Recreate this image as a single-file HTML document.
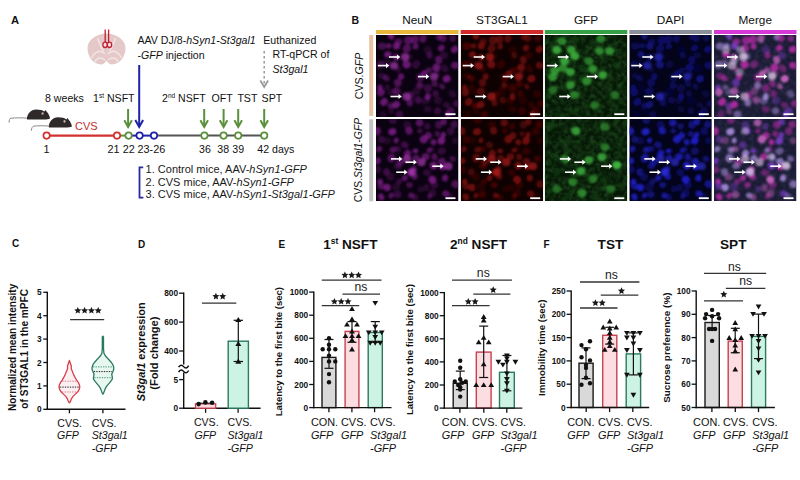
<!DOCTYPE html>
<html><head><meta charset="utf-8"><style>
html,body{margin:0;padding:0;background:#fff;width:800px;height:480px;overflow:hidden}
svg{display:block;font-family:"Liberation Sans", sans-serif}
</style></head><body>
<svg width="800" height="480" viewBox="0 0 800 480">
<rect width="800" height="480" fill="#fff"/>
<defs><filter id="sb" x="-20%" y="-20%" width="140%" height="140%"><feGaussianBlur stdDeviation="0.5"/></filter></defs>
<text x="11" y="24" style="font-size:11.2px;font-weight:bold;" fill="#111" text-anchor="start" >A</text>
<g transform="translate(106.5,49)" filter="url(#sb)">
      <path d="M0,-15.5 C10,-15.5 19,-9 19,-1 C19,7 14,15.5 5,15.5 C2.5,15.5 1,13 0,11.5 C-1,13 -2.5,15.5 -5,15.5 C-14,15.5 -19,7 -19,-1 C-19,-9 -10,-15.5 0,-15.5 Z" fill="#e5c8c8"/>
      <path d="M-15,9 C-11,1 -5,1 -1.5,5 M15,9 C11,1 5,1 1.5,5 M-12,13 C-9,8 -5,8 -1.5,11 M12,13 C9,8 5,8 1.5,11 M-9,-11 C-7,-6 -6,-2 -3,2 M9,-11 C7,-6 6,-2 3,2" stroke="#f2e4e4" stroke-width="1.6" fill="none"/>
    </g>
<g stroke="#c02030" stroke-width="1.3" fill="none"><line x1="105.2" y1="29.5" x2="105.2" y2="42"/><line x1="108.6" y1="29.5" x2="108.6" y2="42"/><ellipse cx="105.1" cy="44.8" rx="2.2" ry="2.7" fill="#f6e0e4"/><ellipse cx="109.5" cy="44.8" rx="2.2" ry="2.7" fill="#f6e0e4"/></g>
<text x="137.5" y="43.8" style="font-size:10.6px" fill="#111">AAV DJ/8-<tspan font-style="italic">hSyn1-St3gal1</tspan></text>
<text x="137.5" y="58.8" style="font-size:10.6px" fill="#111">-<tspan font-style="italic">GFP</tspan> injection</text>
<text x="263.3" y="43.7" style="font-size:10.6px;" fill="#111" text-anchor="start" >Euthanized</text>
<text x="272.5" y="58.3" style="font-size:10.6px;" fill="#111" text-anchor="start" >RT-qPCR of</text>
<text x="272.5" y="72.5" style="font-size:10.6px;font-style:italic;" fill="#111" text-anchor="start" >St3gal1</text>
<line x1="264.2" y1="51" x2="264.2" y2="86" stroke="#9a9a9a" stroke-width="1.5" stroke-dasharray="2.5,2.5"/>
<polyline points="260.3,80.5 264.2,87 268.1,80.5" stroke="#9a9a9a" stroke-width="1.8" fill="none"/>
<line x1="139.2" y1="65" x2="139.2" y2="126.5" stroke="#1e22a6" stroke-width="2"/>
<polyline points="135.3,120 139.2,127 143.1,120" stroke="#1e22a6" stroke-width="2" fill="none"/>
<text x="45" y="101.7" style="font-size:10.6px;" fill="#111" text-anchor="start" >8 weeks</text>
<text x="93" y="101.7" style="font-size:10.6px" fill="#111">1<tspan dy="-3.5" style="font-size:6.5px">st</tspan><tspan dy="3.5"> NSFT</tspan></text>
<text x="162" y="101.7" style="font-size:10.6px" fill="#111">2<tspan dy="-3.5" style="font-size:6.5px">nd</tspan><tspan dy="3.5"> NSFT</tspan></text>
<text x="211.6" y="101.7" style="font-size:10.6px;" fill="#111" text-anchor="start" >OFT</text>
<text x="237.4" y="101.7" style="font-size:10.6px;" fill="#111" text-anchor="start" >TST</text>
<text x="261.6" y="101.7" style="font-size:10.6px;" fill="#111" text-anchor="start" >SPT</text>
<line x1="128.1" y1="109" x2="128.1" y2="126.5" stroke="#5a8f3c" stroke-width="2"/>
<polyline points="124.3,120.3 128.1,127 131.9,120.3" stroke="#5a8f3c" stroke-width="2" fill="none"/>
<line x1="204.2" y1="109" x2="204.2" y2="126.5" stroke="#5a8f3c" stroke-width="2"/>
<polyline points="200.39999999999998,120.3 204.2,127 208.0,120.3" stroke="#5a8f3c" stroke-width="2" fill="none"/>
<line x1="223.6" y1="109" x2="223.6" y2="126.5" stroke="#5a8f3c" stroke-width="2"/>
<polyline points="219.79999999999998,120.3 223.6,127 227.4,120.3" stroke="#5a8f3c" stroke-width="2" fill="none"/>
<line x1="238.2" y1="109" x2="238.2" y2="126.5" stroke="#5a8f3c" stroke-width="2"/>
<polyline points="234.39999999999998,120.3 238.2,127 242.0,120.3" stroke="#5a8f3c" stroke-width="2" fill="none"/>
<line x1="264.2" y1="109" x2="264.2" y2="126.5" stroke="#5a8f3c" stroke-width="2"/>
<polyline points="260.4,120.3 264.2,127 268.0,120.3" stroke="#5a8f3c" stroke-width="2" fill="none"/>
<g transform="translate(27,109.2)">
        <path d="M0.5,9 C-5,8.5 -12,8.6 -16,9 C-17.5,9.2 -18,11 -17.8,13.5" stroke="#8a8a8a" stroke-width="1" fill="none"/>
        <path d="M0,10.3 C-0.5,5 4,0.2 9,0.2 C13,0.2 16,1 17.5,2.3 L18.5,0.8 L19.8,2.6 C21.5,4.5 23,7.5 23,9.3 C22,10 19,10.3 17,10.3 Z" fill="#2e2a2a"/>
        <ellipse cx="15.6" cy="4.3" rx="1.1" ry="1.3" fill="#c9a9a9"/>
        </g>
<g transform="translate(48.9,117.1)">
        <path d="M0.5,9 C-5,8.5 -11,8.6 -15,9 C-16.5,9.2 -17.3,11 -17.6,13.6" stroke="#8a8a8a" stroke-width="1" fill="none"/>
        <path d="M0,10.3 C-0.5,5 4,0.2 9,0.2 C13,0.2 16,1 17.5,2.3 L18.5,0.8 L19.8,2.6 C21.5,4.5 23,7.5 23,9.3 C22,10 19,10.3 17,10.3 Z" fill="#2e2a2a"/>
        <ellipse cx="15.6" cy="4.3" rx="1.1" ry="1.3" fill="#c9a9a9"/>
        </g>
<text x="75" y="129.9" style="font-size:11px;" fill="#c42e2e" text-anchor="start" >CVS</text>
<line x1="46.6" y1="135.6" x2="117" y2="135.6" stroke="#d33030" stroke-width="2.4"/>
<line x1="117" y1="135.6" x2="128.6" y2="135.6" stroke="#5a8f3c" stroke-width="2"/>
<line x1="128.6" y1="135.6" x2="154" y2="135.6" stroke="#1e22a6" stroke-width="2"/>
<line x1="154" y1="135.6" x2="264.2" y2="135.6" stroke="#555" stroke-width="2"/>
<circle cx="46.6" cy="135.6" r="3.2" fill="#fff" stroke="#d33030" stroke-width="1.7"/>
<circle cx="117" cy="135.6" r="3.2" fill="#fff" stroke="#d33030" stroke-width="1.7"/>
<circle cx="128.6" cy="135.6" r="3.2" fill="#fff" stroke="#5a8f3c" stroke-width="1.7"/>
<circle cx="139.6" cy="135.6" r="3.2" fill="#fff" stroke="#1e22a6" stroke-width="1.7"/>
<circle cx="154" cy="135.6" r="3.2" fill="#fff" stroke="#1e22a6" stroke-width="1.7"/>
<circle cx="204.4" cy="135.6" r="3.2" fill="#fff" stroke="#5a8f3c" stroke-width="1.7"/>
<circle cx="223.6" cy="135.6" r="3.2" fill="#fff" stroke="#5a8f3c" stroke-width="1.7"/>
<circle cx="238.2" cy="135.6" r="3.2" fill="#fff" stroke="#5a8f3c" stroke-width="1.7"/>
<circle cx="264.2" cy="135.6" r="3.2" fill="#fff" stroke="#5a8f3c" stroke-width="1.7"/>
<text x="46.6" y="153.4" style="font-size:10.8px;" fill="#111" text-anchor="middle" >1</text>
<text x="107.6" y="153.4" style="font-size:10.8px;" fill="#111" text-anchor="start" >21</text>
<text x="122.8" y="153.4" style="font-size:10.8px;" fill="#111" text-anchor="start" >22</text>
<text x="137.6" y="153.4" style="font-size:10.8px;" fill="#111" text-anchor="start" >23-26</text>
<text x="205" y="153.4" style="font-size:10.6px;" fill="#111" text-anchor="middle" >36</text>
<text x="223.2" y="153.4" style="font-size:10.6px;" fill="#111" text-anchor="middle" >38</text>
<text x="238.2" y="153.4" style="font-size:10.6px;" fill="#111" text-anchor="middle" >39</text>
<text x="257.3" y="153.4" style="font-size:10.6px;" fill="#111" text-anchor="start" >42 days</text>
<polyline points="143.2,167.4 139.5,167.4 139.5,197.6 143.4,197.6" stroke="#2a2aa0" stroke-width="1.8" fill="none"/>
<text x="145.6" y="173.1" style="font-size:11px" fill="#1a1a1a">1. Control mice, AAV-<tspan font-style="italic">hSyn1-GFP</tspan></text>
<text x="145.6" y="185.8" style="font-size:11px" fill="#1a1a1a">2. CVS mice, AAV-<tspan font-style="italic">hSyn1-GFP</tspan></text>
<text x="145.6" y="198.3" style="font-size:11px" fill="#1a1a1a">3. CVS mice, AAV-<tspan font-style="italic">hSyn1-St3gal1-GFP</tspan></text>
<text x="351.5" y="23.8" style="font-size:10.5px;font-weight:bold;" fill="#111" text-anchor="start" >B</text>
<text x="417.25" y="24.4" style="font-size:11.8px;" fill="#111" text-anchor="middle" >NeuN</text>
<rect x="376" y="30" width="82.5" height="4" fill="#e8b83a"/>
<text x="501.95" y="24.4" style="font-size:11.8px;" fill="#111" text-anchor="middle" >ST3GAL1</text>
<rect x="460.7" y="30" width="82.5" height="4" fill="#d32a2a"/>
<text x="586.05" y="24.4" style="font-size:11.8px;" fill="#111" text-anchor="middle" >GFP</text>
<rect x="544.8" y="30" width="82.5" height="4" fill="#35a045"/>
<text x="670.55" y="24.4" style="font-size:11.8px;" fill="#111" text-anchor="middle" >DAPI</text>
<rect x="629.3" y="30" width="82.5" height="4" fill="#8a8f99"/>
<text x="755.25" y="24.4" style="font-size:11.8px;" fill="#111" text-anchor="middle" >Merge</text>
<rect x="714" y="30" width="82.5" height="4" fill="#d63ad6"/>
<rect x="369.2" y="35" width="4" height="81" fill="#e8c4a4"/>
<rect x="369.2" y="119.3" width="4" height="82" fill="#c4c4c4"/>
<text transform="translate(362.5,76) rotate(-90)" text-anchor="middle" style="font-size:10.6px" fill="#111">CVS.<tspan font-style="italic">GFP</tspan></text>
<text transform="translate(361.5,160) rotate(-90)" text-anchor="middle" style="font-size:10.4px" fill="#111">CVS.<tspan font-style="italic">St3gal1-GFP</tspan></text>
<defs><filter id="bl" x="-20%" y="-20%" width="140%" height="140%"><feGaussianBlur stdDeviation="1.3"/></filter><filter id="bl2" x="-20%" y="-20%" width="140%" height="140%"><feGaussianBlur stdDeviation="0.8"/></filter><clipPath id="cp00"><rect x="376" y="35" width="82.5" height="82"/></clipPath><clipPath id="cp01"><rect x="460.7" y="35" width="82.5" height="82"/></clipPath><clipPath id="cp02"><rect x="544.8" y="35" width="82.5" height="82"/></clipPath><clipPath id="cp03"><rect x="629.3" y="35" width="82.5" height="82"/></clipPath><clipPath id="cp04"><rect x="714" y="35" width="82.5" height="82"/></clipPath><clipPath id="cp10"><rect x="376" y="119" width="82.5" height="82"/></clipPath><clipPath id="cp11"><rect x="460.7" y="119" width="82.5" height="82"/></clipPath><clipPath id="cp12"><rect x="544.8" y="119" width="82.5" height="82"/></clipPath><clipPath id="cp13"><rect x="629.3" y="119" width="82.5" height="82"/></clipPath><clipPath id="cp14"><rect x="714" y="119" width="82.5" height="82"/></clipPath></defs>
<defs><filter id="tex" x="0" y="0" width="100%" height="100%"><feTurbulence type="fractalNoise" baseFrequency="0.22" numOctaves="2" seed="3"/><feColorMatrix type="matrix" values="0 0 0 0 0.08  0 0 0 0 0.3  0 0 0 0 0.08  0 0 0 1.3 -0.5"/><feGaussianBlur stdDeviation="0.5"/></filter><filter id="tex2" x="0" y="0" width="100%" height="100%"><feTurbulence type="fractalNoise" baseFrequency="0.22" numOctaves="2" seed="5"/><feColorMatrix type="matrix" values="0 0 0 0 0.2  0 0 0 0 0.26  0 0 0 0 0.35  0 0 0 1.3 -0.5"/><feGaussianBlur stdDeviation="0.5"/></filter></defs>
<g clip-path="url(#cp00)"><rect x="376" y="35" width="82.5" height="82" fill="#0a0210"/>
<g filter="url(#bl)">
<ellipse cx="382.0" cy="46.2" rx="4.2" ry="3.6" transform="rotate(2 382.0 46.2)" fill="#a424b0" opacity="0.37"/>
<ellipse cx="380.3" cy="64.7" rx="4.2" ry="3.6" transform="rotate(126 380.3 64.7)" fill="#a424b0" opacity="0.33"/>
<ellipse cx="381.9" cy="75.9" rx="3.9" ry="3.2" transform="rotate(25 381.9 75.9)" fill="#a424b0" opacity="0.22"/>
<ellipse cx="379.8" cy="87.4" rx="3.1" ry="2.6" transform="rotate(121 379.8 87.4)" fill="#a424b0" opacity="0.54"/>
<ellipse cx="380.9" cy="92.4" rx="4.0" ry="3.7" transform="rotate(124 380.9 92.4)" fill="#a424b0" opacity="0.54"/>
<ellipse cx="384.0" cy="101.9" rx="4.2" ry="3.5" transform="rotate(129 384.0 101.9)" fill="#a424b0" opacity="0.60"/>
<ellipse cx="382.9" cy="114.6" rx="4.0" ry="3.5" transform="rotate(93 382.9 114.6)" fill="#a424b0" opacity="0.15"/>
<ellipse cx="391.0" cy="36.2" rx="3.6" ry="2.9" transform="rotate(62 391.0 36.2)" fill="#a424b0" opacity="0.64"/>
<ellipse cx="388.8" cy="45.9" rx="2.9" ry="2.7" transform="rotate(177 388.8 45.9)" fill="#a424b0" opacity="0.52"/>
<ellipse cx="387.8" cy="54.6" rx="3.7" ry="3.3" transform="rotate(12 387.8 54.6)" fill="#a424b0" opacity="0.61"/>
<ellipse cx="386.5" cy="63.5" rx="4.3" ry="4.3" transform="rotate(112 386.5 63.5)" fill="#a424b0" opacity="0.17"/>
<ellipse cx="386.3" cy="78.1" rx="3.6" ry="2.9" transform="rotate(48 386.3 78.1)" fill="#a424b0" opacity="0.38"/>
<ellipse cx="387.2" cy="87.2" rx="3.0" ry="2.7" transform="rotate(131 387.2 87.2)" fill="#a424b0" opacity="0.20"/>
<ellipse cx="391.1" cy="92.1" rx="3.9" ry="3.2" transform="rotate(149 391.1 92.1)" fill="#a424b0" opacity="0.17"/>
<ellipse cx="390.6" cy="105.9" rx="3.3" ry="3.1" transform="rotate(74 390.6 105.9)" fill="#a424b0" opacity="0.38"/>
<ellipse cx="391.2" cy="111.4" rx="3.1" ry="2.9" transform="rotate(92 391.2 111.4)" fill="#a424b0" opacity="0.17"/>
<ellipse cx="398.5" cy="41.6" rx="4.0" ry="3.3" transform="rotate(11 398.5 41.6)" fill="#a424b0" opacity="0.40"/>
<ellipse cx="396.6" cy="46.1" rx="3.5" ry="3.5" transform="rotate(3 396.6 46.1)" fill="#a424b0" opacity="0.63"/>
<ellipse cx="396.1" cy="57.4" rx="3.6" ry="2.9" transform="rotate(72 396.1 57.4)" fill="#a424b0" opacity="0.61"/>
<ellipse cx="398.1" cy="69.4" rx="3.0" ry="2.8" transform="rotate(127 398.1 69.4)" fill="#a424b0" opacity="0.22"/>
<ellipse cx="401.0" cy="76.6" rx="3.3" ry="3.1" transform="rotate(88 401.0 76.6)" fill="#a424b0" opacity="0.54"/>
<ellipse cx="397.8" cy="82.8" rx="4.0" ry="3.8" transform="rotate(71 397.8 82.8)" fill="#a424b0" opacity="0.45"/>
<ellipse cx="396.4" cy="91.4" rx="4.2" ry="4.2" transform="rotate(130 396.4 91.4)" fill="#a424b0" opacity="0.42"/>
<ellipse cx="396.1" cy="104.7" rx="4.1" ry="3.5" transform="rotate(146 396.1 104.7)" fill="#a424b0" opacity="0.61"/>
<ellipse cx="399.5" cy="114.6" rx="3.9" ry="3.9" transform="rotate(88 399.5 114.6)" fill="#a424b0" opacity="0.31"/>
<ellipse cx="408.5" cy="40.3" rx="4.4" ry="4.3" transform="rotate(135 408.5 40.3)" fill="#a424b0" opacity="0.46"/>
<ellipse cx="406.8" cy="48.5" rx="4.4" ry="4.0" transform="rotate(145 406.8 48.5)" fill="#a424b0" opacity="0.45"/>
<ellipse cx="409.1" cy="56.7" rx="3.5" ry="3.3" transform="rotate(159 409.1 56.7)" fill="#a424b0" opacity="0.18"/>
<ellipse cx="406.6" cy="64.5" rx="4.2" ry="3.9" transform="rotate(30 406.6 64.5)" fill="#a424b0" opacity="0.61"/>
<ellipse cx="410.7" cy="95.3" rx="4.0" ry="3.8" transform="rotate(132 410.7 95.3)" fill="#a424b0" opacity="0.31"/>
<ellipse cx="409.7" cy="102.4" rx="4.0" ry="3.4" transform="rotate(83 409.7 102.4)" fill="#a424b0" opacity="0.42"/>
<ellipse cx="414.9" cy="39.3" rx="4.3" ry="3.9" transform="rotate(118 414.9 39.3)" fill="#a424b0" opacity="0.45"/>
<ellipse cx="415.6" cy="46.4" rx="3.2" ry="2.9" transform="rotate(101 415.6 46.4)" fill="#a424b0" opacity="0.52"/>
<ellipse cx="416.3" cy="64.4" rx="4.3" ry="3.7" transform="rotate(130 416.3 64.4)" fill="#a424b0" opacity="0.24"/>
<ellipse cx="420.2" cy="77.4" rx="4.1" ry="4.1" transform="rotate(55 420.2 77.4)" fill="#a424b0" opacity="0.37"/>
<ellipse cx="419.8" cy="85.3" rx="3.5" ry="3.4" transform="rotate(39 419.8 85.3)" fill="#a424b0" opacity="0.41"/>
<ellipse cx="416.7" cy="90.9" rx="4.1" ry="4.0" transform="rotate(85 416.7 90.9)" fill="#a424b0" opacity="0.17"/>
<ellipse cx="418.2" cy="100.1" rx="3.8" ry="3.6" transform="rotate(52 418.2 100.1)" fill="#a424b0" opacity="0.34"/>
<ellipse cx="423.1" cy="38.7" rx="4.1" ry="3.4" transform="rotate(107 423.1 38.7)" fill="#a424b0" opacity="0.45"/>
<ellipse cx="428.0" cy="49.9" rx="4.3" ry="4.0" transform="rotate(46 428.0 49.9)" fill="#a424b0" opacity="0.16"/>
<ellipse cx="429.5" cy="55.3" rx="3.4" ry="3.1" transform="rotate(69 429.5 55.3)" fill="#a424b0" opacity="0.34"/>
<ellipse cx="429.0" cy="70.2" rx="3.3" ry="2.8" transform="rotate(10 429.0 70.2)" fill="#a424b0" opacity="0.38"/>
<ellipse cx="424.3" cy="73.6" rx="3.4" ry="3.3" transform="rotate(126 424.3 73.6)" fill="#a424b0" opacity="0.56"/>
<ellipse cx="427.8" cy="88.2" rx="4.1" ry="4.0" transform="rotate(36 427.8 88.2)" fill="#a424b0" opacity="0.30"/>
<ellipse cx="427.8" cy="96.5" rx="3.6" ry="2.9" transform="rotate(92 427.8 96.5)" fill="#a424b0" opacity="0.59"/>
<ellipse cx="425.7" cy="100.6" rx="4.3" ry="3.8" transform="rotate(154 425.7 100.6)" fill="#a424b0" opacity="0.19"/>
<ellipse cx="427.8" cy="109.2" rx="4.0" ry="3.3" transform="rotate(7 427.8 109.2)" fill="#a424b0" opacity="0.18"/>
<ellipse cx="439.1" cy="37.0" rx="3.5" ry="3.2" transform="rotate(120 439.1 37.0)" fill="#a424b0" opacity="0.38"/>
<ellipse cx="438.6" cy="59.9" rx="4.2" ry="3.4" transform="rotate(72 438.6 59.9)" fill="#a424b0" opacity="0.49"/>
<ellipse cx="436.3" cy="67.6" rx="4.0" ry="3.9" transform="rotate(122 436.3 67.6)" fill="#a424b0" opacity="0.59"/>
<ellipse cx="437.3" cy="73.3" rx="3.1" ry="2.9" transform="rotate(66 437.3 73.3)" fill="#a424b0" opacity="0.19"/>
<ellipse cx="434.6" cy="83.7" rx="3.5" ry="3.1" transform="rotate(40 434.6 83.7)" fill="#a424b0" opacity="0.36"/>
<ellipse cx="435.6" cy="93.5" rx="3.6" ry="3.1" transform="rotate(78 435.6 93.5)" fill="#a424b0" opacity="0.29"/>
<ellipse cx="438.1" cy="100.5" rx="4.3" ry="4.3" transform="rotate(133 438.1 100.5)" fill="#a424b0" opacity="0.17"/>
<ellipse cx="437.6" cy="110.9" rx="3.7" ry="3.6" transform="rotate(69 437.6 110.9)" fill="#a424b0" opacity="0.28"/>
<ellipse cx="443.0" cy="38.1" rx="3.9" ry="3.8" transform="rotate(57 443.0 38.1)" fill="#a424b0" opacity="0.40"/>
<ellipse cx="441.3" cy="48.0" rx="3.6" ry="3.1" transform="rotate(137 441.3 48.0)" fill="#a424b0" opacity="0.54"/>
<ellipse cx="444.0" cy="55.5" rx="4.1" ry="3.5" transform="rotate(172 444.0 55.5)" fill="#a424b0" opacity="0.22"/>
<ellipse cx="444.7" cy="68.5" rx="4.4" ry="3.6" transform="rotate(54 444.7 68.5)" fill="#a424b0" opacity="0.21"/>
<ellipse cx="446.7" cy="78.7" rx="4.1" ry="3.7" transform="rotate(151 446.7 78.7)" fill="#a424b0" opacity="0.63"/>
<ellipse cx="442.1" cy="86.5" rx="3.2" ry="2.6" transform="rotate(44 442.1 86.5)" fill="#a424b0" opacity="0.39"/>
<ellipse cx="446.5" cy="105.0" rx="3.5" ry="3.0" transform="rotate(23 446.5 105.0)" fill="#a424b0" opacity="0.23"/>
<ellipse cx="447.7" cy="114.3" rx="3.5" ry="3.1" transform="rotate(65 447.7 114.3)" fill="#a424b0" opacity="0.55"/>
<ellipse cx="452.8" cy="38.3" rx="3.6" ry="3.4" transform="rotate(89 452.8 38.3)" fill="#a424b0" opacity="0.32"/>
<ellipse cx="454.6" cy="49.4" rx="3.9" ry="3.3" transform="rotate(136 454.6 49.4)" fill="#a424b0" opacity="0.58"/>
<ellipse cx="455.0" cy="65.3" rx="4.0" ry="3.5" transform="rotate(12 455.0 65.3)" fill="#a424b0" opacity="0.50"/>
<ellipse cx="452.4" cy="93.9" rx="4.3" ry="3.5" transform="rotate(44 452.4 93.9)" fill="#a424b0" opacity="0.19"/>
<ellipse cx="456.6" cy="103.5" rx="3.8" ry="3.5" transform="rotate(17 456.6 103.5)" fill="#a424b0" opacity="0.31"/>
<ellipse cx="451.0" cy="111.0" rx="4.1" ry="3.9" transform="rotate(58 451.0 111.0)" fill="#a424b0" opacity="0.33"/>
<ellipse cx="405.0" cy="57.0" rx="4.2" ry="3.9" fill="#c040c8" opacity="0.6"/>
<ellipse cx="394.0" cy="65.6" rx="4.2" ry="3.9" fill="#c040c8" opacity="0.6"/>
<ellipse cx="434.0" cy="76.6" rx="4.2" ry="3.9" fill="#c040c8" opacity="0.6"/>
<ellipse cx="406.5" cy="96.5" rx="4.2" ry="3.9" fill="#c040c8" opacity="0.6"/>
</g></g>
<rect x="445.5" y="113.3" width="10" height="1.8" fill="#fff"/>
<g clip-path="url(#cp01)"><rect x="460.7" y="35" width="82.5" height="82" fill="#0e0101"/>
<g filter="url(#bl)">
<ellipse cx="466.7" cy="46.2" rx="4.2" ry="3.6" transform="rotate(2 466.7 46.2)" fill="#9a1010" opacity="0.39"/>
<ellipse cx="465.0" cy="64.7" rx="4.2" ry="3.6" transform="rotate(126 465.0 64.7)" fill="#9a1010" opacity="0.34"/>
<ellipse cx="466.6" cy="75.9" rx="3.9" ry="3.2" transform="rotate(25 466.6 75.9)" fill="#9a1010" opacity="0.22"/>
<ellipse cx="464.5" cy="87.4" rx="3.1" ry="2.6" transform="rotate(121 464.5 87.4)" fill="#9a1010" opacity="0.58"/>
<ellipse cx="465.6" cy="92.4" rx="4.0" ry="3.7" transform="rotate(124 465.6 92.4)" fill="#9a1010" opacity="0.58"/>
<ellipse cx="468.7" cy="101.9" rx="4.2" ry="3.5" transform="rotate(129 468.7 101.9)" fill="#9a1010" opacity="0.64"/>
<ellipse cx="467.6" cy="114.6" rx="4.0" ry="3.5" transform="rotate(93 467.6 114.6)" fill="#9a1010" opacity="0.15"/>
<ellipse cx="475.7" cy="36.2" rx="3.6" ry="2.9" transform="rotate(62 475.7 36.2)" fill="#9a1010" opacity="0.69"/>
<ellipse cx="473.5" cy="45.9" rx="2.9" ry="2.7" transform="rotate(177 473.5 45.9)" fill="#9a1010" opacity="0.55"/>
<ellipse cx="472.5" cy="54.6" rx="3.7" ry="3.3" transform="rotate(12 472.5 54.6)" fill="#9a1010" opacity="0.66"/>
<ellipse cx="471.2" cy="63.5" rx="4.3" ry="4.3" transform="rotate(112 471.2 63.5)" fill="#9a1010" opacity="0.18"/>
<ellipse cx="471.0" cy="78.1" rx="3.6" ry="2.9" transform="rotate(48 471.0 78.1)" fill="#9a1010" opacity="0.40"/>
<ellipse cx="471.9" cy="87.2" rx="3.0" ry="2.7" transform="rotate(131 471.9 87.2)" fill="#9a1010" opacity="0.21"/>
<ellipse cx="475.8" cy="92.1" rx="3.9" ry="3.2" transform="rotate(149 475.8 92.1)" fill="#9a1010" opacity="0.17"/>
<ellipse cx="475.3" cy="105.9" rx="3.3" ry="3.1" transform="rotate(74 475.3 105.9)" fill="#9a1010" opacity="0.40"/>
<ellipse cx="475.9" cy="111.4" rx="3.1" ry="2.9" transform="rotate(92 475.9 111.4)" fill="#9a1010" opacity="0.17"/>
<ellipse cx="483.2" cy="41.6" rx="4.0" ry="3.3" transform="rotate(11 483.2 41.6)" fill="#9a1010" opacity="0.42"/>
<ellipse cx="481.3" cy="46.1" rx="3.5" ry="3.5" transform="rotate(3 481.3 46.1)" fill="#9a1010" opacity="0.67"/>
<ellipse cx="480.8" cy="57.4" rx="3.6" ry="2.9" transform="rotate(72 480.8 57.4)" fill="#9a1010" opacity="0.66"/>
<ellipse cx="482.8" cy="69.4" rx="3.0" ry="2.8" transform="rotate(127 482.8 69.4)" fill="#9a1010" opacity="0.23"/>
<ellipse cx="485.7" cy="76.6" rx="3.3" ry="3.1" transform="rotate(88 485.7 76.6)" fill="#9a1010" opacity="0.58"/>
<ellipse cx="482.5" cy="82.8" rx="4.0" ry="3.8" transform="rotate(71 482.5 82.8)" fill="#9a1010" opacity="0.48"/>
<ellipse cx="481.1" cy="91.4" rx="4.2" ry="4.2" transform="rotate(130 481.1 91.4)" fill="#9a1010" opacity="0.45"/>
<ellipse cx="480.8" cy="104.7" rx="4.1" ry="3.5" transform="rotate(146 480.8 104.7)" fill="#9a1010" opacity="0.65"/>
<ellipse cx="484.2" cy="114.6" rx="3.9" ry="3.9" transform="rotate(88 484.2 114.6)" fill="#9a1010" opacity="0.33"/>
<ellipse cx="493.2" cy="40.3" rx="4.4" ry="4.3" transform="rotate(135 493.2 40.3)" fill="#9a1010" opacity="0.49"/>
<ellipse cx="491.5" cy="48.5" rx="4.4" ry="4.0" transform="rotate(145 491.5 48.5)" fill="#9a1010" opacity="0.48"/>
<ellipse cx="493.8" cy="56.7" rx="3.5" ry="3.3" transform="rotate(159 493.8 56.7)" fill="#9a1010" opacity="0.19"/>
<ellipse cx="491.3" cy="64.5" rx="4.2" ry="3.9" transform="rotate(30 491.3 64.5)" fill="#9a1010" opacity="0.66"/>
<ellipse cx="495.4" cy="95.3" rx="4.0" ry="3.8" transform="rotate(132 495.4 95.3)" fill="#9a1010" opacity="0.33"/>
<ellipse cx="494.4" cy="102.4" rx="4.0" ry="3.4" transform="rotate(83 494.4 102.4)" fill="#9a1010" opacity="0.45"/>
<ellipse cx="499.6" cy="39.3" rx="4.3" ry="3.9" transform="rotate(118 499.6 39.3)" fill="#9a1010" opacity="0.48"/>
<ellipse cx="500.3" cy="46.4" rx="3.2" ry="2.9" transform="rotate(101 500.3 46.4)" fill="#9a1010" opacity="0.55"/>
<ellipse cx="501.0" cy="64.4" rx="4.3" ry="3.7" transform="rotate(130 501.0 64.4)" fill="#9a1010" opacity="0.25"/>
<ellipse cx="504.9" cy="77.4" rx="4.1" ry="4.1" transform="rotate(55 504.9 77.4)" fill="#9a1010" opacity="0.39"/>
<ellipse cx="504.5" cy="85.3" rx="3.5" ry="3.4" transform="rotate(39 504.5 85.3)" fill="#9a1010" opacity="0.43"/>
<ellipse cx="501.4" cy="90.9" rx="4.1" ry="4.0" transform="rotate(85 501.4 90.9)" fill="#9a1010" opacity="0.17"/>
<ellipse cx="502.9" cy="100.1" rx="3.8" ry="3.6" transform="rotate(52 502.9 100.1)" fill="#9a1010" opacity="0.36"/>
<ellipse cx="507.8" cy="38.7" rx="4.1" ry="3.4" transform="rotate(107 507.8 38.7)" fill="#9a1010" opacity="0.48"/>
<ellipse cx="512.7" cy="49.9" rx="4.3" ry="4.0" transform="rotate(46 512.7 49.9)" fill="#9a1010" opacity="0.17"/>
<ellipse cx="514.2" cy="55.3" rx="3.4" ry="3.1" transform="rotate(69 514.2 55.3)" fill="#9a1010" opacity="0.36"/>
<ellipse cx="513.7" cy="70.2" rx="3.3" ry="2.8" transform="rotate(10 513.7 70.2)" fill="#9a1010" opacity="0.40"/>
<ellipse cx="509.0" cy="73.6" rx="3.4" ry="3.3" transform="rotate(126 509.0 73.6)" fill="#9a1010" opacity="0.60"/>
<ellipse cx="512.5" cy="88.2" rx="4.1" ry="4.0" transform="rotate(36 512.5 88.2)" fill="#9a1010" opacity="0.32"/>
<ellipse cx="512.5" cy="96.5" rx="3.6" ry="2.9" transform="rotate(92 512.5 96.5)" fill="#9a1010" opacity="0.63"/>
<ellipse cx="510.4" cy="100.6" rx="4.3" ry="3.8" transform="rotate(154 510.4 100.6)" fill="#9a1010" opacity="0.19"/>
<ellipse cx="512.5" cy="109.2" rx="4.0" ry="3.3" transform="rotate(7 512.5 109.2)" fill="#9a1010" opacity="0.19"/>
<ellipse cx="523.8" cy="37.0" rx="3.5" ry="3.2" transform="rotate(120 523.8 37.0)" fill="#9a1010" opacity="0.41"/>
<ellipse cx="523.3" cy="59.9" rx="4.2" ry="3.4" transform="rotate(72 523.3 59.9)" fill="#9a1010" opacity="0.52"/>
<ellipse cx="521.0" cy="67.6" rx="4.0" ry="3.9" transform="rotate(122 521.0 67.6)" fill="#9a1010" opacity="0.63"/>
<ellipse cx="522.0" cy="73.3" rx="3.1" ry="2.9" transform="rotate(66 522.0 73.3)" fill="#9a1010" opacity="0.20"/>
<ellipse cx="519.3" cy="83.7" rx="3.5" ry="3.1" transform="rotate(40 519.3 83.7)" fill="#9a1010" opacity="0.38"/>
<ellipse cx="520.3" cy="93.5" rx="3.6" ry="3.1" transform="rotate(78 520.3 93.5)" fill="#9a1010" opacity="0.30"/>
<ellipse cx="522.8" cy="100.5" rx="4.3" ry="4.3" transform="rotate(133 522.8 100.5)" fill="#9a1010" opacity="0.17"/>
<ellipse cx="522.3" cy="110.9" rx="3.7" ry="3.6" transform="rotate(69 522.3 110.9)" fill="#9a1010" opacity="0.30"/>
<ellipse cx="527.7" cy="38.1" rx="3.9" ry="3.8" transform="rotate(57 527.7 38.1)" fill="#9a1010" opacity="0.42"/>
<ellipse cx="526.0" cy="48.0" rx="3.6" ry="3.1" transform="rotate(137 526.0 48.0)" fill="#9a1010" opacity="0.58"/>
<ellipse cx="528.7" cy="55.5" rx="4.1" ry="3.5" transform="rotate(172 528.7 55.5)" fill="#9a1010" opacity="0.23"/>
<ellipse cx="529.4" cy="68.5" rx="4.4" ry="3.6" transform="rotate(54 529.4 68.5)" fill="#9a1010" opacity="0.22"/>
<ellipse cx="531.4" cy="78.7" rx="4.1" ry="3.7" transform="rotate(151 531.4 78.7)" fill="#9a1010" opacity="0.68"/>
<ellipse cx="526.8" cy="86.5" rx="3.2" ry="2.6" transform="rotate(44 526.8 86.5)" fill="#9a1010" opacity="0.42"/>
<ellipse cx="531.2" cy="105.0" rx="3.5" ry="3.0" transform="rotate(23 531.2 105.0)" fill="#9a1010" opacity="0.23"/>
<ellipse cx="532.4" cy="114.3" rx="3.5" ry="3.1" transform="rotate(65 532.4 114.3)" fill="#9a1010" opacity="0.59"/>
<ellipse cx="537.5" cy="38.3" rx="3.6" ry="3.4" transform="rotate(89 537.5 38.3)" fill="#9a1010" opacity="0.34"/>
<ellipse cx="539.3" cy="49.4" rx="3.9" ry="3.3" transform="rotate(136 539.3 49.4)" fill="#9a1010" opacity="0.62"/>
<ellipse cx="539.7" cy="65.3" rx="4.0" ry="3.5" transform="rotate(12 539.7 65.3)" fill="#9a1010" opacity="0.54"/>
<ellipse cx="537.1" cy="93.9" rx="4.3" ry="3.5" transform="rotate(44 537.1 93.9)" fill="#9a1010" opacity="0.20"/>
<ellipse cx="541.3" cy="103.5" rx="3.8" ry="3.5" transform="rotate(17 541.3 103.5)" fill="#9a1010" opacity="0.33"/>
<ellipse cx="535.7" cy="111.0" rx="4.1" ry="3.9" transform="rotate(58 535.7 111.0)" fill="#9a1010" opacity="0.34"/>
<ellipse cx="489.7" cy="57.0" rx="4.2" ry="3.9" fill="#c82020" opacity="0.6"/>
<ellipse cx="478.7" cy="65.6" rx="4.2" ry="3.9" fill="#c82020" opacity="0.6"/>
<ellipse cx="518.7" cy="76.6" rx="4.2" ry="3.9" fill="#c82020" opacity="0.6"/>
<ellipse cx="491.2" cy="96.5" rx="4.2" ry="3.9" fill="#c82020" opacity="0.6"/>
</g></g>
<rect x="530.2" y="113.3" width="10" height="1.8" fill="#fff"/>
<g clip-path="url(#cp02)"><rect x="544.8" y="35" width="82.5" height="82" fill="#061806"/>
<rect x="544.8" y="35" width="82.5" height="82" filter="url(#tex)" opacity="0.45"/>
<g filter="url(#bl)">
<ellipse cx="546.8" cy="40.9" rx="2.9" ry="2.8" fill="#1c521c" opacity="0.48"/>
<ellipse cx="551.7" cy="44.7" rx="2.5" ry="2.4" fill="#1c521c" opacity="0.43"/>
<ellipse cx="550.5" cy="57.6" rx="2.6" ry="2.2" fill="#1c521c" opacity="0.23"/>
<ellipse cx="551.5" cy="69.2" rx="3.3" ry="3.2" fill="#1c521c" opacity="0.50"/>
<ellipse cx="548.9" cy="94.4" rx="3.0" ry="3.0" fill="#1c521c" opacity="0.46"/>
<ellipse cx="548.0" cy="96.8" rx="3.1" ry="2.9" fill="#1c521c" opacity="0.41"/>
<ellipse cx="546.2" cy="106.1" rx="3.1" ry="2.9" fill="#1c521c" opacity="0.20"/>
<ellipse cx="545.6" cy="115.3" rx="2.6" ry="2.3" fill="#1c521c" opacity="0.41"/>
<ellipse cx="555.6" cy="39.9" rx="3.1" ry="3.0" fill="#1c521c" opacity="0.39"/>
<ellipse cx="555.8" cy="46.4" rx="3.3" ry="3.2" fill="#1c521c" opacity="0.32"/>
<ellipse cx="552.7" cy="55.5" rx="2.2" ry="2.1" fill="#1c521c" opacity="0.17"/>
<ellipse cx="554.3" cy="62.9" rx="3.2" ry="2.7" fill="#1c521c" opacity="0.39"/>
<ellipse cx="558.3" cy="69.1" rx="2.3" ry="2.1" fill="#1c521c" opacity="0.50"/>
<ellipse cx="557.0" cy="75.8" rx="3.0" ry="2.6" fill="#1c521c" opacity="0.27"/>
<ellipse cx="556.4" cy="86.2" rx="2.8" ry="2.3" fill="#1c521c" opacity="0.34"/>
<ellipse cx="552.9" cy="92.8" rx="3.2" ry="3.0" fill="#1c521c" opacity="0.19"/>
<ellipse cx="553.1" cy="100.8" rx="2.4" ry="2.2" fill="#1c521c" opacity="0.31"/>
<ellipse cx="558.1" cy="108.9" rx="3.2" ry="2.8" fill="#1c521c" opacity="0.25"/>
<ellipse cx="557.3" cy="115.3" rx="2.6" ry="2.4" fill="#1c521c" opacity="0.37"/>
<ellipse cx="565.8" cy="35.6" rx="2.8" ry="2.4" fill="#1c521c" opacity="0.45"/>
<ellipse cx="566.4" cy="43.7" rx="3.2" ry="2.6" fill="#1c521c" opacity="0.29"/>
<ellipse cx="560.1" cy="58.7" rx="2.6" ry="2.6" fill="#1c521c" opacity="0.31"/>
<ellipse cx="566.3" cy="70.8" rx="2.8" ry="2.5" fill="#1c521c" opacity="0.29"/>
<ellipse cx="562.9" cy="74.6" rx="2.8" ry="2.3" fill="#1c521c" opacity="0.34"/>
<ellipse cx="563.3" cy="85.7" rx="2.4" ry="2.4" fill="#1c521c" opacity="0.34"/>
<ellipse cx="563.6" cy="89.1" rx="2.9" ry="2.3" fill="#1c521c" opacity="0.28"/>
<ellipse cx="563.7" cy="98.0" rx="3.4" ry="3.0" fill="#1c521c" opacity="0.16"/>
<ellipse cx="563.9" cy="103.8" rx="2.4" ry="2.0" fill="#1c521c" opacity="0.22"/>
<ellipse cx="563.8" cy="115.9" rx="3.3" ry="2.6" fill="#1c521c" opacity="0.44"/>
<ellipse cx="571.1" cy="40.1" rx="3.3" ry="3.2" fill="#1c521c" opacity="0.44"/>
<ellipse cx="574.2" cy="43.9" rx="2.5" ry="2.4" fill="#1c521c" opacity="0.29"/>
<ellipse cx="572.6" cy="55.3" rx="2.8" ry="2.6" fill="#1c521c" opacity="0.25"/>
<ellipse cx="568.9" cy="63.2" rx="3.1" ry="3.0" fill="#1c521c" opacity="0.49"/>
<ellipse cx="568.9" cy="70.0" rx="2.7" ry="2.4" fill="#1c521c" opacity="0.37"/>
<ellipse cx="570.0" cy="79.3" rx="2.9" ry="2.7" fill="#1c521c" opacity="0.47"/>
<ellipse cx="574.1" cy="82.6" rx="3.2" ry="2.8" fill="#1c521c" opacity="0.40"/>
<ellipse cx="572.7" cy="93.4" rx="3.3" ry="2.7" fill="#1c521c" opacity="0.42"/>
<ellipse cx="569.3" cy="109.1" rx="3.0" ry="2.5" fill="#1c521c" opacity="0.40"/>
<ellipse cx="570.7" cy="112.7" rx="2.9" ry="2.6" fill="#1c521c" opacity="0.29"/>
<ellipse cx="577.0" cy="39.6" rx="2.8" ry="2.7" fill="#1c521c" opacity="0.47"/>
<ellipse cx="575.2" cy="46.7" rx="2.2" ry="1.9" fill="#1c521c" opacity="0.26"/>
<ellipse cx="581.4" cy="50.6" rx="3.3" ry="2.9" fill="#1c521c" opacity="0.15"/>
<ellipse cx="575.5" cy="57.9" rx="3.0" ry="2.7" fill="#1c521c" opacity="0.24"/>
<ellipse cx="582.0" cy="67.1" rx="3.3" ry="3.0" fill="#1c521c" opacity="0.40"/>
<ellipse cx="580.7" cy="76.8" rx="2.5" ry="2.2" fill="#1c521c" opacity="0.45"/>
<ellipse cx="581.3" cy="80.7" rx="3.1" ry="2.5" fill="#1c521c" opacity="0.49"/>
<ellipse cx="581.3" cy="93.4" rx="2.6" ry="2.4" fill="#1c521c" opacity="0.29"/>
<ellipse cx="577.4" cy="108.7" rx="3.3" ry="2.8" fill="#1c521c" opacity="0.44"/>
<ellipse cx="576.0" cy="111.6" rx="3.2" ry="3.1" fill="#1c521c" opacity="0.33"/>
<ellipse cx="583.6" cy="35.2" rx="3.3" ry="2.9" fill="#1c521c" opacity="0.32"/>
<ellipse cx="588.2" cy="48.6" rx="3.2" ry="2.8" fill="#1c521c" opacity="0.37"/>
<ellipse cx="586.3" cy="53.9" rx="3.1" ry="2.6" fill="#1c521c" opacity="0.22"/>
<ellipse cx="584.6" cy="59.6" rx="3.0" ry="2.7" fill="#1c521c" opacity="0.46"/>
<ellipse cx="586.0" cy="69.9" rx="3.3" ry="2.8" fill="#1c521c" opacity="0.46"/>
<ellipse cx="585.1" cy="76.8" rx="3.3" ry="3.2" fill="#1c521c" opacity="0.44"/>
<ellipse cx="586.1" cy="84.7" rx="3.4" ry="3.0" fill="#1c521c" opacity="0.42"/>
<ellipse cx="585.6" cy="90.4" rx="2.4" ry="2.2" fill="#1c521c" opacity="0.33"/>
<ellipse cx="588.0" cy="101.5" rx="2.5" ry="2.2" fill="#1c521c" opacity="0.21"/>
<ellipse cx="584.3" cy="106.2" rx="2.9" ry="2.9" fill="#1c521c" opacity="0.44"/>
<ellipse cx="587.5" cy="114.4" rx="2.2" ry="2.2" fill="#1c521c" opacity="0.34"/>
<ellipse cx="592.8" cy="42.0" rx="3.4" ry="3.2" fill="#1c521c" opacity="0.27"/>
<ellipse cx="596.3" cy="48.0" rx="3.1" ry="3.0" fill="#1c521c" opacity="0.38"/>
<ellipse cx="590.5" cy="63.9" rx="2.7" ry="2.3" fill="#1c521c" opacity="0.47"/>
<ellipse cx="593.0" cy="65.4" rx="2.5" ry="2.5" fill="#1c521c" opacity="0.23"/>
<ellipse cx="596.0" cy="74.6" rx="3.0" ry="2.8" fill="#1c521c" opacity="0.24"/>
<ellipse cx="590.6" cy="80.2" rx="3.0" ry="2.6" fill="#1c521c" opacity="0.39"/>
<ellipse cx="592.3" cy="88.9" rx="2.4" ry="2.0" fill="#1c521c" opacity="0.30"/>
<ellipse cx="592.5" cy="95.2" rx="2.7" ry="2.3" fill="#1c521c" opacity="0.34"/>
<ellipse cx="594.2" cy="104.8" rx="3.3" ry="3.1" fill="#1c521c" opacity="0.40"/>
<ellipse cx="595.9" cy="111.3" rx="2.3" ry="2.2" fill="#1c521c" opacity="0.19"/>
<ellipse cx="599.9" cy="35.9" rx="2.7" ry="2.6" fill="#1c521c" opacity="0.23"/>
<ellipse cx="601.3" cy="45.5" rx="3.4" ry="2.9" fill="#1c521c" opacity="0.20"/>
<ellipse cx="601.7" cy="56.9" rx="2.6" ry="2.6" fill="#1c521c" opacity="0.26"/>
<ellipse cx="600.1" cy="60.2" rx="3.0" ry="2.5" fill="#1c521c" opacity="0.18"/>
<ellipse cx="602.8" cy="68.9" rx="3.0" ry="2.8" fill="#1c521c" opacity="0.49"/>
<ellipse cx="600.1" cy="75.0" rx="3.3" ry="2.8" fill="#1c521c" opacity="0.28"/>
<ellipse cx="600.4" cy="84.7" rx="3.2" ry="2.6" fill="#1c521c" opacity="0.38"/>
<ellipse cx="599.9" cy="100.0" rx="2.3" ry="2.0" fill="#1c521c" opacity="0.38"/>
<ellipse cx="600.8" cy="106.4" rx="2.4" ry="2.3" fill="#1c521c" opacity="0.41"/>
<ellipse cx="597.7" cy="110.5" rx="3.3" ry="2.8" fill="#1c521c" opacity="0.35"/>
<ellipse cx="610.3" cy="35.9" rx="3.3" ry="3.1" fill="#1c521c" opacity="0.34"/>
<ellipse cx="608.8" cy="44.9" rx="2.6" ry="2.2" fill="#1c521c" opacity="0.37"/>
<ellipse cx="606.8" cy="56.2" rx="2.5" ry="2.4" fill="#1c521c" opacity="0.24"/>
<ellipse cx="605.7" cy="60.4" rx="3.4" ry="2.8" fill="#1c521c" opacity="0.23"/>
<ellipse cx="609.5" cy="70.5" rx="2.3" ry="2.2" fill="#1c521c" opacity="0.19"/>
<ellipse cx="610.3" cy="78.6" rx="3.1" ry="3.0" fill="#1c521c" opacity="0.41"/>
<ellipse cx="607.5" cy="84.2" rx="3.0" ry="2.7" fill="#1c521c" opacity="0.33"/>
<ellipse cx="608.2" cy="90.2" rx="3.1" ry="3.1" fill="#1c521c" opacity="0.30"/>
<ellipse cx="606.1" cy="96.0" rx="3.0" ry="2.5" fill="#1c521c" opacity="0.30"/>
<ellipse cx="611.8" cy="103.2" rx="3.1" ry="2.9" fill="#1c521c" opacity="0.39"/>
<ellipse cx="609.6" cy="115.7" rx="2.7" ry="2.4" fill="#1c521c" opacity="0.20"/>
<ellipse cx="615.0" cy="43.8" rx="2.6" ry="2.5" fill="#1c521c" opacity="0.50"/>
<ellipse cx="619.1" cy="51.7" rx="3.4" ry="3.3" fill="#1c521c" opacity="0.44"/>
<ellipse cx="617.7" cy="64.4" rx="3.0" ry="2.9" fill="#1c521c" opacity="0.49"/>
<ellipse cx="616.9" cy="66.7" rx="3.1" ry="2.8" fill="#1c521c" opacity="0.37"/>
<ellipse cx="618.6" cy="78.1" rx="2.9" ry="2.7" fill="#1c521c" opacity="0.29"/>
<ellipse cx="619.5" cy="86.3" rx="2.9" ry="2.7" fill="#1c521c" opacity="0.48"/>
<ellipse cx="616.5" cy="97.7" rx="3.1" ry="2.8" fill="#1c521c" opacity="0.36"/>
<ellipse cx="615.6" cy="106.7" rx="3.2" ry="2.5" fill="#1c521c" opacity="0.22"/>
<ellipse cx="617.9" cy="111.2" rx="3.5" ry="3.2" fill="#1c521c" opacity="0.24"/>
<ellipse cx="624.5" cy="44.6" rx="2.6" ry="2.1" fill="#1c521c" opacity="0.29"/>
<ellipse cx="626.5" cy="51.9" rx="2.2" ry="2.1" fill="#1c521c" opacity="0.24"/>
<ellipse cx="625.5" cy="63.3" rx="2.7" ry="2.2" fill="#1c521c" opacity="0.24"/>
<ellipse cx="621.9" cy="70.8" rx="2.7" ry="2.4" fill="#1c521c" opacity="0.21"/>
<ellipse cx="626.4" cy="78.6" rx="2.6" ry="2.5" fill="#1c521c" opacity="0.38"/>
<ellipse cx="620.2" cy="84.7" rx="2.3" ry="2.1" fill="#1c521c" opacity="0.34"/>
<ellipse cx="620.8" cy="91.8" rx="2.6" ry="2.1" fill="#1c521c" opacity="0.44"/>
<ellipse cx="621.4" cy="101.8" rx="3.2" ry="2.7" fill="#1c521c" opacity="0.46"/>
<ellipse cx="625.9" cy="114.7" rx="3.0" ry="3.0" fill="#1c521c" opacity="0.23"/>
</g><g filter="url(#bl2)">
<ellipse cx="556.8" cy="50.0" rx="4.6" ry="4.1" fill="#3cae3c" opacity="0.90"/>
<ellipse cx="571.3" cy="50.0" rx="4.6" ry="4.1" fill="#3cae3c" opacity="0.84"/>
<ellipse cx="561.8" cy="41.0" rx="4.6" ry="4.1" fill="#3cae3c" opacity="0.70"/>
<ellipse cx="574.8" cy="56.0" rx="4.6" ry="4.1" fill="#3cae3c" opacity="0.90"/>
<ellipse cx="564.5" cy="61.0" rx="4.6" ry="4.1" fill="#3cae3c" opacity="0.90"/>
<ellipse cx="554.8" cy="71.0" rx="4.6" ry="4.1" fill="#3cae3c" opacity="0.77"/>
<ellipse cx="570.4" cy="72.0" rx="4.6" ry="4.1" fill="#3cae3c" opacity="0.84"/>
<ellipse cx="552.5" cy="77.0" rx="4.6" ry="4.1" fill="#3cae3c" opacity="0.77"/>
<ellipse cx="562.8" cy="68.0" rx="4.6" ry="4.1" fill="#3cae3c" opacity="0.70"/>
<ellipse cx="592.8" cy="69.0" rx="4.6" ry="4.1" fill="#3cae3c" opacity="0.77"/>
<ellipse cx="602.8" cy="75.0" rx="4.6" ry="4.1" fill="#3cae3c" opacity="0.84"/>
<ellipse cx="586.8" cy="81.0" rx="4.6" ry="4.1" fill="#3cae3c" opacity="0.70"/>
<ellipse cx="570.4" cy="85.0" rx="4.6" ry="4.1" fill="#3cae3c" opacity="0.77"/>
<ellipse cx="574.8" cy="95.0" rx="4.6" ry="4.1" fill="#3cae3c" opacity="0.64"/>
<ellipse cx="599.5" cy="51.0" rx="4.6" ry="4.1" fill="#3cae3c" opacity="0.70"/>
<ellipse cx="609.8" cy="51.0" rx="4.6" ry="4.1" fill="#3cae3c" opacity="0.77"/>
<ellipse cx="600.8" cy="39.0" rx="4.6" ry="4.1" fill="#3cae3c" opacity="0.64"/>
<ellipse cx="588.8" cy="61.0" rx="4.6" ry="4.1" fill="#3cae3c" opacity="0.57"/>
<ellipse cx="552.8" cy="90.0" rx="4.6" ry="4.1" fill="#3cae3c" opacity="0.51"/>
<ellipse cx="614.8" cy="95.0" rx="4.6" ry="4.1" fill="#3cae3c" opacity="0.51"/>
<ellipse cx="594.8" cy="105.0" rx="4.6" ry="4.1" fill="#3cae3c" opacity="0.51"/>
</g></g>
<rect x="614.3" y="113.3" width="10" height="1.8" fill="#fff"/>
<g clip-path="url(#cp03)"><rect x="629.3" y="35" width="82.5" height="82" fill="#03031a"/>
<g filter="url(#bl)">
<ellipse cx="635.3" cy="46.2" rx="4.2" ry="3.6" transform="rotate(2 635.3 46.2)" fill="#1a1ab4" opacity="0.35"/>
<ellipse cx="633.6" cy="64.7" rx="4.2" ry="3.6" transform="rotate(126 633.6 64.7)" fill="#1a1ab4" opacity="0.31"/>
<ellipse cx="635.2" cy="75.9" rx="3.9" ry="3.2" transform="rotate(25 635.2 75.9)" fill="#1a1ab4" opacity="0.21"/>
<ellipse cx="633.1" cy="87.4" rx="3.1" ry="2.6" transform="rotate(121 633.1 87.4)" fill="#1a1ab4" opacity="0.50"/>
<ellipse cx="634.2" cy="92.4" rx="4.0" ry="3.7" transform="rotate(124 634.2 92.4)" fill="#1a1ab4" opacity="0.50"/>
<ellipse cx="637.3" cy="101.9" rx="4.2" ry="3.5" transform="rotate(129 637.3 101.9)" fill="#1a1ab4" opacity="0.55"/>
<ellipse cx="636.2" cy="114.6" rx="4.0" ry="3.5" transform="rotate(93 636.2 114.6)" fill="#1a1ab4" opacity="0.15"/>
<ellipse cx="644.3" cy="36.2" rx="3.6" ry="2.9" transform="rotate(62 644.3 36.2)" fill="#1a1ab4" opacity="0.59"/>
<ellipse cx="642.1" cy="45.9" rx="2.9" ry="2.7" transform="rotate(177 642.1 45.9)" fill="#1a1ab4" opacity="0.48"/>
<ellipse cx="641.1" cy="54.6" rx="3.7" ry="3.3" transform="rotate(12 641.1 54.6)" fill="#1a1ab4" opacity="0.56"/>
<ellipse cx="639.8" cy="63.5" rx="4.3" ry="4.3" transform="rotate(112 639.8 63.5)" fill="#1a1ab4" opacity="0.17"/>
<ellipse cx="639.6" cy="78.1" rx="3.6" ry="2.9" transform="rotate(48 639.6 78.1)" fill="#1a1ab4" opacity="0.36"/>
<ellipse cx="640.5" cy="87.2" rx="3.0" ry="2.7" transform="rotate(131 640.5 87.2)" fill="#1a1ab4" opacity="0.20"/>
<ellipse cx="644.4" cy="92.1" rx="3.9" ry="3.2" transform="rotate(149 644.4 92.1)" fill="#1a1ab4" opacity="0.17"/>
<ellipse cx="643.9" cy="105.9" rx="3.3" ry="3.1" transform="rotate(74 643.9 105.9)" fill="#1a1ab4" opacity="0.36"/>
<ellipse cx="644.5" cy="111.4" rx="3.1" ry="2.9" transform="rotate(92 644.5 111.4)" fill="#1a1ab4" opacity="0.17"/>
<ellipse cx="651.8" cy="41.6" rx="4.0" ry="3.3" transform="rotate(11 651.8 41.6)" fill="#1a1ab4" opacity="0.37"/>
<ellipse cx="649.9" cy="46.1" rx="3.5" ry="3.5" transform="rotate(3 649.9 46.1)" fill="#1a1ab4" opacity="0.58"/>
<ellipse cx="649.4" cy="57.4" rx="3.6" ry="2.9" transform="rotate(72 649.4 57.4)" fill="#1a1ab4" opacity="0.57"/>
<ellipse cx="651.4" cy="69.4" rx="3.0" ry="2.8" transform="rotate(127 651.4 69.4)" fill="#1a1ab4" opacity="0.22"/>
<ellipse cx="654.3" cy="76.6" rx="3.3" ry="3.1" transform="rotate(88 654.3 76.6)" fill="#1a1ab4" opacity="0.50"/>
<ellipse cx="651.1" cy="82.8" rx="4.0" ry="3.8" transform="rotate(71 651.1 82.8)" fill="#1a1ab4" opacity="0.42"/>
<ellipse cx="649.7" cy="91.4" rx="4.2" ry="4.2" transform="rotate(130 649.7 91.4)" fill="#1a1ab4" opacity="0.39"/>
<ellipse cx="649.4" cy="104.7" rx="4.1" ry="3.5" transform="rotate(146 649.4 104.7)" fill="#1a1ab4" opacity="0.56"/>
<ellipse cx="652.8" cy="114.6" rx="3.9" ry="3.9" transform="rotate(88 652.8 114.6)" fill="#1a1ab4" opacity="0.30"/>
<ellipse cx="661.8" cy="40.3" rx="4.4" ry="4.3" transform="rotate(135 661.8 40.3)" fill="#1a1ab4" opacity="0.43"/>
<ellipse cx="660.1" cy="48.5" rx="4.4" ry="4.0" transform="rotate(145 660.1 48.5)" fill="#1a1ab4" opacity="0.42"/>
<ellipse cx="662.4" cy="56.7" rx="3.5" ry="3.3" transform="rotate(159 662.4 56.7)" fill="#1a1ab4" opacity="0.18"/>
<ellipse cx="659.9" cy="64.5" rx="4.2" ry="3.9" transform="rotate(30 659.9 64.5)" fill="#1a1ab4" opacity="0.57"/>
<ellipse cx="664.0" cy="95.3" rx="4.0" ry="3.8" transform="rotate(132 664.0 95.3)" fill="#1a1ab4" opacity="0.30"/>
<ellipse cx="663.0" cy="102.4" rx="4.0" ry="3.4" transform="rotate(83 663.0 102.4)" fill="#1a1ab4" opacity="0.39"/>
<ellipse cx="668.2" cy="39.3" rx="4.3" ry="3.9" transform="rotate(118 668.2 39.3)" fill="#1a1ab4" opacity="0.42"/>
<ellipse cx="668.9" cy="46.4" rx="3.2" ry="2.9" transform="rotate(101 668.9 46.4)" fill="#1a1ab4" opacity="0.48"/>
<ellipse cx="669.6" cy="64.4" rx="4.3" ry="3.7" transform="rotate(130 669.6 64.4)" fill="#1a1ab4" opacity="0.23"/>
<ellipse cx="673.5" cy="77.4" rx="4.1" ry="4.1" transform="rotate(55 673.5 77.4)" fill="#1a1ab4" opacity="0.35"/>
<ellipse cx="673.1" cy="85.3" rx="3.5" ry="3.4" transform="rotate(39 673.1 85.3)" fill="#1a1ab4" opacity="0.38"/>
<ellipse cx="670.0" cy="90.9" rx="4.1" ry="4.0" transform="rotate(85 670.0 90.9)" fill="#1a1ab4" opacity="0.16"/>
<ellipse cx="671.5" cy="100.1" rx="3.8" ry="3.6" transform="rotate(52 671.5 100.1)" fill="#1a1ab4" opacity="0.32"/>
<ellipse cx="676.4" cy="38.7" rx="4.1" ry="3.4" transform="rotate(107 676.4 38.7)" fill="#1a1ab4" opacity="0.42"/>
<ellipse cx="681.3" cy="49.9" rx="4.3" ry="4.0" transform="rotate(46 681.3 49.9)" fill="#1a1ab4" opacity="0.16"/>
<ellipse cx="682.8" cy="55.3" rx="3.4" ry="3.1" transform="rotate(69 682.8 55.3)" fill="#1a1ab4" opacity="0.32"/>
<ellipse cx="682.3" cy="70.2" rx="3.3" ry="2.8" transform="rotate(10 682.3 70.2)" fill="#1a1ab4" opacity="0.36"/>
<ellipse cx="677.6" cy="73.6" rx="3.4" ry="3.3" transform="rotate(126 677.6 73.6)" fill="#1a1ab4" opacity="0.52"/>
<ellipse cx="681.1" cy="88.2" rx="4.1" ry="4.0" transform="rotate(36 681.1 88.2)" fill="#1a1ab4" opacity="0.29"/>
<ellipse cx="681.1" cy="96.5" rx="3.6" ry="2.9" transform="rotate(92 681.1 96.5)" fill="#1a1ab4" opacity="0.55"/>
<ellipse cx="679.0" cy="100.6" rx="4.3" ry="3.8" transform="rotate(154 679.0 100.6)" fill="#1a1ab4" opacity="0.19"/>
<ellipse cx="681.1" cy="109.2" rx="4.0" ry="3.3" transform="rotate(7 681.1 109.2)" fill="#1a1ab4" opacity="0.18"/>
<ellipse cx="692.4" cy="37.0" rx="3.5" ry="3.2" transform="rotate(120 692.4 37.0)" fill="#1a1ab4" opacity="0.36"/>
<ellipse cx="691.9" cy="59.9" rx="4.2" ry="3.4" transform="rotate(72 691.9 59.9)" fill="#1a1ab4" opacity="0.45"/>
<ellipse cx="689.6" cy="67.6" rx="4.0" ry="3.9" transform="rotate(122 689.6 67.6)" fill="#1a1ab4" opacity="0.54"/>
<ellipse cx="690.6" cy="73.3" rx="3.1" ry="2.9" transform="rotate(66 690.6 73.3)" fill="#1a1ab4" opacity="0.19"/>
<ellipse cx="687.9" cy="83.7" rx="3.5" ry="3.1" transform="rotate(40 687.9 83.7)" fill="#1a1ab4" opacity="0.34"/>
<ellipse cx="688.9" cy="93.5" rx="3.6" ry="3.1" transform="rotate(78 688.9 93.5)" fill="#1a1ab4" opacity="0.27"/>
<ellipse cx="691.4" cy="100.5" rx="4.3" ry="4.3" transform="rotate(133 691.4 100.5)" fill="#1a1ab4" opacity="0.16"/>
<ellipse cx="690.9" cy="110.9" rx="3.7" ry="3.6" transform="rotate(69 690.9 110.9)" fill="#1a1ab4" opacity="0.27"/>
<ellipse cx="696.3" cy="38.1" rx="3.9" ry="3.8" transform="rotate(57 696.3 38.1)" fill="#1a1ab4" opacity="0.37"/>
<ellipse cx="694.6" cy="48.0" rx="3.6" ry="3.1" transform="rotate(137 694.6 48.0)" fill="#1a1ab4" opacity="0.50"/>
<ellipse cx="697.3" cy="55.5" rx="4.1" ry="3.5" transform="rotate(172 697.3 55.5)" fill="#1a1ab4" opacity="0.22"/>
<ellipse cx="698.0" cy="68.5" rx="4.4" ry="3.6" transform="rotate(54 698.0 68.5)" fill="#1a1ab4" opacity="0.20"/>
<ellipse cx="700.0" cy="78.7" rx="4.1" ry="3.7" transform="rotate(151 700.0 78.7)" fill="#1a1ab4" opacity="0.59"/>
<ellipse cx="695.4" cy="86.5" rx="3.2" ry="2.6" transform="rotate(44 695.4 86.5)" fill="#1a1ab4" opacity="0.37"/>
<ellipse cx="699.8" cy="105.0" rx="3.5" ry="3.0" transform="rotate(23 699.8 105.0)" fill="#1a1ab4" opacity="0.22"/>
<ellipse cx="701.0" cy="114.3" rx="3.5" ry="3.1" transform="rotate(65 701.0 114.3)" fill="#1a1ab4" opacity="0.51"/>
<ellipse cx="706.1" cy="38.3" rx="3.6" ry="3.4" transform="rotate(89 706.1 38.3)" fill="#1a1ab4" opacity="0.30"/>
<ellipse cx="707.9" cy="49.4" rx="3.9" ry="3.3" transform="rotate(136 707.9 49.4)" fill="#1a1ab4" opacity="0.54"/>
<ellipse cx="708.3" cy="65.3" rx="4.0" ry="3.5" transform="rotate(12 708.3 65.3)" fill="#1a1ab4" opacity="0.47"/>
<ellipse cx="705.7" cy="93.9" rx="4.3" ry="3.5" transform="rotate(44 705.7 93.9)" fill="#1a1ab4" opacity="0.19"/>
<ellipse cx="709.9" cy="103.5" rx="3.8" ry="3.5" transform="rotate(17 709.9 103.5)" fill="#1a1ab4" opacity="0.30"/>
<ellipse cx="704.3" cy="111.0" rx="4.1" ry="3.9" transform="rotate(58 704.3 111.0)" fill="#1a1ab4" opacity="0.31"/>
<ellipse cx="658.3" cy="57.0" rx="4.2" ry="3.9" fill="#3030e8" opacity="0.6"/>
<ellipse cx="647.3" cy="65.6" rx="4.2" ry="3.9" fill="#3030e8" opacity="0.6"/>
<ellipse cx="687.3" cy="76.6" rx="4.2" ry="3.9" fill="#3030e8" opacity="0.6"/>
<ellipse cx="659.8" cy="96.5" rx="4.2" ry="3.9" fill="#3030e8" opacity="0.6"/>
</g></g>
<rect x="698.8" y="113.3" width="10" height="1.8" fill="#fff"/>
<g clip-path="url(#cp04)"><rect x="714" y="35" width="82.5" height="82" fill="#1a1b34"/>
<rect x="714" y="35" width="82.5" height="82" filter="url(#tex2)" opacity="0.22"/>
<g filter="url(#bl)">
<ellipse cx="720.0" cy="46.2" rx="4.2" ry="3.6" transform="rotate(2 720.0 46.2)" fill="#b496ea" opacity="0.57"/>
<ellipse cx="718.3" cy="64.7" rx="4.2" ry="3.6" transform="rotate(126 718.3 64.7)" fill="#b496ea" opacity="0.53"/>
<ellipse cx="719.9" cy="75.9" rx="3.9" ry="3.2" transform="rotate(25 719.9 75.9)" fill="#c82cb4" opacity="0.42"/>
<ellipse cx="717.8" cy="87.4" rx="3.1" ry="2.6" transform="rotate(121 717.8 87.4)" fill="#7e3ccc" opacity="0.74"/>
<ellipse cx="718.9" cy="92.4" rx="4.0" ry="3.7" transform="rotate(124 718.9 92.4)" fill="#dc6cd0" opacity="0.74"/>
<ellipse cx="722.0" cy="101.9" rx="4.2" ry="3.5" transform="rotate(129 722.0 101.9)" fill="#c82cb4" opacity="0.80"/>
<ellipse cx="720.9" cy="114.6" rx="4.0" ry="3.5" transform="rotate(93 720.9 114.6)" fill="#c82cb4" opacity="0.35"/>
<ellipse cx="729.0" cy="36.2" rx="3.6" ry="2.9" transform="rotate(62 729.0 36.2)" fill="#7e3ccc" opacity="0.84"/>
<ellipse cx="726.8" cy="45.9" rx="2.9" ry="2.7" transform="rotate(177 726.8 45.9)" fill="#b496ea" opacity="0.72"/>
<ellipse cx="725.8" cy="54.6" rx="3.7" ry="3.3" transform="rotate(12 725.8 54.6)" fill="#c82cb4" opacity="0.81"/>
<ellipse cx="724.5" cy="63.5" rx="4.3" ry="4.3" transform="rotate(112 724.5 63.5)" fill="#b496ea" opacity="0.37"/>
<ellipse cx="724.3" cy="78.1" rx="3.6" ry="2.9" transform="rotate(48 724.3 78.1)" fill="#c82cb4" opacity="0.58"/>
<ellipse cx="725.2" cy="87.2" rx="3.0" ry="2.7" transform="rotate(131 725.2 87.2)" fill="#b496ea" opacity="0.40"/>
<ellipse cx="729.1" cy="92.1" rx="3.9" ry="3.2" transform="rotate(149 729.1 92.1)" fill="#b496ea" opacity="0.37"/>
<ellipse cx="728.6" cy="105.9" rx="3.3" ry="3.1" transform="rotate(74 728.6 105.9)" fill="#7e3ccc" opacity="0.58"/>
<ellipse cx="729.2" cy="111.4" rx="3.1" ry="2.9" transform="rotate(92 729.2 111.4)" fill="#dc6cd0" opacity="0.37"/>
<ellipse cx="736.5" cy="41.6" rx="4.0" ry="3.3" transform="rotate(11 736.5 41.6)" fill="#c82cb4" opacity="0.60"/>
<ellipse cx="734.6" cy="46.1" rx="3.5" ry="3.5" transform="rotate(3 734.6 46.1)" fill="#7e3ccc" opacity="0.83"/>
<ellipse cx="734.1" cy="57.4" rx="3.6" ry="2.9" transform="rotate(72 734.1 57.4)" fill="#dc6cd0" opacity="0.81"/>
<ellipse cx="736.1" cy="69.4" rx="3.0" ry="2.8" transform="rotate(127 736.1 69.4)" fill="#c82cb4" opacity="0.42"/>
<ellipse cx="739.0" cy="76.6" rx="3.3" ry="3.1" transform="rotate(88 739.0 76.6)" fill="#c82cb4" opacity="0.74"/>
<ellipse cx="735.8" cy="82.8" rx="4.0" ry="3.8" transform="rotate(71 735.8 82.8)" fill="#7e3ccc" opacity="0.65"/>
<ellipse cx="734.4" cy="91.4" rx="4.2" ry="4.2" transform="rotate(130 734.4 91.4)" fill="#dc6cd0" opacity="0.62"/>
<ellipse cx="734.1" cy="104.7" rx="4.1" ry="3.5" transform="rotate(146 734.1 104.7)" fill="#c82cb4" opacity="0.81"/>
<ellipse cx="737.5" cy="114.6" rx="3.9" ry="3.9" transform="rotate(88 737.5 114.6)" fill="#b496ea" opacity="0.51"/>
<ellipse cx="746.5" cy="40.3" rx="4.4" ry="4.3" transform="rotate(135 746.5 40.3)" fill="#c82cb4" opacity="0.66"/>
<ellipse cx="744.8" cy="48.5" rx="4.4" ry="4.0" transform="rotate(145 744.8 48.5)" fill="#c82cb4" opacity="0.65"/>
<ellipse cx="747.1" cy="56.7" rx="3.5" ry="3.3" transform="rotate(159 747.1 56.7)" fill="#b496ea" opacity="0.38"/>
<ellipse cx="744.6" cy="64.5" rx="4.2" ry="3.9" transform="rotate(30 744.6 64.5)" fill="#c82cb4" opacity="0.81"/>
<ellipse cx="748.7" cy="95.3" rx="4.0" ry="3.8" transform="rotate(132 748.7 95.3)" fill="#c82cb4" opacity="0.51"/>
<ellipse cx="747.7" cy="102.4" rx="4.0" ry="3.4" transform="rotate(83 747.7 102.4)" fill="#b496ea" opacity="0.62"/>
<ellipse cx="752.9" cy="39.3" rx="4.3" ry="3.9" transform="rotate(118 752.9 39.3)" fill="#c82cb4" opacity="0.65"/>
<ellipse cx="753.6" cy="46.4" rx="3.2" ry="2.9" transform="rotate(101 753.6 46.4)" fill="#c82cb4" opacity="0.72"/>
<ellipse cx="754.3" cy="64.4" rx="4.3" ry="3.7" transform="rotate(130 754.3 64.4)" fill="#c82cb4" opacity="0.44"/>
<ellipse cx="758.2" cy="77.4" rx="4.1" ry="4.1" transform="rotate(55 758.2 77.4)" fill="#c82cb4" opacity="0.57"/>
<ellipse cx="757.8" cy="85.3" rx="3.5" ry="3.4" transform="rotate(39 757.8 85.3)" fill="#b496ea" opacity="0.61"/>
<ellipse cx="754.7" cy="90.9" rx="4.1" ry="4.0" transform="rotate(85 754.7 90.9)" fill="#dc6cd0" opacity="0.37"/>
<ellipse cx="756.2" cy="100.1" rx="3.8" ry="3.6" transform="rotate(52 756.2 100.1)" fill="#dc6cd0" opacity="0.54"/>
<ellipse cx="761.1" cy="38.7" rx="4.1" ry="3.4" transform="rotate(107 761.1 38.7)" fill="#dc6cd0" opacity="0.65"/>
<ellipse cx="766.0" cy="49.9" rx="4.3" ry="4.0" transform="rotate(46 766.0 49.9)" fill="#7e3ccc" opacity="0.36"/>
<ellipse cx="767.5" cy="55.3" rx="3.4" ry="3.1" transform="rotate(69 767.5 55.3)" fill="#c82cb4" opacity="0.54"/>
<ellipse cx="767.0" cy="70.2" rx="3.3" ry="2.8" transform="rotate(10 767.0 70.2)" fill="#dc6cd0" opacity="0.58"/>
<ellipse cx="762.3" cy="73.6" rx="3.4" ry="3.3" transform="rotate(126 762.3 73.6)" fill="#dc6cd0" opacity="0.76"/>
<ellipse cx="765.8" cy="88.2" rx="4.1" ry="4.0" transform="rotate(36 765.8 88.2)" fill="#c82cb4" opacity="0.50"/>
<ellipse cx="765.8" cy="96.5" rx="3.6" ry="2.9" transform="rotate(92 765.8 96.5)" fill="#b496ea" opacity="0.79"/>
<ellipse cx="763.7" cy="100.6" rx="4.3" ry="3.8" transform="rotate(154 763.7 100.6)" fill="#b496ea" opacity="0.39"/>
<ellipse cx="765.8" cy="109.2" rx="4.0" ry="3.3" transform="rotate(7 765.8 109.2)" fill="#c82cb4" opacity="0.38"/>
<ellipse cx="777.1" cy="37.0" rx="3.5" ry="3.2" transform="rotate(120 777.1 37.0)" fill="#b496ea" opacity="0.58"/>
<ellipse cx="776.6" cy="59.9" rx="4.2" ry="3.4" transform="rotate(72 776.6 59.9)" fill="#dc6cd0" opacity="0.69"/>
<ellipse cx="774.3" cy="67.6" rx="4.0" ry="3.9" transform="rotate(122 774.3 67.6)" fill="#c82cb4" opacity="0.79"/>
<ellipse cx="775.3" cy="73.3" rx="3.1" ry="2.9" transform="rotate(66 775.3 73.3)" fill="#c82cb4" opacity="0.39"/>
<ellipse cx="772.6" cy="83.7" rx="3.5" ry="3.1" transform="rotate(40 772.6 83.7)" fill="#c82cb4" opacity="0.56"/>
<ellipse cx="773.6" cy="93.5" rx="3.6" ry="3.1" transform="rotate(78 773.6 93.5)" fill="#c82cb4" opacity="0.49"/>
<ellipse cx="776.1" cy="100.5" rx="4.3" ry="4.3" transform="rotate(133 776.1 100.5)" fill="#7e3ccc" opacity="0.37"/>
<ellipse cx="775.6" cy="110.9" rx="3.7" ry="3.6" transform="rotate(69 775.6 110.9)" fill="#b496ea" opacity="0.48"/>
<ellipse cx="781.0" cy="38.1" rx="3.9" ry="3.8" transform="rotate(57 781.0 38.1)" fill="#c82cb4" opacity="0.60"/>
<ellipse cx="779.3" cy="48.0" rx="3.6" ry="3.1" transform="rotate(137 779.3 48.0)" fill="#c82cb4" opacity="0.74"/>
<ellipse cx="782.0" cy="55.5" rx="4.1" ry="3.5" transform="rotate(172 782.0 55.5)" fill="#7e3ccc" opacity="0.42"/>
<ellipse cx="782.7" cy="68.5" rx="4.4" ry="3.6" transform="rotate(54 782.7 68.5)" fill="#c82cb4" opacity="0.41"/>
<ellipse cx="784.7" cy="78.7" rx="4.1" ry="3.7" transform="rotate(151 784.7 78.7)" fill="#dc6cd0" opacity="0.83"/>
<ellipse cx="780.1" cy="86.5" rx="3.2" ry="2.6" transform="rotate(44 780.1 86.5)" fill="#dc6cd0" opacity="0.59"/>
<ellipse cx="784.5" cy="105.0" rx="3.5" ry="3.0" transform="rotate(23 784.5 105.0)" fill="#c82cb4" opacity="0.43"/>
<ellipse cx="785.7" cy="114.3" rx="3.5" ry="3.1" transform="rotate(65 785.7 114.3)" fill="#7e3ccc" opacity="0.75"/>
<ellipse cx="790.8" cy="38.3" rx="3.6" ry="3.4" transform="rotate(89 790.8 38.3)" fill="#c82cb4" opacity="0.52"/>
<ellipse cx="792.6" cy="49.4" rx="3.9" ry="3.3" transform="rotate(136 792.6 49.4)" fill="#c82cb4" opacity="0.78"/>
<ellipse cx="793.0" cy="65.3" rx="4.0" ry="3.5" transform="rotate(12 793.0 65.3)" fill="#c82cb4" opacity="0.70"/>
<ellipse cx="790.4" cy="93.9" rx="4.3" ry="3.5" transform="rotate(44 790.4 93.9)" fill="#b496ea" opacity="0.39"/>
<ellipse cx="794.6" cy="103.5" rx="3.8" ry="3.5" transform="rotate(17 794.6 103.5)" fill="#c82cb4" opacity="0.51"/>
<ellipse cx="789.0" cy="111.0" rx="4.1" ry="3.9" transform="rotate(58 789.0 111.0)" fill="#7e3ccc" opacity="0.53"/>
<ellipse cx="743.0" cy="57.0" rx="4.2" ry="3.9" fill="#e8c8f0" opacity="0.6"/>
<ellipse cx="732.0" cy="65.6" rx="4.2" ry="3.9" fill="#e8c8f0" opacity="0.6"/>
<ellipse cx="772.0" cy="76.6" rx="4.2" ry="3.9" fill="#e8c8f0" opacity="0.6"/>
<ellipse cx="744.5" cy="96.5" rx="4.2" ry="3.9" fill="#e8c8f0" opacity="0.6"/>
<ellipse cx="726.0" cy="50.0" rx="4.0" ry="3.6" fill="#e0d0f0" opacity="0.50"/>
<ellipse cx="740.5" cy="50.0" rx="4.0" ry="3.6" fill="#e0d0f0" opacity="0.45"/>
<ellipse cx="744.0" cy="56.0" rx="4.0" ry="3.6" fill="#e0d0f0" opacity="0.50"/>
<ellipse cx="733.7" cy="61.0" rx="4.0" ry="3.6" fill="#e0d0f0" opacity="0.50"/>
<ellipse cx="739.6" cy="72.0" rx="4.0" ry="3.6" fill="#e0d0f0" opacity="0.45"/>
<ellipse cx="772.0" cy="75.0" rx="4.0" ry="3.6" fill="#e0d0f0" opacity="0.45"/>
</g></g>
<rect x="783.5" y="113.3" width="10" height="1.8" fill="#fff"/>
<g clip-path="url(#cp10)"><rect x="376" y="119" width="82.5" height="82" fill="#0a0210"/>
<g filter="url(#bl)">
<ellipse cx="377.1" cy="131.1" rx="4.0" ry="3.8" transform="rotate(85 377.1 131.1)" fill="#a424b0" opacity="0.53"/>
<ellipse cx="381.4" cy="139.3" rx="3.8" ry="3.4" transform="rotate(96 381.4 139.3)" fill="#a424b0" opacity="0.26"/>
<ellipse cx="379.2" cy="149.1" rx="3.3" ry="2.8" transform="rotate(136 379.2 149.1)" fill="#a424b0" opacity="0.48"/>
<ellipse cx="377.6" cy="161.0" rx="3.5" ry="3.2" transform="rotate(137 377.6 161.0)" fill="#a424b0" opacity="0.54"/>
<ellipse cx="377.7" cy="169.7" rx="3.7" ry="3.6" transform="rotate(159 377.7 169.7)" fill="#a424b0" opacity="0.24"/>
<ellipse cx="380.0" cy="181.5" rx="2.9" ry="2.6" transform="rotate(152 380.0 181.5)" fill="#a424b0" opacity="0.62"/>
<ellipse cx="381.2" cy="186.1" rx="3.9" ry="3.4" transform="rotate(35 381.2 186.1)" fill="#a424b0" opacity="0.44"/>
<ellipse cx="381.2" cy="196.9" rx="3.7" ry="3.0" transform="rotate(67 381.2 196.9)" fill="#a424b0" opacity="0.59"/>
<ellipse cx="392.9" cy="120.3" rx="4.0" ry="3.6" transform="rotate(0 392.9 120.3)" fill="#a424b0" opacity="0.26"/>
<ellipse cx="392.3" cy="131.7" rx="4.1" ry="3.6" transform="rotate(170 392.3 131.7)" fill="#a424b0" opacity="0.64"/>
<ellipse cx="387.0" cy="140.6" rx="4.2" ry="3.7" transform="rotate(4 387.0 140.6)" fill="#a424b0" opacity="0.15"/>
<ellipse cx="393.0" cy="149.8" rx="3.4" ry="3.1" transform="rotate(9 393.0 149.8)" fill="#a424b0" opacity="0.45"/>
<ellipse cx="391.5" cy="158.2" rx="4.4" ry="4.1" transform="rotate(108 391.5 158.2)" fill="#a424b0" opacity="0.47"/>
<ellipse cx="386.5" cy="172.0" rx="3.7" ry="3.4" transform="rotate(98 386.5 172.0)" fill="#a424b0" opacity="0.34"/>
<ellipse cx="390.7" cy="176.9" rx="4.1" ry="3.8" transform="rotate(5 390.7 176.9)" fill="#a424b0" opacity="0.20"/>
<ellipse cx="387.2" cy="187.5" rx="3.7" ry="3.5" transform="rotate(86 387.2 187.5)" fill="#a424b0" opacity="0.62"/>
<ellipse cx="391.2" cy="195.6" rx="3.1" ry="2.5" transform="rotate(127 391.2 195.6)" fill="#a424b0" opacity="0.48"/>
<ellipse cx="396.2" cy="140.3" rx="2.9" ry="2.5" transform="rotate(99 396.2 140.3)" fill="#a424b0" opacity="0.55"/>
<ellipse cx="397.7" cy="148.9" rx="3.5" ry="2.8" transform="rotate(34 397.7 148.9)" fill="#a424b0" opacity="0.28"/>
<ellipse cx="400.2" cy="161.8" rx="3.9" ry="3.5" transform="rotate(57 400.2 161.8)" fill="#a424b0" opacity="0.41"/>
<ellipse cx="398.0" cy="166.0" rx="3.8" ry="3.3" transform="rotate(11 398.0 166.0)" fill="#a424b0" opacity="0.32"/>
<ellipse cx="399.3" cy="181.5" rx="3.1" ry="2.9" transform="rotate(142 399.3 181.5)" fill="#a424b0" opacity="0.27"/>
<ellipse cx="396.2" cy="187.0" rx="4.3" ry="4.2" transform="rotate(164 396.2 187.0)" fill="#a424b0" opacity="0.16"/>
<ellipse cx="397.6" cy="194.6" rx="3.9" ry="3.4" transform="rotate(165 397.6 194.6)" fill="#a424b0" opacity="0.31"/>
<ellipse cx="407.3" cy="125.1" rx="4.3" ry="4.0" transform="rotate(51 407.3 125.1)" fill="#a424b0" opacity="0.21"/>
<ellipse cx="408.9" cy="130.8" rx="3.9" ry="3.7" transform="rotate(70 408.9 130.8)" fill="#a424b0" opacity="0.50"/>
<ellipse cx="404.7" cy="144.9" rx="4.0" ry="3.3" transform="rotate(30 404.7 144.9)" fill="#a424b0" opacity="0.34"/>
<ellipse cx="407.5" cy="153.4" rx="3.7" ry="3.4" transform="rotate(126 407.5 153.4)" fill="#a424b0" opacity="0.57"/>
<ellipse cx="410.4" cy="171.9" rx="3.7" ry="3.1" transform="rotate(115 410.4 171.9)" fill="#a424b0" opacity="0.57"/>
<ellipse cx="404.9" cy="178.0" rx="3.3" ry="2.8" transform="rotate(135 404.9 178.0)" fill="#a424b0" opacity="0.53"/>
<ellipse cx="409.5" cy="184.9" rx="3.5" ry="3.0" transform="rotate(177 409.5 184.9)" fill="#a424b0" opacity="0.36"/>
<ellipse cx="411.3" cy="195.5" rx="3.3" ry="2.9" transform="rotate(8 411.3 195.5)" fill="#a424b0" opacity="0.47"/>
<ellipse cx="419.5" cy="122.8" rx="3.8" ry="3.7" transform="rotate(21 419.5 122.8)" fill="#a424b0" opacity="0.49"/>
<ellipse cx="419.9" cy="130.9" rx="2.9" ry="2.5" transform="rotate(179 419.9 130.9)" fill="#a424b0" opacity="0.32"/>
<ellipse cx="415.5" cy="150.9" rx="2.9" ry="2.4" transform="rotate(3 415.5 150.9)" fill="#a424b0" opacity="0.62"/>
<ellipse cx="415.8" cy="158.1" rx="3.6" ry="3.3" transform="rotate(130 415.8 158.1)" fill="#a424b0" opacity="0.46"/>
<ellipse cx="414.0" cy="168.6" rx="3.0" ry="2.6" transform="rotate(27 414.0 168.6)" fill="#a424b0" opacity="0.50"/>
<ellipse cx="414.3" cy="176.5" rx="3.6" ry="3.3" transform="rotate(20 414.3 176.5)" fill="#a424b0" opacity="0.46"/>
<ellipse cx="420.6" cy="189.2" rx="3.3" ry="3.1" transform="rotate(85 420.6 189.2)" fill="#a424b0" opacity="0.17"/>
<ellipse cx="415.4" cy="197.4" rx="3.2" ry="3.2" transform="rotate(162 415.4 197.4)" fill="#a424b0" opacity="0.24"/>
<ellipse cx="427.3" cy="126.3" rx="3.4" ry="3.2" transform="rotate(88 427.3 126.3)" fill="#a424b0" opacity="0.26"/>
<ellipse cx="428.3" cy="135.5" rx="3.5" ry="3.5" transform="rotate(134 428.3 135.5)" fill="#a424b0" opacity="0.51"/>
<ellipse cx="423.8" cy="139.3" rx="4.1" ry="4.0" transform="rotate(123 423.8 139.3)" fill="#a424b0" opacity="0.58"/>
<ellipse cx="429.3" cy="150.2" rx="3.0" ry="2.6" transform="rotate(153 429.3 150.2)" fill="#a424b0" opacity="0.47"/>
<ellipse cx="425.7" cy="156.8" rx="4.0" ry="3.6" transform="rotate(169 425.7 156.8)" fill="#a424b0" opacity="0.53"/>
<ellipse cx="427.0" cy="172.6" rx="4.0" ry="3.4" transform="rotate(24 427.0 172.6)" fill="#a424b0" opacity="0.23"/>
<ellipse cx="426.4" cy="187.6" rx="3.9" ry="3.4" transform="rotate(107 426.4 187.6)" fill="#a424b0" opacity="0.18"/>
<ellipse cx="429.6" cy="196.1" rx="3.0" ry="2.5" transform="rotate(100 429.6 196.1)" fill="#a424b0" opacity="0.36"/>
<ellipse cx="438.7" cy="124.8" rx="4.0" ry="3.7" transform="rotate(99 438.7 124.8)" fill="#a424b0" opacity="0.33"/>
<ellipse cx="437.4" cy="133.8" rx="3.0" ry="2.9" transform="rotate(58 437.4 133.8)" fill="#a424b0" opacity="0.33"/>
<ellipse cx="433.5" cy="142.2" rx="3.0" ry="2.9" transform="rotate(40 433.5 142.2)" fill="#a424b0" opacity="0.55"/>
<ellipse cx="432.1" cy="149.2" rx="3.0" ry="2.5" transform="rotate(75 432.1 149.2)" fill="#a424b0" opacity="0.16"/>
<ellipse cx="434.5" cy="156.9" rx="3.6" ry="3.1" transform="rotate(76 434.5 156.9)" fill="#a424b0" opacity="0.44"/>
<ellipse cx="433.6" cy="165.7" rx="4.0" ry="3.8" transform="rotate(78 433.6 165.7)" fill="#a424b0" opacity="0.64"/>
<ellipse cx="432.4" cy="179.7" rx="4.0" ry="3.9" transform="rotate(48 432.4 179.7)" fill="#a424b0" opacity="0.65"/>
<ellipse cx="434.6" cy="185.2" rx="3.9" ry="3.5" transform="rotate(152 434.6 185.2)" fill="#a424b0" opacity="0.24"/>
<ellipse cx="432.5" cy="193.1" rx="3.9" ry="3.8" transform="rotate(87 432.5 193.1)" fill="#a424b0" opacity="0.21"/>
<ellipse cx="443.7" cy="121.9" rx="3.4" ry="3.1" transform="rotate(86 443.7 121.9)" fill="#a424b0" opacity="0.48"/>
<ellipse cx="443.3" cy="134.9" rx="2.9" ry="2.5" transform="rotate(101 443.3 134.9)" fill="#a424b0" opacity="0.61"/>
<ellipse cx="441.4" cy="140.7" rx="4.1" ry="3.7" transform="rotate(110 441.4 140.7)" fill="#a424b0" opacity="0.65"/>
<ellipse cx="441.7" cy="151.1" rx="4.2" ry="3.6" transform="rotate(155 441.7 151.1)" fill="#a424b0" opacity="0.25"/>
<ellipse cx="441.8" cy="161.4" rx="3.9" ry="3.5" transform="rotate(154 441.8 161.4)" fill="#a424b0" opacity="0.50"/>
<ellipse cx="442.5" cy="167.3" rx="3.3" ry="2.8" transform="rotate(125 442.5 167.3)" fill="#a424b0" opacity="0.65"/>
<ellipse cx="445.1" cy="178.0" rx="3.6" ry="3.1" transform="rotate(99 445.1 178.0)" fill="#a424b0" opacity="0.57"/>
<ellipse cx="445.8" cy="193.7" rx="3.7" ry="3.3" transform="rotate(28 445.8 193.7)" fill="#a424b0" opacity="0.51"/>
<ellipse cx="454.3" cy="124.5" rx="3.7" ry="3.7" transform="rotate(60 454.3 124.5)" fill="#a424b0" opacity="0.32"/>
<ellipse cx="450.8" cy="131.2" rx="4.0" ry="3.8" transform="rotate(76 450.8 131.2)" fill="#a424b0" opacity="0.25"/>
<ellipse cx="454.9" cy="140.6" rx="3.4" ry="3.1" transform="rotate(80 454.9 140.6)" fill="#a424b0" opacity="0.17"/>
<ellipse cx="452.7" cy="158.9" rx="3.4" ry="2.8" transform="rotate(24 452.7 158.9)" fill="#a424b0" opacity="0.32"/>
<ellipse cx="455.4" cy="184.2" rx="4.1" ry="3.9" transform="rotate(29 455.4 184.2)" fill="#a424b0" opacity="0.41"/>
<ellipse cx="450.4" cy="196.2" rx="3.1" ry="3.0" transform="rotate(36 450.4 196.2)" fill="#a424b0" opacity="0.18"/>
<ellipse cx="407.0" cy="158.9" rx="4.2" ry="3.9" fill="#c040c8" opacity="0.6"/>
<ellipse cx="421.5" cy="162.2" rx="4.2" ry="3.9" fill="#c040c8" opacity="0.6"/>
<ellipse cx="412.2" cy="172.2" rx="4.2" ry="3.9" fill="#c040c8" opacity="0.6"/>
<ellipse cx="448.3" cy="166.2" rx="4.2" ry="3.9" fill="#c040c8" opacity="0.6"/>
</g></g>
<rect x="445.5" y="197.3" width="10" height="1.8" fill="#fff"/>
<g clip-path="url(#cp11)"><rect x="460.7" y="119" width="82.5" height="82" fill="#0e0101"/>
<g filter="url(#bl)">
<ellipse cx="461.8" cy="131.1" rx="4.0" ry="3.8" transform="rotate(85 461.8 131.1)" fill="#9a1010" opacity="0.56"/>
<ellipse cx="466.1" cy="139.3" rx="3.8" ry="3.4" transform="rotate(96 466.1 139.3)" fill="#9a1010" opacity="0.27"/>
<ellipse cx="463.9" cy="149.1" rx="3.3" ry="2.8" transform="rotate(136 463.9 149.1)" fill="#9a1010" opacity="0.52"/>
<ellipse cx="462.3" cy="161.0" rx="3.5" ry="3.2" transform="rotate(137 462.3 161.0)" fill="#9a1010" opacity="0.58"/>
<ellipse cx="462.4" cy="169.7" rx="3.7" ry="3.6" transform="rotate(159 462.4 169.7)" fill="#9a1010" opacity="0.25"/>
<ellipse cx="464.7" cy="181.5" rx="2.9" ry="2.6" transform="rotate(152 464.7 181.5)" fill="#9a1010" opacity="0.67"/>
<ellipse cx="465.9" cy="186.1" rx="3.9" ry="3.4" transform="rotate(35 465.9 186.1)" fill="#9a1010" opacity="0.47"/>
<ellipse cx="465.9" cy="196.9" rx="3.7" ry="3.0" transform="rotate(67 465.9 196.9)" fill="#9a1010" opacity="0.63"/>
<ellipse cx="477.6" cy="120.3" rx="4.0" ry="3.6" transform="rotate(0 477.6 120.3)" fill="#9a1010" opacity="0.27"/>
<ellipse cx="477.0" cy="131.7" rx="4.1" ry="3.6" transform="rotate(170 477.0 131.7)" fill="#9a1010" opacity="0.69"/>
<ellipse cx="471.7" cy="140.6" rx="4.2" ry="3.7" transform="rotate(4 471.7 140.6)" fill="#9a1010" opacity="0.15"/>
<ellipse cx="477.7" cy="149.8" rx="3.4" ry="3.1" transform="rotate(9 477.7 149.8)" fill="#9a1010" opacity="0.48"/>
<ellipse cx="476.2" cy="158.2" rx="4.4" ry="4.1" transform="rotate(108 476.2 158.2)" fill="#9a1010" opacity="0.50"/>
<ellipse cx="471.2" cy="172.0" rx="3.7" ry="3.4" transform="rotate(98 471.2 172.0)" fill="#9a1010" opacity="0.36"/>
<ellipse cx="475.4" cy="176.9" rx="4.1" ry="3.8" transform="rotate(5 475.4 176.9)" fill="#9a1010" opacity="0.20"/>
<ellipse cx="471.9" cy="187.5" rx="3.7" ry="3.5" transform="rotate(86 471.9 187.5)" fill="#9a1010" opacity="0.66"/>
<ellipse cx="475.9" cy="195.6" rx="3.1" ry="2.5" transform="rotate(127 475.9 195.6)" fill="#9a1010" opacity="0.52"/>
<ellipse cx="480.9" cy="140.3" rx="2.9" ry="2.5" transform="rotate(99 480.9 140.3)" fill="#9a1010" opacity="0.59"/>
<ellipse cx="482.4" cy="148.9" rx="3.5" ry="2.8" transform="rotate(34 482.4 148.9)" fill="#9a1010" opacity="0.30"/>
<ellipse cx="484.9" cy="161.8" rx="3.9" ry="3.5" transform="rotate(57 484.9 161.8)" fill="#9a1010" opacity="0.44"/>
<ellipse cx="482.7" cy="166.0" rx="3.8" ry="3.3" transform="rotate(11 482.7 166.0)" fill="#9a1010" opacity="0.34"/>
<ellipse cx="484.0" cy="181.5" rx="3.1" ry="2.9" transform="rotate(142 484.0 181.5)" fill="#9a1010" opacity="0.28"/>
<ellipse cx="480.9" cy="187.0" rx="4.3" ry="4.2" transform="rotate(164 480.9 187.0)" fill="#9a1010" opacity="0.16"/>
<ellipse cx="482.3" cy="194.6" rx="3.9" ry="3.4" transform="rotate(165 482.3 194.6)" fill="#9a1010" opacity="0.32"/>
<ellipse cx="492.0" cy="125.1" rx="4.3" ry="4.0" transform="rotate(51 492.0 125.1)" fill="#9a1010" opacity="0.21"/>
<ellipse cx="493.6" cy="130.8" rx="3.9" ry="3.7" transform="rotate(70 493.6 130.8)" fill="#9a1010" opacity="0.53"/>
<ellipse cx="489.4" cy="144.9" rx="4.0" ry="3.3" transform="rotate(30 489.4 144.9)" fill="#9a1010" opacity="0.36"/>
<ellipse cx="492.2" cy="153.4" rx="3.7" ry="3.4" transform="rotate(126 492.2 153.4)" fill="#9a1010" opacity="0.61"/>
<ellipse cx="495.1" cy="171.9" rx="3.7" ry="3.1" transform="rotate(115 495.1 171.9)" fill="#9a1010" opacity="0.62"/>
<ellipse cx="489.6" cy="178.0" rx="3.3" ry="2.8" transform="rotate(135 489.6 178.0)" fill="#9a1010" opacity="0.57"/>
<ellipse cx="494.2" cy="184.9" rx="3.5" ry="3.0" transform="rotate(177 494.2 184.9)" fill="#9a1010" opacity="0.38"/>
<ellipse cx="496.0" cy="195.5" rx="3.3" ry="2.9" transform="rotate(8 496.0 195.5)" fill="#9a1010" opacity="0.51"/>
<ellipse cx="504.2" cy="122.8" rx="3.8" ry="3.7" transform="rotate(21 504.2 122.8)" fill="#9a1010" opacity="0.52"/>
<ellipse cx="504.6" cy="130.9" rx="2.9" ry="2.5" transform="rotate(179 504.6 130.9)" fill="#9a1010" opacity="0.34"/>
<ellipse cx="500.2" cy="150.9" rx="2.9" ry="2.4" transform="rotate(3 500.2 150.9)" fill="#9a1010" opacity="0.66"/>
<ellipse cx="500.5" cy="158.1" rx="3.6" ry="3.3" transform="rotate(130 500.5 158.1)" fill="#9a1010" opacity="0.49"/>
<ellipse cx="498.7" cy="168.6" rx="3.0" ry="2.6" transform="rotate(27 498.7 168.6)" fill="#9a1010" opacity="0.54"/>
<ellipse cx="499.0" cy="176.5" rx="3.6" ry="3.3" transform="rotate(20 499.0 176.5)" fill="#9a1010" opacity="0.50"/>
<ellipse cx="505.3" cy="189.2" rx="3.3" ry="3.1" transform="rotate(85 505.3 189.2)" fill="#9a1010" opacity="0.17"/>
<ellipse cx="500.1" cy="197.4" rx="3.2" ry="3.2" transform="rotate(162 500.1 197.4)" fill="#9a1010" opacity="0.25"/>
<ellipse cx="512.0" cy="126.3" rx="3.4" ry="3.2" transform="rotate(88 512.0 126.3)" fill="#9a1010" opacity="0.27"/>
<ellipse cx="513.0" cy="135.5" rx="3.5" ry="3.5" transform="rotate(134 513.0 135.5)" fill="#9a1010" opacity="0.54"/>
<ellipse cx="508.5" cy="139.3" rx="4.1" ry="4.0" transform="rotate(123 508.5 139.3)" fill="#9a1010" opacity="0.63"/>
<ellipse cx="514.0" cy="150.2" rx="3.0" ry="2.6" transform="rotate(153 514.0 150.2)" fill="#9a1010" opacity="0.51"/>
<ellipse cx="510.4" cy="156.8" rx="4.0" ry="3.6" transform="rotate(169 510.4 156.8)" fill="#9a1010" opacity="0.57"/>
<ellipse cx="511.7" cy="172.6" rx="4.0" ry="3.4" transform="rotate(24 511.7 172.6)" fill="#9a1010" opacity="0.24"/>
<ellipse cx="511.1" cy="187.6" rx="3.9" ry="3.4" transform="rotate(107 511.1 187.6)" fill="#9a1010" opacity="0.18"/>
<ellipse cx="514.3" cy="196.1" rx="3.0" ry="2.5" transform="rotate(100 514.3 196.1)" fill="#9a1010" opacity="0.38"/>
<ellipse cx="523.4" cy="124.8" rx="4.0" ry="3.7" transform="rotate(99 523.4 124.8)" fill="#9a1010" opacity="0.35"/>
<ellipse cx="522.1" cy="133.8" rx="3.0" ry="2.9" transform="rotate(58 522.1 133.8)" fill="#9a1010" opacity="0.35"/>
<ellipse cx="518.2" cy="142.2" rx="3.0" ry="2.9" transform="rotate(40 518.2 142.2)" fill="#9a1010" opacity="0.59"/>
<ellipse cx="516.8" cy="149.2" rx="3.0" ry="2.5" transform="rotate(75 516.8 149.2)" fill="#9a1010" opacity="0.16"/>
<ellipse cx="519.2" cy="156.9" rx="3.6" ry="3.1" transform="rotate(76 519.2 156.9)" fill="#9a1010" opacity="0.47"/>
<ellipse cx="518.3" cy="165.7" rx="4.0" ry="3.8" transform="rotate(78 518.3 165.7)" fill="#9a1010" opacity="0.69"/>
<ellipse cx="517.1" cy="179.7" rx="4.0" ry="3.9" transform="rotate(48 517.1 179.7)" fill="#9a1010" opacity="0.70"/>
<ellipse cx="519.3" cy="185.2" rx="3.9" ry="3.5" transform="rotate(152 519.3 185.2)" fill="#9a1010" opacity="0.25"/>
<ellipse cx="517.2" cy="193.1" rx="3.9" ry="3.8" transform="rotate(87 517.2 193.1)" fill="#9a1010" opacity="0.22"/>
<ellipse cx="528.4" cy="121.9" rx="3.4" ry="3.1" transform="rotate(86 528.4 121.9)" fill="#9a1010" opacity="0.51"/>
<ellipse cx="528.0" cy="134.9" rx="2.9" ry="2.5" transform="rotate(101 528.0 134.9)" fill="#9a1010" opacity="0.65"/>
<ellipse cx="526.1" cy="140.7" rx="4.1" ry="3.7" transform="rotate(110 526.1 140.7)" fill="#9a1010" opacity="0.70"/>
<ellipse cx="526.4" cy="151.1" rx="4.2" ry="3.6" transform="rotate(155 526.4 151.1)" fill="#9a1010" opacity="0.26"/>
<ellipse cx="526.5" cy="161.4" rx="3.9" ry="3.5" transform="rotate(154 526.5 161.4)" fill="#9a1010" opacity="0.54"/>
<ellipse cx="527.2" cy="167.3" rx="3.3" ry="2.8" transform="rotate(125 527.2 167.3)" fill="#9a1010" opacity="0.70"/>
<ellipse cx="529.8" cy="178.0" rx="3.6" ry="3.1" transform="rotate(99 529.8 178.0)" fill="#9a1010" opacity="0.61"/>
<ellipse cx="530.5" cy="193.7" rx="3.7" ry="3.3" transform="rotate(28 530.5 193.7)" fill="#9a1010" opacity="0.55"/>
<ellipse cx="539.0" cy="124.5" rx="3.7" ry="3.7" transform="rotate(60 539.0 124.5)" fill="#9a1010" opacity="0.33"/>
<ellipse cx="535.5" cy="131.2" rx="4.0" ry="3.8" transform="rotate(76 535.5 131.2)" fill="#9a1010" opacity="0.26"/>
<ellipse cx="539.6" cy="140.6" rx="3.4" ry="3.1" transform="rotate(80 539.6 140.6)" fill="#9a1010" opacity="0.17"/>
<ellipse cx="537.4" cy="158.9" rx="3.4" ry="2.8" transform="rotate(24 537.4 158.9)" fill="#9a1010" opacity="0.34"/>
<ellipse cx="540.1" cy="184.2" rx="4.1" ry="3.9" transform="rotate(29 540.1 184.2)" fill="#9a1010" opacity="0.44"/>
<ellipse cx="535.1" cy="196.2" rx="3.1" ry="3.0" transform="rotate(36 535.1 196.2)" fill="#9a1010" opacity="0.18"/>
<ellipse cx="491.7" cy="158.9" rx="4.2" ry="3.9" fill="#c82020" opacity="0.6"/>
<ellipse cx="506.2" cy="162.2" rx="4.2" ry="3.9" fill="#c82020" opacity="0.6"/>
<ellipse cx="496.9" cy="172.2" rx="4.2" ry="3.9" fill="#c82020" opacity="0.6"/>
<ellipse cx="533.0" cy="166.2" rx="4.2" ry="3.9" fill="#c82020" opacity="0.6"/>
</g></g>
<rect x="530.2" y="197.3" width="10" height="1.8" fill="#fff"/>
<g clip-path="url(#cp12)"><rect x="544.8" y="119" width="82.5" height="82" fill="#061806"/>
<rect x="544.8" y="119" width="82.5" height="82" filter="url(#tex)" opacity="0.45"/>
<g filter="url(#bl)">
<ellipse cx="548.0" cy="125.0" rx="3.2" ry="3.1" fill="#1c521c" opacity="0.48"/>
<ellipse cx="549.7" cy="128.0" rx="3.4" ry="3.2" fill="#1c521c" opacity="0.41"/>
<ellipse cx="545.1" cy="138.7" rx="3.5" ry="3.4" fill="#1c521c" opacity="0.38"/>
<ellipse cx="546.7" cy="145.3" rx="2.4" ry="2.2" fill="#1c521c" opacity="0.24"/>
<ellipse cx="549.2" cy="154.6" rx="3.0" ry="2.9" fill="#1c521c" opacity="0.25"/>
<ellipse cx="548.7" cy="162.9" rx="3.2" ry="2.8" fill="#1c521c" opacity="0.40"/>
<ellipse cx="545.1" cy="176.3" rx="3.5" ry="2.9" fill="#1c521c" opacity="0.48"/>
<ellipse cx="549.2" cy="190.9" rx="3.3" ry="2.9" fill="#1c521c" opacity="0.48"/>
<ellipse cx="553.7" cy="125.0" rx="3.4" ry="3.1" fill="#1c521c" opacity="0.39"/>
<ellipse cx="558.6" cy="143.6" rx="2.5" ry="2.2" fill="#1c521c" opacity="0.39"/>
<ellipse cx="553.3" cy="155.9" rx="3.5" ry="2.8" fill="#1c521c" opacity="0.50"/>
<ellipse cx="559.0" cy="157.8" rx="2.2" ry="1.8" fill="#1c521c" opacity="0.49"/>
<ellipse cx="554.9" cy="167.9" rx="3.3" ry="2.8" fill="#1c521c" opacity="0.15"/>
<ellipse cx="556.6" cy="173.4" rx="3.3" ry="2.7" fill="#1c521c" opacity="0.40"/>
<ellipse cx="553.9" cy="185.1" rx="3.1" ry="2.5" fill="#1c521c" opacity="0.27"/>
<ellipse cx="554.2" cy="196.4" rx="2.5" ry="2.4" fill="#1c521c" opacity="0.29"/>
<ellipse cx="566.6" cy="120.0" rx="2.5" ry="2.0" fill="#1c521c" opacity="0.21"/>
<ellipse cx="566.5" cy="129.6" rx="3.5" ry="3.5" fill="#1c521c" opacity="0.25"/>
<ellipse cx="562.6" cy="140.9" rx="2.6" ry="2.5" fill="#1c521c" opacity="0.47"/>
<ellipse cx="563.8" cy="146.7" rx="2.8" ry="2.7" fill="#1c521c" opacity="0.32"/>
<ellipse cx="566.1" cy="153.7" rx="2.4" ry="2.1" fill="#1c521c" opacity="0.28"/>
<ellipse cx="566.9" cy="161.2" rx="2.4" ry="2.4" fill="#1c521c" opacity="0.34"/>
<ellipse cx="562.8" cy="170.7" rx="2.6" ry="2.5" fill="#1c521c" opacity="0.31"/>
<ellipse cx="563.8" cy="182.6" rx="2.8" ry="2.7" fill="#1c521c" opacity="0.41"/>
<ellipse cx="565.5" cy="188.0" rx="2.6" ry="2.3" fill="#1c521c" opacity="0.24"/>
<ellipse cx="564.6" cy="198.7" rx="2.9" ry="2.4" fill="#1c521c" opacity="0.41"/>
<ellipse cx="574.3" cy="124.1" rx="2.6" ry="2.2" fill="#1c521c" opacity="0.33"/>
<ellipse cx="573.9" cy="127.9" rx="3.0" ry="2.6" fill="#1c521c" opacity="0.25"/>
<ellipse cx="568.7" cy="139.6" rx="3.5" ry="2.9" fill="#1c521c" opacity="0.31"/>
<ellipse cx="568.6" cy="142.8" rx="3.4" ry="3.4" fill="#1c521c" opacity="0.27"/>
<ellipse cx="567.7" cy="151.1" rx="3.3" ry="2.9" fill="#1c521c" opacity="0.49"/>
<ellipse cx="571.6" cy="160.4" rx="2.5" ry="2.2" fill="#1c521c" opacity="0.41"/>
<ellipse cx="569.9" cy="170.5" rx="2.8" ry="2.4" fill="#1c521c" opacity="0.18"/>
<ellipse cx="573.6" cy="174.3" rx="3.3" ry="3.2" fill="#1c521c" opacity="0.39"/>
<ellipse cx="572.9" cy="181.3" rx="3.4" ry="3.3" fill="#1c521c" opacity="0.15"/>
<ellipse cx="572.5" cy="190.9" rx="3.1" ry="2.6" fill="#1c521c" opacity="0.46"/>
<ellipse cx="570.2" cy="195.1" rx="3.4" ry="3.3" fill="#1c521c" opacity="0.32"/>
<ellipse cx="580.0" cy="120.3" rx="2.9" ry="2.6" fill="#1c521c" opacity="0.19"/>
<ellipse cx="576.3" cy="127.6" rx="2.5" ry="2.3" fill="#1c521c" opacity="0.21"/>
<ellipse cx="581.6" cy="137.0" rx="3.2" ry="3.2" fill="#1c521c" opacity="0.36"/>
<ellipse cx="578.1" cy="142.5" rx="2.8" ry="2.7" fill="#1c521c" opacity="0.43"/>
<ellipse cx="581.0" cy="152.9" rx="2.6" ry="2.4" fill="#1c521c" opacity="0.26"/>
<ellipse cx="579.0" cy="159.6" rx="3.2" ry="2.9" fill="#1c521c" opacity="0.24"/>
<ellipse cx="576.3" cy="164.2" rx="2.7" ry="2.3" fill="#1c521c" opacity="0.42"/>
<ellipse cx="576.4" cy="175.6" rx="3.0" ry="2.7" fill="#1c521c" opacity="0.17"/>
<ellipse cx="579.6" cy="183.4" rx="2.7" ry="2.2" fill="#1c521c" opacity="0.26"/>
<ellipse cx="577.2" cy="199.0" rx="2.9" ry="2.7" fill="#1c521c" opacity="0.31"/>
<ellipse cx="588.1" cy="120.3" rx="2.3" ry="2.0" fill="#1c521c" opacity="0.34"/>
<ellipse cx="585.3" cy="129.8" rx="3.0" ry="2.6" fill="#1c521c" opacity="0.34"/>
<ellipse cx="588.5" cy="146.6" rx="2.6" ry="2.5" fill="#1c521c" opacity="0.30"/>
<ellipse cx="583.9" cy="152.5" rx="2.8" ry="2.6" fill="#1c521c" opacity="0.30"/>
<ellipse cx="583.0" cy="169.7" rx="3.4" ry="2.7" fill="#1c521c" opacity="0.27"/>
<ellipse cx="585.1" cy="174.8" rx="3.4" ry="3.2" fill="#1c521c" opacity="0.44"/>
<ellipse cx="583.4" cy="185.4" rx="2.8" ry="2.6" fill="#1c521c" opacity="0.28"/>
<ellipse cx="588.9" cy="186.4" rx="2.7" ry="2.5" fill="#1c521c" opacity="0.32"/>
<ellipse cx="583.6" cy="198.4" rx="2.4" ry="2.3" fill="#1c521c" opacity="0.33"/>
<ellipse cx="595.4" cy="125.4" rx="2.8" ry="2.7" fill="#1c521c" opacity="0.46"/>
<ellipse cx="591.1" cy="141.1" rx="3.4" ry="2.7" fill="#1c521c" opacity="0.31"/>
<ellipse cx="593.0" cy="142.5" rx="2.7" ry="2.3" fill="#1c521c" opacity="0.36"/>
<ellipse cx="593.9" cy="155.4" rx="2.8" ry="2.6" fill="#1c521c" opacity="0.39"/>
<ellipse cx="591.9" cy="159.2" rx="2.6" ry="2.1" fill="#1c521c" opacity="0.16"/>
<ellipse cx="590.9" cy="169.3" rx="2.5" ry="2.3" fill="#1c521c" opacity="0.23"/>
<ellipse cx="596.0" cy="176.2" rx="3.4" ry="2.8" fill="#1c521c" opacity="0.36"/>
<ellipse cx="593.7" cy="179.1" rx="3.3" ry="3.3" fill="#1c521c" opacity="0.24"/>
<ellipse cx="596.8" cy="192.0" rx="2.5" ry="2.4" fill="#1c521c" opacity="0.39"/>
<ellipse cx="596.2" cy="197.2" rx="3.4" ry="3.2" fill="#1c521c" opacity="0.48"/>
<ellipse cx="602.5" cy="121.2" rx="3.4" ry="3.2" fill="#1c521c" opacity="0.35"/>
<ellipse cx="597.9" cy="129.0" rx="2.6" ry="2.4" fill="#1c521c" opacity="0.22"/>
<ellipse cx="604.3" cy="140.6" rx="2.4" ry="2.3" fill="#1c521c" opacity="0.42"/>
<ellipse cx="600.8" cy="144.1" rx="2.2" ry="2.1" fill="#1c521c" opacity="0.41"/>
<ellipse cx="604.4" cy="150.5" rx="2.4" ry="2.4" fill="#1c521c" opacity="0.44"/>
<ellipse cx="602.8" cy="161.7" rx="3.2" ry="2.6" fill="#1c521c" opacity="0.23"/>
<ellipse cx="598.8" cy="165.9" rx="3.0" ry="2.8" fill="#1c521c" opacity="0.24"/>
<ellipse cx="600.9" cy="174.1" rx="2.2" ry="1.9" fill="#1c521c" opacity="0.47"/>
<ellipse cx="602.7" cy="180.3" rx="3.2" ry="2.8" fill="#1c521c" opacity="0.43"/>
<ellipse cx="602.4" cy="188.9" rx="3.2" ry="3.0" fill="#1c521c" opacity="0.31"/>
<ellipse cx="601.1" cy="200.0" rx="3.1" ry="3.1" fill="#1c521c" opacity="0.20"/>
<ellipse cx="608.6" cy="124.6" rx="3.2" ry="3.1" fill="#1c521c" opacity="0.20"/>
<ellipse cx="610.7" cy="132.8" rx="2.2" ry="2.0" fill="#1c521c" opacity="0.44"/>
<ellipse cx="610.6" cy="134.2" rx="2.6" ry="2.4" fill="#1c521c" opacity="0.35"/>
<ellipse cx="612.0" cy="142.8" rx="2.3" ry="2.1" fill="#1c521c" opacity="0.20"/>
<ellipse cx="610.0" cy="149.2" rx="2.4" ry="2.0" fill="#1c521c" opacity="0.23"/>
<ellipse cx="607.0" cy="156.5" rx="2.7" ry="2.6" fill="#1c521c" opacity="0.44"/>
<ellipse cx="608.6" cy="167.0" rx="3.0" ry="2.5" fill="#1c521c" opacity="0.44"/>
<ellipse cx="605.4" cy="177.1" rx="3.0" ry="2.8" fill="#1c521c" opacity="0.22"/>
<ellipse cx="605.7" cy="183.4" rx="2.7" ry="2.5" fill="#1c521c" opacity="0.29"/>
<ellipse cx="605.4" cy="186.6" rx="3.0" ry="2.6" fill="#1c521c" opacity="0.45"/>
<ellipse cx="607.0" cy="195.0" rx="3.4" ry="2.7" fill="#1c521c" opacity="0.28"/>
<ellipse cx="616.4" cy="121.8" rx="3.3" ry="2.9" fill="#1c521c" opacity="0.37"/>
<ellipse cx="619.3" cy="128.0" rx="3.0" ry="2.7" fill="#1c521c" opacity="0.23"/>
<ellipse cx="617.0" cy="136.4" rx="2.6" ry="2.6" fill="#1c521c" opacity="0.28"/>
<ellipse cx="618.4" cy="146.7" rx="2.7" ry="2.4" fill="#1c521c" opacity="0.36"/>
<ellipse cx="619.1" cy="154.5" rx="2.4" ry="2.3" fill="#1c521c" opacity="0.23"/>
<ellipse cx="618.1" cy="157.6" rx="3.0" ry="2.9" fill="#1c521c" opacity="0.23"/>
<ellipse cx="618.4" cy="169.6" rx="3.2" ry="3.1" fill="#1c521c" opacity="0.39"/>
<ellipse cx="617.1" cy="176.7" rx="2.9" ry="2.4" fill="#1c521c" opacity="0.18"/>
<ellipse cx="616.0" cy="185.3" rx="2.3" ry="2.0" fill="#1c521c" opacity="0.27"/>
<ellipse cx="617.9" cy="200.1" rx="2.2" ry="1.8" fill="#1c521c" opacity="0.27"/>
<ellipse cx="626.2" cy="122.3" rx="2.9" ry="2.7" fill="#1c521c" opacity="0.45"/>
<ellipse cx="626.8" cy="131.9" rx="3.4" ry="3.2" fill="#1c521c" opacity="0.24"/>
<ellipse cx="620.8" cy="140.2" rx="3.0" ry="2.4" fill="#1c521c" opacity="0.39"/>
<ellipse cx="624.3" cy="144.1" rx="2.6" ry="2.6" fill="#1c521c" opacity="0.17"/>
<ellipse cx="623.5" cy="150.4" rx="2.7" ry="2.2" fill="#1c521c" opacity="0.44"/>
<ellipse cx="624.2" cy="158.0" rx="3.0" ry="2.9" fill="#1c521c" opacity="0.17"/>
<ellipse cx="626.4" cy="170.9" rx="2.5" ry="2.1" fill="#1c521c" opacity="0.23"/>
<ellipse cx="626.2" cy="177.4" rx="3.2" ry="2.5" fill="#1c521c" opacity="0.46"/>
<ellipse cx="620.7" cy="185.2" rx="3.2" ry="2.7" fill="#1c521c" opacity="0.47"/>
<ellipse cx="621.2" cy="189.8" rx="3.0" ry="2.8" fill="#1c521c" opacity="0.17"/>
<ellipse cx="622.6" cy="199.7" rx="3.1" ry="3.1" fill="#1c521c" opacity="0.18"/>
</g><g filter="url(#bl2)">
<ellipse cx="575.8" cy="131.0" rx="4.6" ry="4.1" fill="#3cae3c" opacity="0.84"/>
<ellipse cx="588.8" cy="160.0" rx="4.6" ry="4.1" fill="#3cae3c" opacity="0.77"/>
<ellipse cx="601.8" cy="157.0" rx="4.6" ry="4.1" fill="#3cae3c" opacity="0.84"/>
<ellipse cx="616.8" cy="165.0" rx="4.6" ry="4.1" fill="#3cae3c" opacity="1.00"/>
<ellipse cx="580.8" cy="171.0" rx="4.6" ry="4.1" fill="#3cae3c" opacity="0.84"/>
<ellipse cx="572.8" cy="182.0" rx="4.6" ry="4.1" fill="#3cae3c" opacity="0.64"/>
<ellipse cx="581.8" cy="193.0" rx="4.6" ry="4.1" fill="#3cae3c" opacity="0.70"/>
<ellipse cx="604.8" cy="147.0" rx="4.6" ry="4.1" fill="#3cae3c" opacity="0.57"/>
<ellipse cx="564.8" cy="159.0" rx="4.6" ry="4.1" fill="#3cae3c" opacity="0.57"/>
<ellipse cx="592.8" cy="179.0" rx="4.6" ry="4.1" fill="#3cae3c" opacity="0.57"/>
<ellipse cx="556.8" cy="189.0" rx="4.6" ry="4.1" fill="#3cae3c" opacity="0.51"/>
<ellipse cx="610.8" cy="189.0" rx="4.6" ry="4.1" fill="#3cae3c" opacity="0.51"/>
<ellipse cx="604.8" cy="127.0" rx="4.6" ry="4.1" fill="#3cae3c" opacity="0.57"/>
</g></g>
<rect x="614.3" y="197.3" width="10" height="1.8" fill="#fff"/>
<g clip-path="url(#cp13)"><rect x="629.3" y="119" width="82.5" height="82" fill="#03031a"/>
<g filter="url(#bl)">
<ellipse cx="630.4" cy="131.1" rx="4.0" ry="3.8" transform="rotate(85 630.4 131.1)" fill="#2222dc" opacity="0.70"/>
<ellipse cx="634.7" cy="139.3" rx="3.8" ry="3.4" transform="rotate(96 634.7 139.3)" fill="#2222dc" opacity="0.38"/>
<ellipse cx="632.5" cy="149.1" rx="3.3" ry="2.8" transform="rotate(136 632.5 149.1)" fill="#2222dc" opacity="0.65"/>
<ellipse cx="630.9" cy="161.0" rx="3.5" ry="3.2" transform="rotate(137 630.9 161.0)" fill="#2222dc" opacity="0.72"/>
<ellipse cx="631.0" cy="169.7" rx="3.7" ry="3.6" transform="rotate(159 631.0 169.7)" fill="#2222dc" opacity="0.36"/>
<ellipse cx="633.3" cy="181.5" rx="2.9" ry="2.6" transform="rotate(152 633.3 181.5)" fill="#2222dc" opacity="0.82"/>
<ellipse cx="634.5" cy="186.1" rx="3.9" ry="3.4" transform="rotate(35 634.5 186.1)" fill="#2222dc" opacity="0.60"/>
<ellipse cx="634.5" cy="196.9" rx="3.7" ry="3.0" transform="rotate(67 634.5 196.9)" fill="#2222dc" opacity="0.77"/>
<ellipse cx="646.2" cy="120.3" rx="4.0" ry="3.6" transform="rotate(0 646.2 120.3)" fill="#2222dc" opacity="0.38"/>
<ellipse cx="645.6" cy="131.7" rx="4.1" ry="3.6" transform="rotate(170 645.6 131.7)" fill="#2222dc" opacity="0.84"/>
<ellipse cx="640.3" cy="140.6" rx="4.2" ry="3.7" transform="rotate(4 640.3 140.6)" fill="#2222dc" opacity="0.25"/>
<ellipse cx="646.3" cy="149.8" rx="3.4" ry="3.1" transform="rotate(9 646.3 149.8)" fill="#2222dc" opacity="0.61"/>
<ellipse cx="644.8" cy="158.2" rx="4.4" ry="4.1" transform="rotate(108 644.8 158.2)" fill="#2222dc" opacity="0.64"/>
<ellipse cx="639.8" cy="172.0" rx="3.7" ry="3.4" transform="rotate(98 639.8 172.0)" fill="#2222dc" opacity="0.48"/>
<ellipse cx="644.0" cy="176.9" rx="4.1" ry="3.8" transform="rotate(5 644.0 176.9)" fill="#2222dc" opacity="0.31"/>
<ellipse cx="640.5" cy="187.5" rx="3.7" ry="3.5" transform="rotate(86 640.5 187.5)" fill="#2222dc" opacity="0.81"/>
<ellipse cx="644.5" cy="195.6" rx="3.1" ry="2.5" transform="rotate(127 644.5 195.6)" fill="#2222dc" opacity="0.65"/>
<ellipse cx="649.5" cy="140.3" rx="2.9" ry="2.5" transform="rotate(99 649.5 140.3)" fill="#2222dc" opacity="0.73"/>
<ellipse cx="651.0" cy="148.9" rx="3.5" ry="2.8" transform="rotate(34 651.0 148.9)" fill="#2222dc" opacity="0.41"/>
<ellipse cx="653.5" cy="161.8" rx="3.9" ry="3.5" transform="rotate(57 653.5 161.8)" fill="#2222dc" opacity="0.57"/>
<ellipse cx="651.3" cy="166.0" rx="3.8" ry="3.3" transform="rotate(11 651.3 166.0)" fill="#2222dc" opacity="0.45"/>
<ellipse cx="652.6" cy="181.5" rx="3.1" ry="2.9" transform="rotate(142 652.6 181.5)" fill="#2222dc" opacity="0.40"/>
<ellipse cx="649.5" cy="187.0" rx="4.3" ry="4.2" transform="rotate(164 649.5 187.0)" fill="#2222dc" opacity="0.26"/>
<ellipse cx="650.9" cy="194.6" rx="3.9" ry="3.4" transform="rotate(165 650.9 194.6)" fill="#2222dc" opacity="0.44"/>
<ellipse cx="660.6" cy="125.1" rx="4.3" ry="4.0" transform="rotate(51 660.6 125.1)" fill="#2222dc" opacity="0.32"/>
<ellipse cx="662.2" cy="130.8" rx="3.9" ry="3.7" transform="rotate(70 662.2 130.8)" fill="#2222dc" opacity="0.67"/>
<ellipse cx="658.0" cy="144.9" rx="4.0" ry="3.3" transform="rotate(30 658.0 144.9)" fill="#2222dc" opacity="0.47"/>
<ellipse cx="660.8" cy="153.4" rx="3.7" ry="3.4" transform="rotate(126 660.8 153.4)" fill="#2222dc" opacity="0.75"/>
<ellipse cx="663.7" cy="171.9" rx="3.7" ry="3.1" transform="rotate(115 663.7 171.9)" fill="#2222dc" opacity="0.76"/>
<ellipse cx="658.2" cy="178.0" rx="3.3" ry="2.8" transform="rotate(135 658.2 178.0)" fill="#2222dc" opacity="0.71"/>
<ellipse cx="662.8" cy="184.9" rx="3.5" ry="3.0" transform="rotate(177 662.8 184.9)" fill="#2222dc" opacity="0.50"/>
<ellipse cx="664.6" cy="195.5" rx="3.3" ry="2.9" transform="rotate(8 664.6 195.5)" fill="#2222dc" opacity="0.64"/>
<ellipse cx="672.8" cy="122.8" rx="3.8" ry="3.7" transform="rotate(21 672.8 122.8)" fill="#2222dc" opacity="0.66"/>
<ellipse cx="673.2" cy="130.9" rx="2.9" ry="2.5" transform="rotate(179 673.2 130.9)" fill="#2222dc" opacity="0.45"/>
<ellipse cx="668.8" cy="150.9" rx="2.9" ry="2.4" transform="rotate(3 668.8 150.9)" fill="#2222dc" opacity="0.81"/>
<ellipse cx="669.1" cy="158.1" rx="3.6" ry="3.3" transform="rotate(130 669.1 158.1)" fill="#2222dc" opacity="0.62"/>
<ellipse cx="667.3" cy="168.6" rx="3.0" ry="2.6" transform="rotate(27 667.3 168.6)" fill="#2222dc" opacity="0.67"/>
<ellipse cx="667.6" cy="176.5" rx="3.6" ry="3.3" transform="rotate(20 667.6 176.5)" fill="#2222dc" opacity="0.63"/>
<ellipse cx="673.9" cy="189.2" rx="3.3" ry="3.1" transform="rotate(85 673.9 189.2)" fill="#2222dc" opacity="0.27"/>
<ellipse cx="668.7" cy="197.4" rx="3.2" ry="3.2" transform="rotate(162 668.7 197.4)" fill="#2222dc" opacity="0.36"/>
<ellipse cx="680.6" cy="126.3" rx="3.4" ry="3.2" transform="rotate(88 680.6 126.3)" fill="#2222dc" opacity="0.38"/>
<ellipse cx="681.6" cy="135.5" rx="3.5" ry="3.5" transform="rotate(134 681.6 135.5)" fill="#2222dc" opacity="0.68"/>
<ellipse cx="677.1" cy="139.3" rx="4.1" ry="4.0" transform="rotate(123 677.1 139.3)" fill="#2222dc" opacity="0.77"/>
<ellipse cx="682.6" cy="150.2" rx="3.0" ry="2.6" transform="rotate(153 682.6 150.2)" fill="#2222dc" opacity="0.64"/>
<ellipse cx="679.0" cy="156.8" rx="4.0" ry="3.6" transform="rotate(169 679.0 156.8)" fill="#2222dc" opacity="0.71"/>
<ellipse cx="680.3" cy="172.6" rx="4.0" ry="3.4" transform="rotate(24 680.3 172.6)" fill="#2222dc" opacity="0.34"/>
<ellipse cx="679.7" cy="187.6" rx="3.9" ry="3.4" transform="rotate(107 679.7 187.6)" fill="#2222dc" opacity="0.28"/>
<ellipse cx="682.9" cy="196.1" rx="3.0" ry="2.5" transform="rotate(100 682.9 196.1)" fill="#2222dc" opacity="0.50"/>
<ellipse cx="692.0" cy="124.8" rx="4.0" ry="3.7" transform="rotate(99 692.0 124.8)" fill="#2222dc" opacity="0.47"/>
<ellipse cx="690.7" cy="133.8" rx="3.0" ry="2.9" transform="rotate(58 690.7 133.8)" fill="#2222dc" opacity="0.47"/>
<ellipse cx="686.8" cy="142.2" rx="3.0" ry="2.9" transform="rotate(40 686.8 142.2)" fill="#2222dc" opacity="0.73"/>
<ellipse cx="685.4" cy="149.2" rx="3.0" ry="2.5" transform="rotate(75 685.4 149.2)" fill="#2222dc" opacity="0.26"/>
<ellipse cx="687.8" cy="156.9" rx="3.6" ry="3.1" transform="rotate(76 687.8 156.9)" fill="#2222dc" opacity="0.59"/>
<ellipse cx="686.9" cy="165.7" rx="4.0" ry="3.8" transform="rotate(78 686.9 165.7)" fill="#2222dc" opacity="0.84"/>
<ellipse cx="685.7" cy="179.7" rx="4.0" ry="3.9" transform="rotate(48 685.7 179.7)" fill="#2222dc" opacity="0.85"/>
<ellipse cx="687.9" cy="185.2" rx="3.9" ry="3.5" transform="rotate(152 687.9 185.2)" fill="#2222dc" opacity="0.36"/>
<ellipse cx="685.8" cy="193.1" rx="3.9" ry="3.8" transform="rotate(87 685.8 193.1)" fill="#2222dc" opacity="0.32"/>
<ellipse cx="697.0" cy="121.9" rx="3.4" ry="3.1" transform="rotate(86 697.0 121.9)" fill="#2222dc" opacity="0.65"/>
<ellipse cx="696.6" cy="134.9" rx="2.9" ry="2.5" transform="rotate(101 696.6 134.9)" fill="#2222dc" opacity="0.80"/>
<ellipse cx="694.7" cy="140.7" rx="4.1" ry="3.7" transform="rotate(110 694.7 140.7)" fill="#2222dc" opacity="0.85"/>
<ellipse cx="695.0" cy="151.1" rx="4.2" ry="3.6" transform="rotate(155 695.0 151.1)" fill="#2222dc" opacity="0.37"/>
<ellipse cx="695.1" cy="161.4" rx="3.9" ry="3.5" transform="rotate(154 695.1 161.4)" fill="#2222dc" opacity="0.67"/>
<ellipse cx="695.8" cy="167.3" rx="3.3" ry="2.8" transform="rotate(125 695.8 167.3)" fill="#2222dc" opacity="0.85"/>
<ellipse cx="698.4" cy="178.0" rx="3.6" ry="3.1" transform="rotate(99 698.4 178.0)" fill="#2222dc" opacity="0.75"/>
<ellipse cx="699.1" cy="193.7" rx="3.7" ry="3.3" transform="rotate(28 699.1 193.7)" fill="#2222dc" opacity="0.68"/>
<ellipse cx="707.6" cy="124.5" rx="3.7" ry="3.7" transform="rotate(60 707.6 124.5)" fill="#2222dc" opacity="0.45"/>
<ellipse cx="704.1" cy="131.2" rx="4.0" ry="3.8" transform="rotate(76 704.1 131.2)" fill="#2222dc" opacity="0.36"/>
<ellipse cx="708.2" cy="140.6" rx="3.4" ry="3.1" transform="rotate(80 708.2 140.6)" fill="#2222dc" opacity="0.27"/>
<ellipse cx="706.0" cy="158.9" rx="3.4" ry="2.8" transform="rotate(24 706.0 158.9)" fill="#2222dc" opacity="0.46"/>
<ellipse cx="708.7" cy="184.2" rx="4.1" ry="3.9" transform="rotate(29 708.7 184.2)" fill="#2222dc" opacity="0.57"/>
<ellipse cx="703.7" cy="196.2" rx="3.1" ry="3.0" transform="rotate(36 703.7 196.2)" fill="#2222dc" opacity="0.28"/>
<ellipse cx="660.3" cy="158.9" rx="4.2" ry="3.9" fill="#3030e8" opacity="0.6"/>
<ellipse cx="674.8" cy="162.2" rx="4.2" ry="3.9" fill="#3030e8" opacity="0.6"/>
<ellipse cx="665.5" cy="172.2" rx="4.2" ry="3.9" fill="#3030e8" opacity="0.6"/>
<ellipse cx="701.6" cy="166.2" rx="4.2" ry="3.9" fill="#3030e8" opacity="0.6"/>
</g></g>
<rect x="698.8" y="197.3" width="10" height="1.8" fill="#fff"/>
<g clip-path="url(#cp14)"><rect x="714" y="119" width="82.5" height="82" fill="#1a1b34"/>
<rect x="714" y="119" width="82.5" height="82" filter="url(#tex2)" opacity="0.22"/>
<g filter="url(#bl)">
<ellipse cx="715.1" cy="131.1" rx="4.0" ry="3.8" transform="rotate(85 715.1 131.1)" fill="#c82cb4" opacity="0.73"/>
<ellipse cx="719.4" cy="139.3" rx="3.8" ry="3.4" transform="rotate(96 719.4 139.3)" fill="#7e3ccc" opacity="0.46"/>
<ellipse cx="717.2" cy="149.1" rx="3.3" ry="2.8" transform="rotate(136 717.2 149.1)" fill="#b496ea" opacity="0.68"/>
<ellipse cx="715.6" cy="161.0" rx="3.5" ry="3.2" transform="rotate(137 715.6 161.0)" fill="#7e3ccc" opacity="0.74"/>
<ellipse cx="715.7" cy="169.7" rx="3.7" ry="3.6" transform="rotate(159 715.7 169.7)" fill="#c82cb4" opacity="0.44"/>
<ellipse cx="718.0" cy="181.5" rx="2.9" ry="2.6" transform="rotate(152 718.0 181.5)" fill="#c82cb4" opacity="0.82"/>
<ellipse cx="719.2" cy="186.1" rx="3.9" ry="3.4" transform="rotate(35 719.2 186.1)" fill="#7e3ccc" opacity="0.64"/>
<ellipse cx="719.2" cy="196.9" rx="3.7" ry="3.0" transform="rotate(67 719.2 196.9)" fill="#c82cb4" opacity="0.79"/>
<ellipse cx="730.9" cy="120.3" rx="4.0" ry="3.6" transform="rotate(0 730.9 120.3)" fill="#c82cb4" opacity="0.46"/>
<ellipse cx="730.3" cy="131.7" rx="4.1" ry="3.6" transform="rotate(170 730.3 131.7)" fill="#b496ea" opacity="0.84"/>
<ellipse cx="725.0" cy="140.6" rx="4.2" ry="3.7" transform="rotate(4 725.0 140.6)" fill="#dc6cd0" opacity="0.35"/>
<ellipse cx="731.0" cy="149.8" rx="3.4" ry="3.1" transform="rotate(9 731.0 149.8)" fill="#b496ea" opacity="0.65"/>
<ellipse cx="729.5" cy="158.2" rx="4.4" ry="4.1" transform="rotate(108 729.5 158.2)" fill="#b496ea" opacity="0.67"/>
<ellipse cx="724.5" cy="172.0" rx="3.7" ry="3.4" transform="rotate(98 724.5 172.0)" fill="#b496ea" opacity="0.54"/>
<ellipse cx="728.7" cy="176.9" rx="4.1" ry="3.8" transform="rotate(5 728.7 176.9)" fill="#dc6cd0" opacity="0.40"/>
<ellipse cx="725.2" cy="187.5" rx="3.7" ry="3.5" transform="rotate(86 725.2 187.5)" fill="#b496ea" opacity="0.82"/>
<ellipse cx="729.2" cy="195.6" rx="3.1" ry="2.5" transform="rotate(127 729.2 195.6)" fill="#c82cb4" opacity="0.68"/>
<ellipse cx="734.2" cy="140.3" rx="2.9" ry="2.5" transform="rotate(99 734.2 140.3)" fill="#b496ea" opacity="0.75"/>
<ellipse cx="735.7" cy="148.9" rx="3.5" ry="2.8" transform="rotate(34 735.7 148.9)" fill="#dc6cd0" opacity="0.48"/>
<ellipse cx="738.2" cy="161.8" rx="3.9" ry="3.5" transform="rotate(57 738.2 161.8)" fill="#c82cb4" opacity="0.61"/>
<ellipse cx="736.0" cy="166.0" rx="3.8" ry="3.3" transform="rotate(11 736.0 166.0)" fill="#b496ea" opacity="0.52"/>
<ellipse cx="737.3" cy="181.5" rx="3.1" ry="2.9" transform="rotate(142 737.3 181.5)" fill="#c82cb4" opacity="0.47"/>
<ellipse cx="734.2" cy="187.0" rx="4.3" ry="4.2" transform="rotate(164 734.2 187.0)" fill="#7e3ccc" opacity="0.36"/>
<ellipse cx="735.6" cy="194.6" rx="3.9" ry="3.4" transform="rotate(165 735.6 194.6)" fill="#dc6cd0" opacity="0.51"/>
<ellipse cx="745.3" cy="125.1" rx="4.3" ry="4.0" transform="rotate(51 745.3 125.1)" fill="#7e3ccc" opacity="0.41"/>
<ellipse cx="746.9" cy="130.8" rx="3.9" ry="3.7" transform="rotate(70 746.9 130.8)" fill="#7e3ccc" opacity="0.70"/>
<ellipse cx="742.7" cy="144.9" rx="4.0" ry="3.3" transform="rotate(30 742.7 144.9)" fill="#7e3ccc" opacity="0.54"/>
<ellipse cx="745.5" cy="153.4" rx="3.7" ry="3.4" transform="rotate(126 745.5 153.4)" fill="#b496ea" opacity="0.77"/>
<ellipse cx="748.4" cy="171.9" rx="3.7" ry="3.1" transform="rotate(115 748.4 171.9)" fill="#7e3ccc" opacity="0.77"/>
<ellipse cx="742.9" cy="178.0" rx="3.3" ry="2.8" transform="rotate(135 742.9 178.0)" fill="#c82cb4" opacity="0.73"/>
<ellipse cx="747.5" cy="184.9" rx="3.5" ry="3.0" transform="rotate(177 747.5 184.9)" fill="#c82cb4" opacity="0.56"/>
<ellipse cx="749.3" cy="195.5" rx="3.3" ry="2.9" transform="rotate(8 749.3 195.5)" fill="#b496ea" opacity="0.67"/>
<ellipse cx="757.5" cy="122.8" rx="3.8" ry="3.7" transform="rotate(21 757.5 122.8)" fill="#dc6cd0" opacity="0.69"/>
<ellipse cx="757.9" cy="130.9" rx="2.9" ry="2.5" transform="rotate(179 757.9 130.9)" fill="#c82cb4" opacity="0.52"/>
<ellipse cx="753.5" cy="150.9" rx="2.9" ry="2.4" transform="rotate(3 753.5 150.9)" fill="#7e3ccc" opacity="0.82"/>
<ellipse cx="753.8" cy="158.1" rx="3.6" ry="3.3" transform="rotate(130 753.8 158.1)" fill="#b496ea" opacity="0.66"/>
<ellipse cx="752.0" cy="168.6" rx="3.0" ry="2.6" transform="rotate(27 752.0 168.6)" fill="#c82cb4" opacity="0.70"/>
<ellipse cx="752.3" cy="176.5" rx="3.6" ry="3.3" transform="rotate(20 752.3 176.5)" fill="#c82cb4" opacity="0.66"/>
<ellipse cx="758.6" cy="189.2" rx="3.3" ry="3.1" transform="rotate(85 758.6 189.2)" fill="#7e3ccc" opacity="0.37"/>
<ellipse cx="753.4" cy="197.4" rx="3.2" ry="3.2" transform="rotate(162 753.4 197.4)" fill="#dc6cd0" opacity="0.44"/>
<ellipse cx="765.3" cy="126.3" rx="3.4" ry="3.2" transform="rotate(88 765.3 126.3)" fill="#7e3ccc" opacity="0.46"/>
<ellipse cx="766.3" cy="135.5" rx="3.5" ry="3.5" transform="rotate(134 766.3 135.5)" fill="#c82cb4" opacity="0.71"/>
<ellipse cx="761.8" cy="139.3" rx="4.1" ry="4.0" transform="rotate(123 761.8 139.3)" fill="#dc6cd0" opacity="0.78"/>
<ellipse cx="767.3" cy="150.2" rx="3.0" ry="2.6" transform="rotate(153 767.3 150.2)" fill="#b496ea" opacity="0.67"/>
<ellipse cx="763.7" cy="156.8" rx="4.0" ry="3.6" transform="rotate(169 763.7 156.8)" fill="#c82cb4" opacity="0.73"/>
<ellipse cx="765.0" cy="172.6" rx="4.0" ry="3.4" transform="rotate(24 765.0 172.6)" fill="#c82cb4" opacity="0.43"/>
<ellipse cx="764.4" cy="187.6" rx="3.9" ry="3.4" transform="rotate(107 764.4 187.6)" fill="#dc6cd0" opacity="0.38"/>
<ellipse cx="767.6" cy="196.1" rx="3.0" ry="2.5" transform="rotate(100 767.6 196.1)" fill="#c82cb4" opacity="0.56"/>
<ellipse cx="776.7" cy="124.8" rx="4.0" ry="3.7" transform="rotate(99 776.7 124.8)" fill="#c82cb4" opacity="0.53"/>
<ellipse cx="775.4" cy="133.8" rx="3.0" ry="2.9" transform="rotate(58 775.4 133.8)" fill="#c82cb4" opacity="0.53"/>
<ellipse cx="771.5" cy="142.2" rx="3.0" ry="2.9" transform="rotate(40 771.5 142.2)" fill="#c82cb4" opacity="0.75"/>
<ellipse cx="770.1" cy="149.2" rx="3.0" ry="2.5" transform="rotate(75 770.1 149.2)" fill="#c82cb4" opacity="0.36"/>
<ellipse cx="772.5" cy="156.9" rx="3.6" ry="3.1" transform="rotate(76 772.5 156.9)" fill="#b496ea" opacity="0.64"/>
<ellipse cx="771.6" cy="165.7" rx="4.0" ry="3.8" transform="rotate(78 771.6 165.7)" fill="#7e3ccc" opacity="0.84"/>
<ellipse cx="770.4" cy="179.7" rx="4.0" ry="3.9" transform="rotate(48 770.4 179.7)" fill="#dc6cd0" opacity="0.85"/>
<ellipse cx="772.6" cy="185.2" rx="3.9" ry="3.5" transform="rotate(152 772.6 185.2)" fill="#c82cb4" opacity="0.44"/>
<ellipse cx="770.5" cy="193.1" rx="3.9" ry="3.8" transform="rotate(87 770.5 193.1)" fill="#dc6cd0" opacity="0.41"/>
<ellipse cx="781.7" cy="121.9" rx="3.4" ry="3.1" transform="rotate(86 781.7 121.9)" fill="#7e3ccc" opacity="0.68"/>
<ellipse cx="781.3" cy="134.9" rx="2.9" ry="2.5" transform="rotate(101 781.3 134.9)" fill="#7e3ccc" opacity="0.81"/>
<ellipse cx="779.4" cy="140.7" rx="4.1" ry="3.7" transform="rotate(110 779.4 140.7)" fill="#7e3ccc" opacity="0.85"/>
<ellipse cx="779.7" cy="151.1" rx="4.2" ry="3.6" transform="rotate(155 779.7 151.1)" fill="#b496ea" opacity="0.45"/>
<ellipse cx="779.8" cy="161.4" rx="3.9" ry="3.5" transform="rotate(154 779.8 161.4)" fill="#b496ea" opacity="0.70"/>
<ellipse cx="780.5" cy="167.3" rx="3.3" ry="2.8" transform="rotate(125 780.5 167.3)" fill="#c82cb4" opacity="0.85"/>
<ellipse cx="783.1" cy="178.0" rx="3.6" ry="3.1" transform="rotate(99 783.1 178.0)" fill="#b496ea" opacity="0.77"/>
<ellipse cx="783.8" cy="193.7" rx="3.7" ry="3.3" transform="rotate(28 783.8 193.7)" fill="#7e3ccc" opacity="0.71"/>
<ellipse cx="792.3" cy="124.5" rx="3.7" ry="3.7" transform="rotate(60 792.3 124.5)" fill="#c82cb4" opacity="0.52"/>
<ellipse cx="788.8" cy="131.2" rx="4.0" ry="3.8" transform="rotate(76 788.8 131.2)" fill="#c82cb4" opacity="0.45"/>
<ellipse cx="792.9" cy="140.6" rx="3.4" ry="3.1" transform="rotate(80 792.9 140.6)" fill="#dc6cd0" opacity="0.37"/>
<ellipse cx="790.7" cy="158.9" rx="3.4" ry="2.8" transform="rotate(24 790.7 158.9)" fill="#b496ea" opacity="0.52"/>
<ellipse cx="793.4" cy="184.2" rx="4.1" ry="3.9" transform="rotate(29 793.4 184.2)" fill="#b496ea" opacity="0.61"/>
<ellipse cx="788.4" cy="196.2" rx="3.1" ry="3.0" transform="rotate(36 788.4 196.2)" fill="#b496ea" opacity="0.38"/>
<ellipse cx="745.0" cy="158.9" rx="4.2" ry="3.9" fill="#e8c8f0" opacity="0.6"/>
<ellipse cx="759.5" cy="162.2" rx="4.2" ry="3.9" fill="#e8c8f0" opacity="0.6"/>
<ellipse cx="750.2" cy="172.2" rx="4.2" ry="3.9" fill="#e8c8f0" opacity="0.6"/>
<ellipse cx="786.3" cy="166.2" rx="4.2" ry="3.9" fill="#e8c8f0" opacity="0.6"/>
<ellipse cx="745.0" cy="131.0" rx="4.0" ry="3.6" fill="#e0d0f0" opacity="0.45"/>
<ellipse cx="771.0" cy="157.0" rx="4.0" ry="3.6" fill="#e0d0f0" opacity="0.45"/>
<ellipse cx="786.0" cy="165.0" rx="4.0" ry="3.6" fill="#e0d0f0" opacity="0.60"/>
<ellipse cx="750.0" cy="171.0" rx="4.0" ry="3.6" fill="#e0d0f0" opacity="0.45"/>
</g></g>
<rect x="783.5" y="197.3" width="10" height="1.8" fill="#fff"/>
<line x1="389.0" y1="57.0" x2="398.0" y2="57.0" stroke="#fff" stroke-width="1.6"/>
<polygon points="397.0,54.4 400.3,57.0 397.0,59.6" fill="#fff"/>
<line x1="378.0" y1="65.6" x2="387.0" y2="65.6" stroke="#fff" stroke-width="1.6"/>
<polygon points="386.0,63.0 389.3,65.6 386.0,68.2" fill="#fff"/>
<line x1="418.0" y1="76.6" x2="427.0" y2="76.6" stroke="#fff" stroke-width="1.6"/>
<polygon points="426.0,74.0 429.3,76.6 426.0,79.2" fill="#fff"/>
<line x1="390.5" y1="96.5" x2="399.5" y2="96.5" stroke="#fff" stroke-width="1.6"/>
<polygon points="398.5,93.9 401.8,96.5 398.5,99.1" fill="#fff"/>
<line x1="473.7" y1="57.0" x2="482.7" y2="57.0" stroke="#fff" stroke-width="1.6"/>
<polygon points="481.7,54.4 485.0,57.0 481.7,59.6" fill="#fff"/>
<line x1="462.7" y1="65.6" x2="471.7" y2="65.6" stroke="#fff" stroke-width="1.6"/>
<polygon points="470.7,63.0 474.0,65.6 470.7,68.2" fill="#fff"/>
<line x1="502.7" y1="76.6" x2="511.7" y2="76.6" stroke="#fff" stroke-width="1.6"/>
<polygon points="510.7,74.0 514.0,76.6 510.7,79.2" fill="#fff"/>
<line x1="475.2" y1="96.5" x2="484.2" y2="96.5" stroke="#fff" stroke-width="1.6"/>
<polygon points="483.2,93.9 486.5,96.5 483.2,99.1" fill="#fff"/>
<line x1="557.8" y1="57.0" x2="566.8" y2="57.0" stroke="#fff" stroke-width="1.6"/>
<polygon points="565.8,54.4 569.1,57.0 565.8,59.6" fill="#fff"/>
<line x1="546.8" y1="65.6" x2="555.8" y2="65.6" stroke="#fff" stroke-width="1.6"/>
<polygon points="554.8,63.0 558.1,65.6 554.8,68.2" fill="#fff"/>
<line x1="586.8" y1="76.6" x2="595.8" y2="76.6" stroke="#fff" stroke-width="1.6"/>
<polygon points="594.8,74.0 598.1,76.6 594.8,79.2" fill="#fff"/>
<line x1="559.3" y1="96.5" x2="568.3" y2="96.5" stroke="#fff" stroke-width="1.6"/>
<polygon points="567.3,93.9 570.6,96.5 567.3,99.1" fill="#fff"/>
<line x1="642.3" y1="57.0" x2="651.3" y2="57.0" stroke="#fff" stroke-width="1.6"/>
<polygon points="650.3,54.4 653.6,57.0 650.3,59.6" fill="#fff"/>
<line x1="631.3" y1="65.6" x2="640.3" y2="65.6" stroke="#fff" stroke-width="1.6"/>
<polygon points="639.3,63.0 642.6,65.6 639.3,68.2" fill="#fff"/>
<line x1="671.3" y1="76.6" x2="680.3" y2="76.6" stroke="#fff" stroke-width="1.6"/>
<polygon points="679.3,74.0 682.6,76.6 679.3,79.2" fill="#fff"/>
<line x1="643.8" y1="96.5" x2="652.8" y2="96.5" stroke="#fff" stroke-width="1.6"/>
<polygon points="651.8,93.9 655.1,96.5 651.8,99.1" fill="#fff"/>
<line x1="727.0" y1="57.0" x2="736.0" y2="57.0" stroke="#fff" stroke-width="1.6"/>
<polygon points="735.0,54.4 738.3,57.0 735.0,59.6" fill="#fff"/>
<line x1="716.0" y1="65.6" x2="725.0" y2="65.6" stroke="#fff" stroke-width="1.6"/>
<polygon points="724.0,63.0 727.3,65.6 724.0,68.2" fill="#fff"/>
<line x1="756.0" y1="76.6" x2="765.0" y2="76.6" stroke="#fff" stroke-width="1.6"/>
<polygon points="764.0,74.0 767.3,76.6 764.0,79.2" fill="#fff"/>
<line x1="728.5" y1="96.5" x2="737.5" y2="96.5" stroke="#fff" stroke-width="1.6"/>
<polygon points="736.5,93.9 739.8,96.5 736.5,99.1" fill="#fff"/>
<line x1="391.0" y1="158.9" x2="400.0" y2="158.9" stroke="#fff" stroke-width="1.6"/>
<polygon points="399.0,156.3 402.3,158.9 399.0,161.5" fill="#fff"/>
<line x1="405.5" y1="162.2" x2="414.5" y2="162.2" stroke="#fff" stroke-width="1.6"/>
<polygon points="413.5,159.6 416.8,162.2 413.5,164.8" fill="#fff"/>
<line x1="396.2" y1="172.2" x2="405.2" y2="172.2" stroke="#fff" stroke-width="1.6"/>
<polygon points="404.2,169.6 407.5,172.2 404.2,174.8" fill="#fff"/>
<line x1="432.3" y1="166.2" x2="441.3" y2="166.2" stroke="#fff" stroke-width="1.6"/>
<polygon points="440.3,163.6 443.6,166.2 440.3,168.8" fill="#fff"/>
<line x1="475.7" y1="158.9" x2="484.7" y2="158.9" stroke="#fff" stroke-width="1.6"/>
<polygon points="483.7,156.3 487.0,158.9 483.7,161.5" fill="#fff"/>
<line x1="490.2" y1="162.2" x2="499.2" y2="162.2" stroke="#fff" stroke-width="1.6"/>
<polygon points="498.2,159.6 501.5,162.2 498.2,164.8" fill="#fff"/>
<line x1="480.9" y1="172.2" x2="489.9" y2="172.2" stroke="#fff" stroke-width="1.6"/>
<polygon points="488.9,169.6 492.2,172.2 488.9,174.8" fill="#fff"/>
<line x1="517.0" y1="166.2" x2="526.0" y2="166.2" stroke="#fff" stroke-width="1.6"/>
<polygon points="525.0,163.6 528.3,166.2 525.0,168.8" fill="#fff"/>
<line x1="559.8" y1="158.9" x2="568.8" y2="158.9" stroke="#fff" stroke-width="1.6"/>
<polygon points="567.8,156.3 571.1,158.9 567.8,161.5" fill="#fff"/>
<line x1="574.3" y1="162.2" x2="583.3" y2="162.2" stroke="#fff" stroke-width="1.6"/>
<polygon points="582.3,159.6 585.6,162.2 582.3,164.8" fill="#fff"/>
<line x1="565.0" y1="172.2" x2="574.0" y2="172.2" stroke="#fff" stroke-width="1.6"/>
<polygon points="573.0,169.6 576.3,172.2 573.0,174.8" fill="#fff"/>
<line x1="601.1" y1="166.2" x2="610.1" y2="166.2" stroke="#fff" stroke-width="1.6"/>
<polygon points="609.1,163.6 612.4,166.2 609.1,168.8" fill="#fff"/>
<line x1="644.3" y1="158.9" x2="653.3" y2="158.9" stroke="#fff" stroke-width="1.6"/>
<polygon points="652.3,156.3 655.6,158.9 652.3,161.5" fill="#fff"/>
<line x1="658.8" y1="162.2" x2="667.8" y2="162.2" stroke="#fff" stroke-width="1.6"/>
<polygon points="666.8,159.6 670.1,162.2 666.8,164.8" fill="#fff"/>
<line x1="649.5" y1="172.2" x2="658.5" y2="172.2" stroke="#fff" stroke-width="1.6"/>
<polygon points="657.5,169.6 660.8,172.2 657.5,174.8" fill="#fff"/>
<line x1="685.6" y1="166.2" x2="694.6" y2="166.2" stroke="#fff" stroke-width="1.6"/>
<polygon points="693.6,163.6 696.9,166.2 693.6,168.8" fill="#fff"/>
<line x1="729.0" y1="158.9" x2="738.0" y2="158.9" stroke="#fff" stroke-width="1.6"/>
<polygon points="737.0,156.3 740.3,158.9 737.0,161.5" fill="#fff"/>
<line x1="743.5" y1="162.2" x2="752.5" y2="162.2" stroke="#fff" stroke-width="1.6"/>
<polygon points="751.5,159.6 754.8,162.2 751.5,164.8" fill="#fff"/>
<line x1="734.2" y1="172.2" x2="743.2" y2="172.2" stroke="#fff" stroke-width="1.6"/>
<polygon points="742.2,169.6 745.5,172.2 742.2,174.8" fill="#fff"/>
<line x1="770.3" y1="166.2" x2="779.3" y2="166.2" stroke="#fff" stroke-width="1.6"/>
<polygon points="778.3,163.6 781.6,166.2 778.3,168.8" fill="#fff"/>
<text x="12" y="247.4" style="font-size:10px;font-weight:bold;" fill="#111" text-anchor="start" >C</text>
<line x1="47.3" y1="291.7" x2="47.3" y2="410.1" stroke="#111" stroke-width="1.4"/>
<line x1="46.599999999999994" y1="409.3" x2="125.5" y2="409.3" stroke="#111" stroke-width="1.4"/>
<line x1="43.3" y1="409.3" x2="47.3" y2="409.3" stroke="#111" stroke-width="1.3"/>
<text x="41.5" y="412.3" style="font-size:8.3px;font-weight:bold;" fill="#111" text-anchor="end" >0</text>
<line x1="43.3" y1="385.90000000000003" x2="47.3" y2="385.90000000000003" stroke="#111" stroke-width="1.3"/>
<text x="41.5" y="388.90000000000003" style="font-size:8.3px;font-weight:bold;" fill="#111" text-anchor="end" >1</text>
<line x1="43.3" y1="362.5" x2="47.3" y2="362.5" stroke="#111" stroke-width="1.3"/>
<text x="41.5" y="365.5" style="font-size:8.3px;font-weight:bold;" fill="#111" text-anchor="end" >2</text>
<line x1="43.3" y1="339.1" x2="47.3" y2="339.1" stroke="#111" stroke-width="1.3"/>
<text x="41.5" y="342.1" style="font-size:8.3px;font-weight:bold;" fill="#111" text-anchor="end" >3</text>
<line x1="43.3" y1="315.70000000000005" x2="47.3" y2="315.70000000000005" stroke="#111" stroke-width="1.3"/>
<text x="41.5" y="318.70000000000005" style="font-size:8.3px;font-weight:bold;" fill="#111" text-anchor="end" >4</text>
<line x1="43.3" y1="292.3" x2="47.3" y2="292.3" stroke="#111" stroke-width="1.3"/>
<text x="41.5" y="295.3" style="font-size:8.3px;font-weight:bold;" fill="#111" text-anchor="end" >5</text>
<line x1="69.4" y1="409.3" x2="69.4" y2="413.3" stroke="#111" stroke-width="1.3"/>
<line x1="102.9" y1="409.3" x2="102.9" y2="413.3" stroke="#111" stroke-width="1.3"/>
<text transform="translate(16.2,347.4) rotate(-90)" text-anchor="middle" style="font-size:10.05px;font-weight:bold" fill="#111">Normalized mean intensity</text>
<text transform="translate(27.8,348.8) rotate(-90)" text-anchor="middle" style="font-size:10.15px;font-weight:bold" fill="#111">of ST3GAL1 in the mPFC</text>
<line x1="70.1" y1="319.6" x2="104.2" y2="319.6" stroke="#333" stroke-width="1.3"/>
<polygon points="77.80,306.90 78.83,309.18 81.32,309.46 79.46,311.14 79.97,313.59 77.80,312.35 75.63,313.59 76.14,311.14 74.28,309.46 76.77,309.18" fill="#1a1a1a"/>
<polygon points="84.60,306.90 85.63,309.18 88.12,309.46 86.26,311.14 86.77,313.59 84.60,312.35 82.43,313.59 82.94,311.14 81.08,309.46 83.57,309.18" fill="#1a1a1a"/>
<polygon points="91.40,306.90 92.43,309.18 94.92,309.46 93.06,311.14 93.57,313.59 91.40,312.35 89.23,313.59 89.74,311.14 87.88,309.46 90.37,309.18" fill="#1a1a1a"/>
<polygon points="98.20,306.90 99.23,309.18 101.72,309.46 99.86,311.14 100.37,313.59 98.20,312.35 96.03,313.59 96.54,311.14 94.68,309.46 97.17,309.18" fill="#1a1a1a"/>
<polygon points="69.4,403.0 68.2,401.1 67.4,398.8 65.8,396.4 63.4,394.1 61.0,391.8 59.6,389.4 59.0,387.1 59.4,384.7 60.6,382.4 62.2,380.1 63.6,377.7 64.8,375.4 65.8,373.0 66.7,370.7 67.6,368.4 67.5,366.0 68.3,363.7 69.4,360.4 69.4,360.4 70.5,363.7 71.3,366.0 71.2,368.4 72.1,370.7 73.0,373.0 74.0,375.4 75.2,377.7 76.6,380.1 78.2,382.4 79.4,384.7 79.8,387.1 79.2,389.4 77.8,391.8 75.4,394.1 73.0,396.4 71.4,398.8 70.6,401.1 69.4,403.0" fill="#fdf0f2" stroke="#d8404c" stroke-width="1.3" stroke-linejoin="round"/>
<polygon points="102.9,394.3 102.1,392.9 101.3,390.6 100.3,388.2 98.9,385.9 96.9,383.6 94.9,381.2 93.4,378.9 93.6,376.5 94.1,374.2 93.1,371.9 92.1,369.5 92.1,367.2 92.9,364.8 94.4,362.5 96.4,360.2 98.7,357.8 100.7,355.5 101.9,353.1 102.3,348.5 102.3,336.8 102.9,336.1 102.9,336.1 103.5,336.8 103.5,348.5 103.9,353.1 105.1,355.5 107.1,357.8 109.4,360.2 111.4,362.5 112.9,364.8 113.7,367.2 113.7,369.5 112.7,371.9 111.7,374.2 112.2,376.5 112.4,378.9 110.9,381.2 108.9,383.6 106.9,385.9 105.5,388.2 104.5,390.6 103.7,392.9 102.9,394.3" fill="#e8f8f1" stroke="#2a7a5e" stroke-width="1.3" stroke-linejoin="round"/>
<line x1="62.0" y1="392.0" x2="76.8" y2="392.0" stroke="#e07a84" stroke-width="1" stroke-dasharray="1.4,1.1"/>
<line x1="59.8" y1="387.1" x2="79.0" y2="387.1" stroke="#222" stroke-width="1" stroke-dasharray="1.4,1.1"/>
<line x1="62.2" y1="381.2" x2="76.6" y2="381.2" stroke="#e07a84" stroke-width="1" stroke-dasharray="1.4,1.1"/>
<line x1="94.3" y1="377.7" x2="111.5" y2="377.7" stroke="#4a9a7e" stroke-width="1" stroke-dasharray="1.4,1.1"/>
<line x1="93.8" y1="371.6" x2="112.0" y2="371.6" stroke="#222" stroke-width="1" stroke-dasharray="1.4,1.1"/>
<line x1="93.0" y1="366.9" x2="112.8" y2="366.9" stroke="#4a9a7e" stroke-width="1" stroke-dasharray="1.4,1.1"/>
<text x="57.3" y="426.5" style="font-size:10.6px;" fill="#111" text-anchor="start" >CVS.</text>
<text x="57.0" y="439.4" style="font-size:10.6px;font-style:italic;" fill="#111" text-anchor="start" >GFP</text>
<text x="91.8" y="426.5" style="font-size:10.6px;" fill="#111" text-anchor="start" >CVS.</text>
<text x="91.8" y="439.4" style="font-size:10.6px;font-style:italic;" fill="#111" text-anchor="start" >St3gal1</text>
<text x="91.8" y="452" style="font-size:10.6px;font-style:italic;" fill="#111" text-anchor="start" >-GFP</text>
<text x="138" y="247.8" style="font-size:10px;font-weight:bold;" fill="#111" text-anchor="start" >D</text>
<line x1="183.7" y1="292.4" x2="183.7" y2="364.5" stroke="#111" stroke-width="1.4"/>
<line x1="183.7" y1="372.5" x2="183.7" y2="408.9" stroke="#111" stroke-width="1.4"/>
<path d="M178.6,367.2 c1.6,-2.6 3.4,-2.6 5,-0.6 s3.4,2.1 5,-0.9 M178.6,372 c1.6,-2.6 3.4,-2.6 5,-0.6 s3.4,2.1 5,-0.9" stroke="#111" stroke-width="1.5" fill="none"/>
<line x1="183.0" y1="408.2" x2="260.6" y2="408.2" stroke="#111" stroke-width="1.4"/>
<line x1="179.1" y1="293.2" x2="183.7" y2="293.2" stroke="#111" stroke-width="1.3"/>
<text x="178.1" y="296.2" style="font-size:8.3px;font-weight:bold;" fill="#111" text-anchor="end" >800</text>
<line x1="179.1" y1="322.1" x2="183.7" y2="322.1" stroke="#111" stroke-width="1.3"/>
<text x="178.1" y="325.1" style="font-size:8.3px;font-weight:bold;" fill="#111" text-anchor="end" >600</text>
<line x1="179.1" y1="351.0" x2="183.7" y2="351.0" stroke="#111" stroke-width="1.3"/>
<text x="178.1" y="354.0" style="font-size:8.3px;font-weight:bold;" fill="#111" text-anchor="end" >400</text>
<line x1="179.1" y1="379.6" x2="183.7" y2="379.6" stroke="#111" stroke-width="1.3"/>
<text x="178.1" y="382.6" style="font-size:8.3px;font-weight:bold;" fill="#111" text-anchor="end" >5</text>
<line x1="179.1" y1="408.2" x2="183.7" y2="408.2" stroke="#111" stroke-width="1.3"/>
<text x="178.1" y="411.2" style="font-size:8.3px;font-weight:bold;" fill="#111" text-anchor="end" >0</text>
<line x1="205.6" y1="408.2" x2="205.6" y2="412.8" stroke="#111" stroke-width="1.3"/>
<line x1="238.1" y1="408.2" x2="238.1" y2="412.8" stroke="#111" stroke-width="1.3"/>
<rect x="195.5" y="403.8" width="20.2" height="4.4" fill="#fcdde2" stroke="#c9404f" stroke-width="1.3"/>
<rect x="228.2" y="341.2" width="20.2" height="67.0" fill="#cdf3e4" stroke="#2b7a5e" stroke-width="1.4"/>
<line x1="198.5" y1="403.2" x2="212.5" y2="403.2" stroke="#111" stroke-width="1"/>
<circle cx="198.6" cy="404.1" r="2.3" fill="#111"/>
<circle cx="205.4" cy="402.4" r="2.3" fill="#111"/>
<circle cx="212.1" cy="402.8" r="2.3" fill="#111"/>
<line x1="238.3" y1="320.3" x2="238.3" y2="361.5" stroke="#111" stroke-width="1.2"/>
<line x1="233.6" y1="320.3" x2="243" y2="320.3" stroke="#111" stroke-width="1.2"/>
<line x1="233.6" y1="361.5" x2="243" y2="361.5" stroke="#111" stroke-width="1.2"/>
<polygon points="238.3,316.9 235.3,322.0 241.3,322.0" fill="#111"/>
<polygon points="238.3,340.9 235.3,346.0 241.3,346.0" fill="#111"/>
<polygon points="238.3,358.6 235.3,363.7 241.3,363.7" fill="#111"/>
<line x1="201.9" y1="303.1" x2="236.3" y2="303.1" stroke="#333" stroke-width="1.3"/>
<polygon points="215.90,292.80 216.93,295.08 219.42,295.36 217.56,297.04 218.07,299.49 215.90,298.25 213.73,299.49 214.24,297.04 212.38,295.36 214.87,295.08" fill="#1a1a1a"/>
<polygon points="222.70,292.80 223.73,295.08 226.22,295.36 224.36,297.04 224.87,299.49 222.70,298.25 220.53,299.49 221.04,297.04 219.18,295.36 221.67,295.08" fill="#1a1a1a"/>
<text transform="translate(145.2,351.9) rotate(-90)" text-anchor="middle" style="font-size:10.85px;font-weight:bold" fill="#111"><tspan font-style="italic">St3gal1</tspan> expression</text>
<text transform="translate(157.7,353.1) rotate(-90)" text-anchor="middle" style="font-size:11.2px;font-weight:bold" fill="#111">(Fold change)</text>
<text x="193.9" y="426.3" style="font-size:10.6px;" fill="#111" text-anchor="start" >CVS.</text>
<text x="194.4" y="439.1" style="font-size:10.6px;font-style:italic;" fill="#111" text-anchor="start" >GFP</text>
<text x="227.5" y="426.3" style="font-size:10.6px;" fill="#111" text-anchor="start" >CVS.</text>
<text x="227.5" y="439.1" style="font-size:10.6px;font-style:italic;" fill="#111" text-anchor="start" >St3gal1</text>
<text x="227.5" y="451.6" style="font-size:10.6px;font-style:italic;" fill="#111" text-anchor="start" >-GFP</text>
<text x="278.5" y="247.7" style="font-size:10px;font-weight:bold;" fill="#111" text-anchor="start" >E</text>
<text x="323.2" y="248.8" style="font-size:13.6px;font-weight:bold" fill="#111">1<tspan dy="-4.6" style="font-size:8.4px">st</tspan><tspan dy="4.6"> NSFT</tspan></text>
<text x="450.0" y="248.8" style="font-size:13.6px;font-weight:bold" fill="#111">2<tspan dy="-4.6" style="font-size:8.4px">nd</tspan><tspan dy="4.6"> NSFT</tspan></text>
<rect x="322.0" y="357.4" width="13.9" height="50.2" fill="#d9d9d9" stroke="#1a1a1a" stroke-width="1.4"/>
<rect x="345.1" y="331.4" width="13.8" height="76.2" fill="#fcdde2" stroke="#c9404f" stroke-width="1.4"/>
<rect x="368.2" y="332.5" width="14.1" height="75.1" fill="#cdf3e4" stroke="#2b7a5e" stroke-width="1.4"/>
<line x1="329.0" y1="339.5" x2="329.0" y2="368.3" stroke="#111" stroke-width="1.2"/>
<line x1="324.5" y1="339.5" x2="333.5" y2="339.5" stroke="#111" stroke-width="1.2"/>
<line x1="324.5" y1="368.3" x2="333.5" y2="368.3" stroke="#111" stroke-width="1.2"/>
<circle cx="329.0" cy="338.3" r="2.2" fill="#111"/>
<circle cx="329.0" cy="344.7" r="2.2" fill="#111"/>
<circle cx="322.7" cy="349.3" r="2.2" fill="#111"/>
<circle cx="329.0" cy="349.3" r="2.2" fill="#111"/>
<circle cx="335.3" cy="349.3" r="2.2" fill="#111"/>
<circle cx="329.0" cy="355.6" r="2.2" fill="#111"/>
<circle cx="329.0" cy="361.4" r="2.2" fill="#111"/>
<circle cx="335.3" cy="361.4" r="2.2" fill="#111"/>
<circle cx="329.0" cy="374.1" r="2.2" fill="#111"/>
<circle cx="329.0" cy="382.2" r="2.2" fill="#111"/>
<line x1="352.0" y1="321.6" x2="352.0" y2="342.3" stroke="#111" stroke-width="1.2"/>
<line x1="347.5" y1="321.6" x2="356.5" y2="321.6" stroke="#111" stroke-width="1.2"/>
<line x1="347.5" y1="342.3" x2="356.5" y2="342.3" stroke="#111" stroke-width="1.2"/>
<polygon points="352.0,306.1 349.1,310.9 354.9,310.9" fill="#111"/>
<polygon points="352.0,316.5 349.1,321.3 354.9,321.3" fill="#111"/>
<polygon points="347.0,321.7 344.1,326.5 349.9,326.5" fill="#111"/>
<polygon points="357.0,321.7 354.1,326.5 359.9,326.5" fill="#111"/>
<polygon points="345.5,333.2 342.6,338.1 348.4,338.1" fill="#111"/>
<polygon points="352.0,333.2 349.1,338.1 354.9,338.1" fill="#111"/>
<polygon points="358.5,333.2 355.6,338.1 361.4,338.1" fill="#111"/>
<polygon points="352.0,337.3 349.1,342.1 354.9,342.1" fill="#111"/>
<polygon points="352.0,346.5 349.1,351.4 354.9,351.4" fill="#111"/>
<polygon points="352.0,328.6 349.1,333.4 354.9,333.4" fill="#111"/>
<line x1="375.2" y1="321.6" x2="375.2" y2="342.3" stroke="#111" stroke-width="1.2"/>
<line x1="370.8" y1="321.6" x2="379.8" y2="321.6" stroke="#111" stroke-width="1.2"/>
<line x1="370.8" y1="342.3" x2="379.8" y2="342.3" stroke="#111" stroke-width="1.2"/>
<polygon points="375.2,305.8 372.4,301.0 378.1,301.0" fill="#111"/>
<polygon points="375.2,329.5 372.4,324.7 378.1,324.7" fill="#111"/>
<polygon points="368.8,335.3 365.9,330.4 371.6,330.4" fill="#111"/>
<polygon points="375.2,335.3 372.4,330.4 378.1,330.4" fill="#111"/>
<polygon points="381.8,335.3 378.9,330.4 384.6,330.4" fill="#111"/>
<polygon points="375.2,339.9 372.4,335.1 378.1,335.1" fill="#111"/>
<polygon points="370.2,345.7 367.4,340.8 373.1,340.8" fill="#111"/>
<polygon points="375.2,345.7 372.4,340.8 378.1,340.8" fill="#111"/>
<polygon points="380.2,345.7 377.4,340.8 383.1,340.8" fill="#111"/>
<line x1="313.8" y1="291.5" x2="313.8" y2="408.3" stroke="#111" stroke-width="1.4"/>
<line x1="313.1" y1="407.6" x2="391.5" y2="407.6" stroke="#111" stroke-width="1.4"/>
<line x1="309.2" y1="407.6" x2="313.8" y2="407.6" stroke="#111" stroke-width="1.3"/>
<text x="308.2" y="410.6" style="font-size:8.3px;font-weight:bold;" fill="#111" text-anchor="end" >0</text>
<line x1="309.2" y1="384.5" x2="313.8" y2="384.5" stroke="#111" stroke-width="1.3"/>
<text x="308.2" y="387.5" style="font-size:8.3px;font-weight:bold;" fill="#111" text-anchor="end" >200</text>
<line x1="309.2" y1="361.4" x2="313.8" y2="361.4" stroke="#111" stroke-width="1.3"/>
<text x="308.2" y="364.4" style="font-size:8.3px;font-weight:bold;" fill="#111" text-anchor="end" >400</text>
<line x1="309.2" y1="338.3" x2="313.8" y2="338.3" stroke="#111" stroke-width="1.3"/>
<text x="308.2" y="341.3" style="font-size:8.3px;font-weight:bold;" fill="#111" text-anchor="end" >600</text>
<line x1="309.2" y1="315.2" x2="313.8" y2="315.2" stroke="#111" stroke-width="1.3"/>
<text x="308.2" y="318.2" style="font-size:8.3px;font-weight:bold;" fill="#111" text-anchor="end" >800</text>
<line x1="309.2" y1="292.1" x2="313.8" y2="292.1" stroke="#111" stroke-width="1.3"/>
<text x="308.2" y="295.1" style="font-size:8.3px;font-weight:bold;" fill="#111" text-anchor="end" >1000</text>
<line x1="328.9" y1="407.6" x2="328.9" y2="412.20000000000005" stroke="#111" stroke-width="1.3"/>
<line x1="351.9" y1="407.6" x2="351.9" y2="412.20000000000005" stroke="#111" stroke-width="1.3"/>
<line x1="374.6" y1="407.6" x2="374.6" y2="412.20000000000005" stroke="#111" stroke-width="1.3"/>
<text transform="translate(281.5,351.7) rotate(-90)" text-anchor="middle" style="font-size:9.5px;font-weight:bold" fill="#111">Latency to the first bite (sec)</text>
<line x1="321.8" y1="280.2" x2="381.5" y2="280.2" stroke="#333" stroke-width="1.3"/>
<polygon points="344.90,271.50 345.93,273.78 348.42,274.06 346.56,275.74 347.07,278.19 344.90,276.95 342.73,278.19 343.24,275.74 341.38,274.06 343.87,273.78" fill="#1a1a1a"/>
<polygon points="351.70,271.50 352.73,273.78 355.22,274.06 353.36,275.74 353.87,278.19 351.70,276.95 349.53,278.19 350.04,275.74 348.18,274.06 350.67,273.78" fill="#1a1a1a"/>
<polygon points="358.50,271.50 359.53,273.78 362.02,274.06 360.16,275.74 360.67,278.19 358.50,276.95 356.33,278.19 356.84,275.74 354.98,274.06 357.47,273.78" fill="#1a1a1a"/>
<line x1="342.5" y1="294.2" x2="380" y2="294.2" stroke="#333" stroke-width="1.3"/>
<text x="361" y="291.0" style="font-size:12.2px;" fill="#222" text-anchor="middle" >ns</text>
<line x1="321.8" y1="305.7" x2="359.2" y2="305.7" stroke="#333" stroke-width="1.3"/>
<polygon points="334.40,297.90 335.43,300.18 337.92,300.46 336.06,302.14 336.57,304.59 334.40,303.35 332.23,304.59 332.74,302.14 330.88,300.46 333.37,300.18" fill="#1a1a1a"/>
<polygon points="341.20,297.90 342.23,300.18 344.72,300.46 342.86,302.14 343.37,304.59 341.20,303.35 339.03,304.59 339.54,302.14 337.68,300.46 340.17,300.18" fill="#1a1a1a"/>
<polygon points="348.00,297.90 349.03,300.18 351.52,300.46 349.66,302.14 350.17,304.59 348.00,303.35 345.83,304.59 346.34,302.14 344.48,300.46 346.97,300.18" fill="#1a1a1a"/>
<text x="310.9" y="426.3" style="font-size:10.9px;" fill="#111" text-anchor="start" >CON.</text>
<text x="310.9" y="439.1" style="font-size:10.9px;font-style:italic;" fill="#111" text-anchor="start" >GFP</text>
<text x="341.0" y="426.3" style="font-size:10.9px;" fill="#111" text-anchor="start" >CVS.</text>
<text x="341.0" y="439.1" style="font-size:10.9px;font-style:italic;" fill="#111" text-anchor="start" >GFP</text>
<text x="370.0" y="426.3" style="font-size:10.9px;" fill="#111" text-anchor="start" >CVS.</text>
<text x="370.0" y="439.1" style="font-size:10.9px;font-style:italic;" fill="#111" text-anchor="start" >St3gal1</text>
<text x="370.0" y="451.6" style="font-size:10.9px;font-style:italic;" fill="#111" text-anchor="start" >-GFP</text>
<rect x="453.2" y="383.3" width="14.1" height="24.8" fill="#d9d9d9" stroke="#1a1a1a" stroke-width="1.4"/>
<rect x="476.3" y="352.1" width="14.8" height="56.0" fill="#fcdde2" stroke="#c9404f" stroke-width="1.4"/>
<rect x="499.5" y="372.3" width="14.8" height="35.8" fill="#cdf3e4" stroke="#2b7a5e" stroke-width="1.4"/>
<line x1="460.2" y1="371.1" x2="460.2" y2="389.6" stroke="#111" stroke-width="1.2"/>
<line x1="455.8" y1="371.1" x2="464.8" y2="371.1" stroke="#111" stroke-width="1.2"/>
<line x1="455.8" y1="389.6" x2="464.8" y2="389.6" stroke="#111" stroke-width="1.2"/>
<circle cx="460.2" cy="360.7" r="2.2" fill="#111"/>
<circle cx="460.2" cy="367.7" r="2.2" fill="#111"/>
<circle cx="454.8" cy="381.5" r="2.2" fill="#111"/>
<circle cx="458.2" cy="385.0" r="2.2" fill="#111"/>
<circle cx="462.2" cy="382.7" r="2.2" fill="#111"/>
<circle cx="465.8" cy="381.5" r="2.2" fill="#111"/>
<circle cx="460.2" cy="379.2" r="2.2" fill="#111"/>
<circle cx="460.2" cy="389.6" r="2.2" fill="#111"/>
<circle cx="460.2" cy="396.6" r="2.2" fill="#111"/>
<circle cx="460.2" cy="387.3" r="2.2" fill="#111"/>
<line x1="483.7" y1="326.1" x2="483.7" y2="377.5" stroke="#111" stroke-width="1.2"/>
<line x1="479.2" y1="326.1" x2="488.2" y2="326.1" stroke="#111" stroke-width="1.2"/>
<line x1="479.2" y1="377.5" x2="488.2" y2="377.5" stroke="#111" stroke-width="1.2"/>
<polygon points="483.7,314.1 480.8,318.9 486.6,318.9" fill="#111"/>
<polygon points="483.7,317.5 480.8,322.4 486.6,322.4" fill="#111"/>
<polygon points="483.7,334.9 480.8,339.7 486.6,339.7" fill="#111"/>
<polygon points="478.7,339.5 475.8,344.3 481.6,344.3" fill="#111"/>
<polygon points="488.7,339.5 485.8,344.3 491.6,344.3" fill="#111"/>
<polygon points="483.7,361.4 480.8,366.3 486.6,366.3" fill="#111"/>
<polygon points="476.2,382.2 473.3,387.1 479.1,387.1" fill="#111"/>
<polygon points="483.7,382.2 480.8,387.1 486.6,387.1" fill="#111"/>
<polygon points="491.2,382.2 488.3,387.1 494.1,387.1" fill="#111"/>
<line x1="506.9" y1="355.5" x2="506.9" y2="390.8" stroke="#111" stroke-width="1.2"/>
<line x1="502.4" y1="355.5" x2="511.4" y2="355.5" stroke="#111" stroke-width="1.2"/>
<line x1="502.4" y1="390.8" x2="511.4" y2="390.8" stroke="#111" stroke-width="1.2"/>
<polygon points="506.9,358.3 504.0,353.5 509.8,353.5" fill="#111"/>
<polygon points="506.9,361.2 504.0,356.4 509.8,356.4" fill="#111"/>
<polygon points="498.4,364.7 495.5,359.8 501.3,359.8" fill="#111"/>
<polygon points="506.9,364.7 504.0,359.8 509.8,359.8" fill="#111"/>
<polygon points="515.4,364.7 512.5,359.8 518.3,359.8" fill="#111"/>
<polygon points="502.9,367.6 500.0,362.7 505.8,362.7" fill="#111"/>
<polygon points="506.9,376.2 504.0,371.4 509.8,371.4" fill="#111"/>
<polygon points="506.9,382.0 504.0,377.1 509.8,377.1" fill="#111"/>
<polygon points="506.9,386.0 504.0,381.2 509.8,381.2" fill="#111"/>
<polygon points="506.9,393.5 504.0,388.7 509.8,388.7" fill="#111"/>
<line x1="444.3" y1="292.0" x2="444.3" y2="408.8" stroke="#111" stroke-width="1.4"/>
<line x1="443.6" y1="408.1" x2="522.3" y2="408.1" stroke="#111" stroke-width="1.4"/>
<line x1="439.7" y1="408.1" x2="444.3" y2="408.1" stroke="#111" stroke-width="1.3"/>
<text x="438.7" y="411.1" style="font-size:8.3px;font-weight:bold;" fill="#111" text-anchor="end" >0</text>
<line x1="439.7" y1="385.0" x2="444.3" y2="385.0" stroke="#111" stroke-width="1.3"/>
<text x="438.7" y="388.0" style="font-size:8.3px;font-weight:bold;" fill="#111" text-anchor="end" >200</text>
<line x1="439.7" y1="361.9" x2="444.3" y2="361.9" stroke="#111" stroke-width="1.3"/>
<text x="438.7" y="364.9" style="font-size:8.3px;font-weight:bold;" fill="#111" text-anchor="end" >400</text>
<line x1="439.7" y1="338.8" x2="444.3" y2="338.8" stroke="#111" stroke-width="1.3"/>
<text x="438.7" y="341.8" style="font-size:8.3px;font-weight:bold;" fill="#111" text-anchor="end" >600</text>
<line x1="439.7" y1="315.7" x2="444.3" y2="315.7" stroke="#111" stroke-width="1.3"/>
<text x="438.7" y="318.7" style="font-size:8.3px;font-weight:bold;" fill="#111" text-anchor="end" >800</text>
<line x1="439.7" y1="292.6" x2="444.3" y2="292.6" stroke="#111" stroke-width="1.3"/>
<text x="438.7" y="295.6" style="font-size:8.3px;font-weight:bold;" fill="#111" text-anchor="end" >1000</text>
<line x1="459.9" y1="408.1" x2="459.9" y2="412.70000000000005" stroke="#111" stroke-width="1.3"/>
<line x1="483.8" y1="408.1" x2="483.8" y2="412.70000000000005" stroke="#111" stroke-width="1.3"/>
<line x1="506.8" y1="408.1" x2="506.8" y2="412.70000000000005" stroke="#111" stroke-width="1.3"/>
<text transform="translate(412.6,349.6) rotate(-90)" text-anchor="middle" style="font-size:9.65px;font-weight:bold" fill="#111">Latency to the first bite (sec)</text>
<line x1="452" y1="280.2" x2="511.9" y2="280.2" stroke="#333" stroke-width="1.3"/>
<text x="483.3" y="276.8" style="font-size:12.2px;" fill="#222" text-anchor="middle" >ns</text>
<line x1="473.3" y1="294.2" x2="510.4" y2="294.2" stroke="#333" stroke-width="1.3"/>
<polygon points="493.20,286.30 494.23,288.58 496.72,288.86 494.86,290.54 495.37,292.99 493.20,291.75 491.03,292.99 491.54,290.54 489.68,288.86 492.17,288.58" fill="#1a1a1a"/>
<line x1="452" y1="305.7" x2="489.6" y2="305.7" stroke="#333" stroke-width="1.3"/>
<polygon points="468.30,298.00 469.33,300.28 471.82,300.56 469.96,302.24 470.47,304.69 468.30,303.45 466.13,304.69 466.64,302.24 464.78,300.56 467.27,300.28" fill="#1a1a1a"/>
<polygon points="475.10,298.00 476.13,300.28 478.62,300.56 476.76,302.24 477.27,304.69 475.10,303.45 472.93,304.69 473.44,302.24 471.58,300.56 474.07,300.28" fill="#1a1a1a"/>
<text x="441.8" y="426.3" style="font-size:10.9px;" fill="#111" text-anchor="start" >CON.</text>
<text x="441.8" y="439.1" style="font-size:10.9px;font-style:italic;" fill="#111" text-anchor="start" >GFP</text>
<text x="472.0" y="426.3" style="font-size:10.9px;" fill="#111" text-anchor="start" >CVS.</text>
<text x="472.0" y="439.1" style="font-size:10.9px;font-style:italic;" fill="#111" text-anchor="start" >GFP</text>
<text x="500.6" y="426.3" style="font-size:10.9px;" fill="#111" text-anchor="start" >CVS.</text>
<text x="500.6" y="439.1" style="font-size:10.9px;font-style:italic;" fill="#111" text-anchor="start" >St3gal1</text>
<text x="500.6" y="451.6" style="font-size:10.9px;font-style:italic;" fill="#111" text-anchor="start" >-GFP</text>
<text x="543.5" y="247.7" style="font-size:10px;font-weight:bold;" fill="#111" text-anchor="start" >F</text>
<text x="597.6" y="248.8" style="font-size:13.6px;font-weight:bold" fill="#111">TST</text>
<text x="720.0" y="248.8" style="font-size:13.6px;font-weight:bold" fill="#111">SPT</text>
<rect x="579.0" y="363.2" width="14.1" height="44.3" fill="#d9d9d9" stroke="#1a1a1a" stroke-width="1.4"/>
<rect x="602.7" y="335.3" width="14.1" height="72.2" fill="#fcdde2" stroke="#c9404f" stroke-width="1.4"/>
<rect x="626.2" y="353.9" width="14.4" height="53.6" fill="#cdf3e4" stroke="#2b7a5e" stroke-width="1.4"/>
<line x1="586.0" y1="347.9" x2="586.0" y2="378.6" stroke="#111" stroke-width="1.2"/>
<line x1="581.5" y1="347.9" x2="590.5" y2="347.9" stroke="#111" stroke-width="1.2"/>
<line x1="581.5" y1="378.6" x2="590.5" y2="378.6" stroke="#111" stroke-width="1.2"/>
<circle cx="590.0" cy="341.3" r="2.2" fill="#111"/>
<circle cx="581.5" cy="345.1" r="2.2" fill="#111"/>
<circle cx="586.0" cy="349.2" r="2.2" fill="#111"/>
<circle cx="581.5" cy="357.2" r="2.2" fill="#111"/>
<circle cx="590.0" cy="360.4" r="2.2" fill="#111"/>
<circle cx="586.0" cy="365.1" r="2.2" fill="#111"/>
<circle cx="586.0" cy="367.9" r="2.2" fill="#111"/>
<circle cx="586.0" cy="377.7" r="2.2" fill="#111"/>
<circle cx="581.5" cy="384.7" r="2.2" fill="#111"/>
<circle cx="590.0" cy="383.3" r="2.2" fill="#111"/>
<line x1="609.8" y1="327.3" x2="609.8" y2="344.1" stroke="#111" stroke-width="1.2"/>
<line x1="605.2" y1="327.3" x2="614.2" y2="327.3" stroke="#111" stroke-width="1.2"/>
<line x1="605.2" y1="344.1" x2="614.2" y2="344.1" stroke="#111" stroke-width="1.2"/>
<polygon points="609.8,318.5 606.9,323.4 612.6,323.4" fill="#111"/>
<polygon points="603.2,324.6 600.4,329.4 606.1,329.4" fill="#111"/>
<polygon points="616.2,324.6 613.4,329.4 619.1,329.4" fill="#111"/>
<polygon points="609.8,325.5 606.9,330.4 612.6,330.4" fill="#111"/>
<polygon points="609.8,330.2 606.9,335.0 612.6,335.0" fill="#111"/>
<polygon points="609.8,334.8 606.9,339.7 612.6,339.7" fill="#111"/>
<polygon points="609.8,339.0 606.9,343.9 612.6,343.9" fill="#111"/>
<polygon points="604.8,346.9 601.9,351.8 607.6,351.8" fill="#111"/>
<polygon points="614.8,346.9 611.9,351.8 617.6,351.8" fill="#111"/>
<polygon points="609.8,343.2 606.9,348.1 612.6,348.1" fill="#111"/>
<line x1="633.4" y1="332.9" x2="633.4" y2="374.9" stroke="#111" stroke-width="1.2"/>
<line x1="628.9" y1="332.9" x2="637.9" y2="332.9" stroke="#111" stroke-width="1.2"/>
<line x1="628.9" y1="374.9" x2="637.9" y2="374.9" stroke="#111" stroke-width="1.2"/>
<polygon points="626.9,335.7 624.0,330.9 629.8,330.9" fill="#111"/>
<polygon points="633.4,335.7 630.5,330.9 636.3,330.9" fill="#111"/>
<polygon points="639.9,335.7 637.0,330.9 642.8,330.9" fill="#111"/>
<polygon points="626.9,340.4 624.0,335.5 629.8,335.5" fill="#111"/>
<polygon points="633.4,340.4 630.5,335.5 636.3,335.5" fill="#111"/>
<polygon points="633.4,346.4 630.5,341.6 636.3,341.6" fill="#111"/>
<polygon points="626.9,353.0 624.0,348.1 629.8,348.1" fill="#111"/>
<polygon points="639.9,353.0 637.0,348.1 642.8,348.1" fill="#111"/>
<polygon points="626.9,377.7 624.0,372.8 629.8,372.8" fill="#111"/>
<polygon points="639.9,377.7 637.0,372.8 642.8,372.8" fill="#111"/>
<polygon points="633.4,397.7 630.5,392.8 636.3,392.8" fill="#111"/>
<line x1="571.2" y1="290.4" x2="571.2" y2="408.2" stroke="#111" stroke-width="1.4"/>
<line x1="570.5" y1="407.5" x2="649.2" y2="407.5" stroke="#111" stroke-width="1.4"/>
<line x1="566.6" y1="407.5" x2="571.2" y2="407.5" stroke="#111" stroke-width="1.3"/>
<text x="565.6" y="410.5" style="font-size:8.3px;font-weight:bold;" fill="#111" text-anchor="end" >0</text>
<line x1="566.6" y1="384.2" x2="571.2" y2="384.2" stroke="#111" stroke-width="1.3"/>
<text x="565.6" y="387.2" style="font-size:8.3px;font-weight:bold;" fill="#111" text-anchor="end" >50</text>
<line x1="566.6" y1="360.9" x2="571.2" y2="360.9" stroke="#111" stroke-width="1.3"/>
<text x="565.6" y="363.9" style="font-size:8.3px;font-weight:bold;" fill="#111" text-anchor="end" >100</text>
<line x1="566.6" y1="337.6" x2="571.2" y2="337.6" stroke="#111" stroke-width="1.3"/>
<text x="565.6" y="340.6" style="font-size:8.3px;font-weight:bold;" fill="#111" text-anchor="end" >150</text>
<line x1="566.6" y1="314.3" x2="571.2" y2="314.3" stroke="#111" stroke-width="1.3"/>
<text x="565.6" y="317.3" style="font-size:8.3px;font-weight:bold;" fill="#111" text-anchor="end" >200</text>
<line x1="566.6" y1="291.0" x2="571.2" y2="291.0" stroke="#111" stroke-width="1.3"/>
<text x="565.6" y="294.0" style="font-size:8.3px;font-weight:bold;" fill="#111" text-anchor="end" >250</text>
<line x1="586.2" y1="407.5" x2="586.2" y2="412.1" stroke="#111" stroke-width="1.3"/>
<line x1="609.6" y1="407.5" x2="609.6" y2="412.1" stroke="#111" stroke-width="1.3"/>
<line x1="632.8" y1="407.5" x2="632.8" y2="412.1" stroke="#111" stroke-width="1.3"/>
<text transform="translate(545.0,347.8) rotate(-90)" text-anchor="middle" style="font-size:9.7px;font-weight:bold" fill="#111">Immobility time (sec)</text>
<line x1="580" y1="282" x2="639.4" y2="282" stroke="#333" stroke-width="1.3"/>
<text x="611.5" y="279" style="font-size:12.2px;" fill="#222" text-anchor="middle" >ns</text>
<line x1="600.8" y1="295.2" x2="638.3" y2="295.2" stroke="#333" stroke-width="1.3"/>
<polygon points="621.50,287.20 622.53,289.48 625.02,289.76 623.16,291.44 623.67,293.89 621.50,292.65 619.33,293.89 619.84,291.44 617.98,289.76 620.47,289.48" fill="#1a1a1a"/>
<line x1="580" y1="308" x2="617.5" y2="308" stroke="#333" stroke-width="1.3"/>
<polygon points="595.40,299.30 596.43,301.58 598.92,301.86 597.06,303.54 597.57,305.99 595.40,304.75 593.23,305.99 593.74,303.54 591.88,301.86 594.37,301.58" fill="#1a1a1a"/>
<polygon points="602.20,299.30 603.23,301.58 605.72,301.86 603.86,303.54 604.37,305.99 602.20,304.75 600.03,305.99 600.54,303.54 598.68,301.86 601.17,301.58" fill="#1a1a1a"/>
<text x="567.2" y="426.3" style="font-size:10.9px;" fill="#111" text-anchor="start" >CON.</text>
<text x="567.2" y="439.1" style="font-size:10.9px;font-style:italic;" fill="#111" text-anchor="start" >GFP</text>
<text x="598.0" y="426.3" style="font-size:10.9px;" fill="#111" text-anchor="start" >CVS.</text>
<text x="598.0" y="439.1" style="font-size:10.9px;font-style:italic;" fill="#111" text-anchor="start" >GFP</text>
<text x="627.0" y="426.3" style="font-size:10.9px;" fill="#111" text-anchor="start" >CVS.</text>
<text x="627.0" y="439.1" style="font-size:10.9px;font-style:italic;" fill="#111" text-anchor="start" >St3gal1</text>
<text x="627.0" y="451.6" style="font-size:10.9px;font-style:italic;" fill="#111" text-anchor="start" >-GFP</text>
<rect x="705.0" y="322.5" width="14.3" height="85.0" fill="#d9d9d9" stroke="#1a1a1a" stroke-width="1.4"/>
<rect x="728.2" y="341.1" width="14.1" height="66.4" fill="#fcdde2" stroke="#c9404f" stroke-width="1.4"/>
<rect x="751.5" y="336.4" width="14.1" height="71.1" fill="#cdf3e4" stroke="#2b7a5e" stroke-width="1.4"/>
<line x1="712.1" y1="315.5" x2="712.1" y2="329.4" stroke="#111" stroke-width="1.2"/>
<line x1="707.6" y1="315.5" x2="716.6" y2="315.5" stroke="#111" stroke-width="1.2"/>
<line x1="707.6" y1="329.4" x2="716.6" y2="329.4" stroke="#111" stroke-width="1.2"/>
<circle cx="712.1" cy="309.9" r="2.2" fill="#111"/>
<circle cx="706.1" cy="314.1" r="2.2" fill="#111"/>
<circle cx="718.1" cy="314.1" r="2.2" fill="#111"/>
<circle cx="712.1" cy="316.2" r="2.2" fill="#111"/>
<circle cx="705.1" cy="318.3" r="2.2" fill="#111"/>
<circle cx="719.1" cy="318.3" r="2.2" fill="#111"/>
<circle cx="709.1" cy="329.0" r="2.2" fill="#111"/>
<circle cx="715.1" cy="329.0" r="2.2" fill="#111"/>
<circle cx="712.1" cy="329.0" r="2.2" fill="#111"/>
<circle cx="712.1" cy="340.9" r="2.2" fill="#111"/>
<line x1="735.2" y1="328.3" x2="735.2" y2="352.7" stroke="#111" stroke-width="1.2"/>
<line x1="730.8" y1="328.3" x2="739.8" y2="328.3" stroke="#111" stroke-width="1.2"/>
<line x1="730.8" y1="352.7" x2="739.8" y2="352.7" stroke="#111" stroke-width="1.2"/>
<polygon points="735.2,320.1 732.4,325.0 738.1,325.0" fill="#111"/>
<polygon points="735.2,326.4 732.4,331.3 738.1,331.3" fill="#111"/>
<polygon points="729.2,335.1 726.4,339.9 732.1,339.9" fill="#111"/>
<polygon points="735.2,337.2 732.4,342.0 738.1,342.0" fill="#111"/>
<polygon points="741.2,335.1 738.4,339.9 744.1,339.9" fill="#111"/>
<polygon points="735.2,342.5 732.4,347.4 738.1,347.4" fill="#111"/>
<polygon points="735.2,348.3 732.4,353.2 738.1,353.2" fill="#111"/>
<polygon points="735.2,366.5 732.4,371.4 738.1,371.4" fill="#111"/>
<line x1="758.5" y1="314.1" x2="758.5" y2="358.6" stroke="#111" stroke-width="1.2"/>
<line x1="754.0" y1="314.1" x2="763.0" y2="314.1" stroke="#111" stroke-width="1.2"/>
<line x1="754.0" y1="358.6" x2="763.0" y2="358.6" stroke="#111" stroke-width="1.2"/>
<polygon points="758.5,309.4 755.7,304.5 761.4,304.5" fill="#111"/>
<polygon points="753.0,316.8 750.2,312.0 755.9,312.0" fill="#111"/>
<polygon points="764.0,316.8 761.2,312.0 766.9,312.0" fill="#111"/>
<polygon points="752.0,338.7 749.2,333.9 754.9,333.9" fill="#111"/>
<polygon points="758.5,338.7 755.7,333.9 761.4,333.9" fill="#111"/>
<polygon points="765.0,338.7 762.2,333.9 767.9,333.9" fill="#111"/>
<polygon points="758.5,343.9 755.7,339.0 761.4,339.0" fill="#111"/>
<polygon points="758.5,351.3 755.7,346.5 761.4,346.5" fill="#111"/>
<polygon points="758.5,362.7 755.7,357.9 761.4,357.9" fill="#111"/>
<polygon points="758.5,375.3 755.7,370.5 761.4,370.5" fill="#111"/>
<line x1="696.2" y1="290.4" x2="696.2" y2="408.2" stroke="#111" stroke-width="1.4"/>
<line x1="695.5" y1="407.5" x2="774.9" y2="407.5" stroke="#111" stroke-width="1.4"/>
<line x1="691.6" y1="407.5" x2="696.2" y2="407.5" stroke="#111" stroke-width="1.3"/>
<text x="690.6" y="410.5" style="font-size:8.3px;font-weight:bold;" fill="#111" text-anchor="end" >50</text>
<line x1="691.6" y1="384.2" x2="696.2" y2="384.2" stroke="#111" stroke-width="1.3"/>
<text x="690.6" y="387.2" style="font-size:8.3px;font-weight:bold;" fill="#111" text-anchor="end" >60</text>
<line x1="691.6" y1="360.9" x2="696.2" y2="360.9" stroke="#111" stroke-width="1.3"/>
<text x="690.6" y="363.9" style="font-size:8.3px;font-weight:bold;" fill="#111" text-anchor="end" >70</text>
<line x1="691.6" y1="337.6" x2="696.2" y2="337.6" stroke="#111" stroke-width="1.3"/>
<text x="690.6" y="340.6" style="font-size:8.3px;font-weight:bold;" fill="#111" text-anchor="end" >80</text>
<line x1="691.6" y1="314.3" x2="696.2" y2="314.3" stroke="#111" stroke-width="1.3"/>
<text x="690.6" y="317.3" style="font-size:8.3px;font-weight:bold;" fill="#111" text-anchor="end" >90</text>
<line x1="691.6" y1="291.0" x2="696.2" y2="291.0" stroke="#111" stroke-width="1.3"/>
<text x="690.6" y="294.0" style="font-size:8.3px;font-weight:bold;" fill="#111" text-anchor="end" >100</text>
<line x1="711.9" y1="407.5" x2="711.9" y2="412.1" stroke="#111" stroke-width="1.3"/>
<line x1="735.3" y1="407.5" x2="735.3" y2="412.1" stroke="#111" stroke-width="1.3"/>
<line x1="758.5" y1="407.5" x2="758.5" y2="412.1" stroke="#111" stroke-width="1.3"/>
<text transform="translate(670.0,347.7) rotate(-90)" text-anchor="middle" style="font-size:9.9px;font-weight:bold" fill="#111">Sucrose preference (%)</text>
<line x1="704" y1="273.3" x2="766.2" y2="273.3" stroke="#333" stroke-width="1.3"/>
<text x="734.4" y="270.6" style="font-size:12.2px;" fill="#222" text-anchor="middle" >ns</text>
<line x1="725.8" y1="288.3" x2="765.4" y2="288.3" stroke="#333" stroke-width="1.3"/>
<text x="745.7" y="285.2" style="font-size:12.2px;" fill="#222" text-anchor="middle" >ns</text>
<line x1="704" y1="300.8" x2="743" y2="300.8" stroke="#333" stroke-width="1.3"/>
<polygon points="723.80,290.80 724.83,293.08 727.32,293.36 725.46,295.04 725.97,297.49 723.80,296.25 721.63,297.49 722.14,295.04 720.28,293.36 722.77,293.08" fill="#1a1a1a"/>
<text x="693.1" y="426.3" style="font-size:10.9px;" fill="#111" text-anchor="start" >CON.</text>
<text x="693.1" y="439.1" style="font-size:10.9px;font-style:italic;" fill="#111" text-anchor="start" >GFP</text>
<text x="723.0" y="426.3" style="font-size:10.9px;" fill="#111" text-anchor="start" >CVS.</text>
<text x="723.0" y="439.1" style="font-size:10.9px;font-style:italic;" fill="#111" text-anchor="start" >GFP</text>
<text x="752.2" y="426.3" style="font-size:10.9px;" fill="#111" text-anchor="start" >CVS.</text>
<text x="752.2" y="439.1" style="font-size:10.9px;font-style:italic;" fill="#111" text-anchor="start" >St3gal1</text>
<text x="752.2" y="451.6" style="font-size:10.9px;font-style:italic;" fill="#111" text-anchor="start" >-GFP</text>
</svg></body></html>
